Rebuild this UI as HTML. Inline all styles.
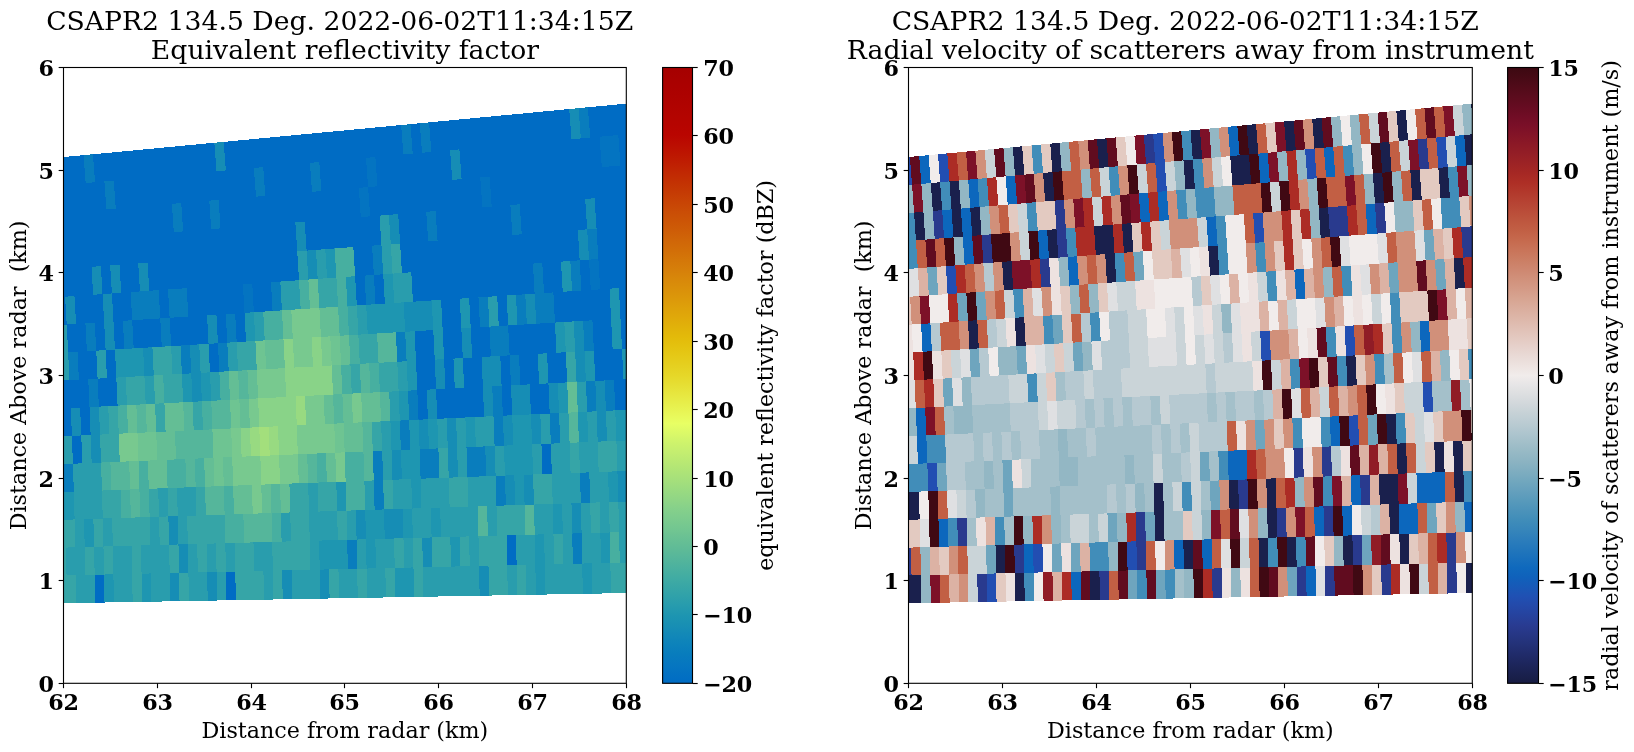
<!DOCTYPE html>
<html><head><meta charset="utf-8"><title>CSAPR2 RHI</title>
<style>
html,body{margin:0;padding:0;background:#fff;}
body{width:1634px;height:752px;overflow:hidden;}
svg{display:block;will-change:transform;}
text{font-family:"DejaVu Serif","Liberation Serif",serif;fill:#000;}
.ti{font-size:26.67px;}
.lb{font-size:22.22px;}
.tk{font-size:22.22px;font-weight:bold;letter-spacing:-0.3px;}
</style></head><body>
<svg width="1634" height="752" viewBox="0 0 1634 752">
<defs><linearGradient id="gh" x1="0" y1="0" x2="0" y2="1"><stop offset="0.0000" stop-color="#a50000"/><stop offset="0.0156" stop-color="#a80100"/><stop offset="0.0312" stop-color="#ab0100"/><stop offset="0.0469" stop-color="#ad0200"/><stop offset="0.0625" stop-color="#b00300"/><stop offset="0.0781" stop-color="#b30400"/><stop offset="0.0938" stop-color="#b60400"/><stop offset="0.1094" stop-color="#b90500"/><stop offset="0.1250" stop-color="#bb0d01"/><stop offset="0.1406" stop-color="#bd1601"/><stop offset="0.1562" stop-color="#bf1f02"/><stop offset="0.1719" stop-color="#c12903"/><stop offset="0.1875" stop-color="#c33203"/><stop offset="0.2031" stop-color="#c53b04"/><stop offset="0.2188" stop-color="#c84405"/><stop offset="0.2344" stop-color="#ca4d06"/><stop offset="0.2500" stop-color="#cc5506"/><stop offset="0.2656" stop-color="#ce5d07"/><stop offset="0.2812" stop-color="#d06608"/><stop offset="0.2969" stop-color="#d26e08"/><stop offset="0.3125" stop-color="#d47709"/><stop offset="0.3281" stop-color="#d67f0a"/><stop offset="0.3438" stop-color="#d8880a"/><stop offset="0.3594" stop-color="#da900a"/><stop offset="0.3750" stop-color="#dc980a"/><stop offset="0.3906" stop-color="#dea10a"/><stop offset="0.4062" stop-color="#e0a90a"/><stop offset="0.4219" stop-color="#e1b20a"/><stop offset="0.4375" stop-color="#e3ba0a"/><stop offset="0.4531" stop-color="#e4c20f"/><stop offset="0.4688" stop-color="#e5c917"/><stop offset="0.4844" stop-color="#e5d020"/><stop offset="0.5000" stop-color="#e6d728"/><stop offset="0.5156" stop-color="#e6df34"/><stop offset="0.5312" stop-color="#e7e740"/><stop offset="0.5469" stop-color="#e7ef4c"/><stop offset="0.5625" stop-color="#e8f758"/><stop offset="0.5781" stop-color="#e8ff64"/><stop offset="0.5938" stop-color="#dbf968"/><stop offset="0.6094" stop-color="#cef36c"/><stop offset="0.6250" stop-color="#c4ee70"/><stop offset="0.6406" stop-color="#b9e973"/><stop offset="0.6562" stop-color="#aee477"/><stop offset="0.6719" stop-color="#a4df7c"/><stop offset="0.6875" stop-color="#99da81"/><stop offset="0.7031" stop-color="#8fd586"/><stop offset="0.7188" stop-color="#84d08b"/><stop offset="0.7344" stop-color="#7bcb8e"/><stop offset="0.7500" stop-color="#72c691"/><stop offset="0.7656" stop-color="#68c094"/><stop offset="0.7812" stop-color="#5fbb97"/><stop offset="0.7969" stop-color="#55b69b"/><stop offset="0.8125" stop-color="#4bb19f"/><stop offset="0.8281" stop-color="#41aca3"/><stop offset="0.8438" stop-color="#38a6a6"/><stop offset="0.8594" stop-color="#2fa1aa"/><stop offset="0.8750" stop-color="#269bae"/><stop offset="0.8906" stop-color="#1d95b1"/><stop offset="0.9062" stop-color="#188fb4"/><stop offset="0.9219" stop-color="#1288b8"/><stop offset="0.9375" stop-color="#0c82bb"/><stop offset="0.9531" stop-color="#087cbd"/><stop offset="0.9688" stop-color="#0677c0"/><stop offset="0.9844" stop-color="#0371c2"/><stop offset="1.0000" stop-color="#006cc4"/></linearGradient><linearGradient id="gb" x1="0" y1="0" x2="0" y2="1"><stop offset="0.0000" stop-color="#3c0911"/><stop offset="0.0156" stop-color="#460a15"/><stop offset="0.0312" stop-color="#510b19"/><stop offset="0.0469" stop-color="#5b0c1d"/><stop offset="0.0625" stop-color="#650c21"/><stop offset="0.0781" stop-color="#700d25"/><stop offset="0.0938" stop-color="#7a0f28"/><stop offset="0.1094" stop-color="#831427"/><stop offset="0.1250" stop-color="#8c1926"/><stop offset="0.1406" stop-color="#941e26"/><stop offset="0.1562" stop-color="#9d2325"/><stop offset="0.1719" stop-color="#a62824"/><stop offset="0.1875" stop-color="#ae2f26"/><stop offset="0.2031" stop-color="#b2392c"/><stop offset="0.2188" stop-color="#b64333"/><stop offset="0.2344" stop-color="#ba4d39"/><stop offset="0.2500" stop-color="#be573f"/><stop offset="0.2656" stop-color="#c26045"/><stop offset="0.2812" stop-color="#c66a4e"/><stop offset="0.2969" stop-color="#c97459"/><stop offset="0.3125" stop-color="#cb7e64"/><stop offset="0.3281" stop-color="#ce8770"/><stop offset="0.3438" stop-color="#d1917b"/><stop offset="0.3594" stop-color="#d49a86"/><stop offset="0.3750" stop-color="#d7a491"/><stop offset="0.3906" stop-color="#daad9d"/><stop offset="0.4062" stop-color="#ddb6a8"/><stop offset="0.4219" stop-color="#e0bfb4"/><stop offset="0.4375" stop-color="#e3c8bf"/><stop offset="0.4531" stop-color="#e6d1cb"/><stop offset="0.4688" stop-color="#e9dad6"/><stop offset="0.4844" stop-color="#ede3e0"/><stop offset="0.5000" stop-color="#f1eceb"/><stop offset="0.5156" stop-color="#e6e5e6"/><stop offset="0.5312" stop-color="#dcdee0"/><stop offset="0.5469" stop-color="#d1d7db"/><stop offset="0.5625" stop-color="#c5d1d6"/><stop offset="0.5781" stop-color="#bacbd2"/><stop offset="0.5938" stop-color="#aec5ce"/><stop offset="0.6094" stop-color="#a2bfc9"/><stop offset="0.6250" stop-color="#96b9c5"/><stop offset="0.6406" stop-color="#8bb3c2"/><stop offset="0.6562" stop-color="#7eadc0"/><stop offset="0.6719" stop-color="#71a7be"/><stop offset="0.6875" stop-color="#65a0bd"/><stop offset="0.7031" stop-color="#589abb"/><stop offset="0.7188" stop-color="#4c93ba"/><stop offset="0.7344" stop-color="#408db9"/><stop offset="0.7500" stop-color="#3786ba"/><stop offset="0.7656" stop-color="#2d7ebb"/><stop offset="0.7812" stop-color="#2377bb"/><stop offset="0.7969" stop-color="#1970bc"/><stop offset="0.8125" stop-color="#0f69bd"/><stop offset="0.8281" stop-color="#1061bb"/><stop offset="0.8438" stop-color="#1859b7"/><stop offset="0.8594" stop-color="#2050b3"/><stop offset="0.8750" stop-color="#2449a9"/><stop offset="0.8906" stop-color="#26429d"/><stop offset="0.9062" stop-color="#293b91"/><stop offset="0.9219" stop-color="#263684"/><stop offset="0.9375" stop-color="#233177"/><stop offset="0.9531" stop-color="#202b6a"/><stop offset="0.9688" stop-color="#1d265c"/><stop offset="0.9844" stop-color="#1a214f"/><stop offset="1.0000" stop-color="#171c42"/></linearGradient></defs>
<clipPath id="clipL"><rect x="63.50" y="67.50" width="562.80" height="615.80"/></clipPath>
<g clip-path="url(#clipL)" shape-rendering="crispEdges"><polygon points="57.63,603.36 67.01,603.19 76.38,603.02 75.91,575.16 66.54,575.37 57.16,575.58" fill="#36a5a7"/>
<polygon points="76.38,603.02 85.76,602.86 95.14,602.69 94.67,574.74 85.29,574.95 75.91,575.16" fill="#299dad"/>
<polygon points="95.14,602.69 104.52,602.52 104.05,574.52 94.67,574.74" fill="#006cc4"/>
<polygon points="104.52,602.52 113.90,602.35 113.42,574.31 104.05,574.52" fill="#1e96b1"/>
<polygon points="113.90,602.35 123.27,602.19 132.65,602.02 132.18,573.89 122.80,574.10 113.42,574.31" fill="#299dad"/>
<polygon points="132.65,602.02 142.03,601.85 141.55,573.67 132.18,573.89" fill="#36a5a7"/>
<polygon points="142.03,601.85 151.41,601.69 150.93,573.46 141.55,573.67" fill="#1e96b1"/>
<polygon points="151.41,601.69 160.78,601.52 170.16,601.35 169.68,573.04 160.31,573.25 150.93,573.46" fill="#299dad"/>
<polygon points="170.16,601.35 179.54,601.18 179.06,572.82 169.68,573.04" fill="#168db5"/>
<polygon points="179.54,601.18 188.92,601.01 188.44,572.61 179.06,572.82" fill="#36a5a7"/>
<polygon points="188.92,601.01 198.30,600.85 207.67,600.68 207.19,572.19 197.81,572.40 188.44,572.61" fill="#299dad"/>
<polygon points="207.67,600.68 217.05,600.51 216.57,571.97 207.19,572.19" fill="#168db5"/>
<polygon points="217.05,600.51 226.43,600.34 225.94,571.76 216.57,571.97" fill="#299dad"/>
<polygon points="226.43,600.34 235.81,600.17 235.32,571.54 225.94,571.76" fill="#006cc4"/>
<polygon points="235.81,600.17 245.19,600.00 254.56,599.83 263.94,599.66 263.45,570.90 254.07,571.12 244.70,571.33 235.32,571.54" fill="#36a5a7"/>
<polygon points="263.94,599.66 273.32,599.50 272.83,570.69 263.45,570.90" fill="#299dad"/>
<polygon points="273.32,599.50 282.70,599.33 282.20,570.48 272.83,570.69" fill="#36a5a7"/>
<polygon points="282.70,599.33 292.07,599.16 291.58,570.26 282.20,570.48" fill="#168db5"/>
<polygon points="292.07,599.16 301.45,598.99 310.83,598.82 320.21,598.65 319.71,569.62 310.33,569.83 300.96,570.05 291.58,570.26" fill="#299dad"/>
<polygon points="320.21,598.65 329.59,598.48 329.09,569.40 319.71,569.62" fill="#168db5"/>
<polygon points="329.59,598.48 338.96,598.31 338.46,569.19 329.09,569.40" fill="#36a5a7"/>
<polygon points="338.96,598.31 348.34,598.14 357.72,597.97 357.22,568.76 347.84,568.97 338.46,569.19" fill="#299dad"/>
<polygon points="357.72,597.97 367.10,597.80 366.59,568.54 357.22,568.76" fill="#36a5a7"/>
<polygon points="367.10,597.80 376.47,597.63 385.85,597.46 385.35,568.11 375.97,568.33 366.59,568.54" fill="#299dad"/>
<polygon points="385.85,597.46 395.23,597.28 394.72,567.90 385.35,568.11" fill="#36a5a7"/>
<polygon points="395.23,597.28 404.61,597.11 413.99,596.94 413.48,567.46 404.10,567.68 394.72,567.90" fill="#1e96b1"/>
<polygon points="413.99,596.94 423.36,596.77 422.85,567.25 413.48,567.46" fill="#36a5a7"/>
<polygon points="423.36,596.77 432.74,596.60 442.12,596.43 451.50,596.26 460.87,596.09 470.25,595.91 479.63,595.74 479.11,565.95 469.74,566.17 460.36,566.38 450.98,566.60 441.61,566.82 432.23,567.03 422.85,567.25" fill="#299dad"/>
<polygon points="479.63,595.74 489.01,595.57 488.49,565.73 479.11,565.95" fill="#168db5"/>
<polygon points="489.01,595.57 498.39,595.40 507.76,595.23 507.24,565.30 497.87,565.52 488.49,565.73" fill="#36a5a7"/>
<polygon points="507.76,595.23 517.14,595.05 516.62,565.08 507.24,565.30" fill="#299dad"/>
<polygon points="517.14,595.05 526.52,594.88 526.00,564.87 516.62,565.08" fill="#36a5a7"/>
<polygon points="526.52,594.88 535.90,594.71 535.37,564.65 526.00,564.87" fill="#299dad"/>
<polygon points="535.90,594.71 545.27,594.54 544.75,564.43 535.37,564.65" fill="#1e96b1"/>
<polygon points="545.27,594.54 554.65,594.36 564.03,594.19 573.41,594.02 582.79,593.84 582.26,563.56 572.88,563.78 563.50,564.00 554.13,564.21 544.75,564.43" fill="#299dad"/>
<polygon points="582.79,593.84 592.16,593.67 591.63,563.34 582.26,563.56" fill="#1e96b1"/>
<polygon points="592.16,593.67 601.54,593.50 610.92,593.32 610.39,562.90 601.01,563.12 591.63,563.34" fill="#299dad"/>
<polygon points="610.92,593.32 620.30,593.15 629.67,592.98 639.05,592.80 648.43,592.63 657.81,592.45 667.18,592.28 666.65,561.59 657.27,561.81 647.89,562.03 638.52,562.25 629.14,562.47 619.76,562.69 610.39,562.90" fill="#36a5a7"/>
<polygon points="57.16,575.58 66.54,575.37 65.96,547.55 56.58,547.81" fill="#36a5a7"/>
<polygon points="66.54,575.37 75.91,575.16 85.29,574.95 84.71,547.04 75.33,547.30 65.96,547.55" fill="#299dad"/>
<polygon points="85.29,574.95 94.67,574.74 94.09,546.78 84.71,547.04" fill="#36a5a7"/>
<polygon points="94.67,574.74 104.05,574.52 103.46,546.53 94.09,546.78" fill="#299dad"/>
<polygon points="104.05,574.52 113.42,574.31 112.84,546.27 103.46,546.53" fill="#36a5a7"/>
<polygon points="113.42,574.31 122.80,574.10 132.18,573.89 131.59,545.76 122.21,546.01 112.84,546.27" fill="#299dad"/>
<polygon points="132.18,573.89 141.55,573.67 140.96,545.50 131.59,545.76" fill="#36a5a7"/>
<polygon points="141.55,573.67 150.93,573.46 160.31,573.25 169.68,573.04 169.09,544.73 159.71,544.98 150.34,545.24 140.96,545.50" fill="#299dad"/>
<polygon points="169.68,573.04 179.06,572.82 178.47,544.47 169.09,544.73" fill="#36a5a7"/>
<polygon points="179.06,572.82 188.44,572.61 187.84,544.21 178.47,544.47" fill="#168db5"/>
<polygon points="188.44,572.61 197.81,572.40 197.22,543.95 187.84,544.21" fill="#299dad"/>
<polygon points="197.81,572.40 207.19,572.19 206.59,543.70 197.22,543.95" fill="#36a5a7"/>
<polygon points="207.19,572.19 216.57,571.97 215.97,543.44 206.59,543.70" fill="#299dad"/>
<polygon points="216.57,571.97 225.94,571.76 225.34,543.18 215.97,543.44" fill="#36a5a7"/>
<polygon points="225.94,571.76 235.32,571.54 234.72,542.92 225.34,543.18" fill="#299dad"/>
<polygon points="235.32,571.54 244.70,571.33 254.07,571.12 253.47,542.40 244.09,542.66 234.72,542.92" fill="#36a5a7"/>
<polygon points="254.07,571.12 263.45,570.90 272.83,570.69 272.22,541.89 262.85,542.15 253.47,542.40" fill="#299dad"/>
<polygon points="272.83,570.69 282.20,570.48 291.58,570.26 300.96,570.05 310.33,569.83 309.72,540.85 300.35,541.11 290.97,541.37 281.60,541.63 272.22,541.89" fill="#36a5a7"/>
<polygon points="310.33,569.83 319.71,569.62 319.10,540.59 309.72,540.85" fill="#299dad"/>
<polygon points="319.71,569.62 329.09,569.40 338.46,569.19 347.84,568.97 347.22,539.81 337.85,540.07 328.47,540.33 319.10,540.59" fill="#1e96b1"/>
<polygon points="347.84,568.97 357.22,568.76 356.60,539.55 347.22,539.81" fill="#097dbd"/>
<polygon points="357.22,568.76 366.59,568.54 365.98,539.29 356.60,539.55" fill="#299dad"/>
<polygon points="366.59,568.54 375.97,568.33 375.35,539.03 365.98,539.29" fill="#1e96b1"/>
<polygon points="375.97,568.33 385.35,568.11 394.72,567.90 394.10,538.51 384.73,538.77 375.35,539.03" fill="#299dad"/>
<polygon points="394.72,567.90 404.10,567.68 403.48,538.25 394.10,538.51" fill="#36a5a7"/>
<polygon points="404.10,567.68 413.48,567.46 412.85,537.99 403.48,538.25" fill="#299dad"/>
<polygon points="413.48,567.46 422.85,567.25 422.23,537.73 412.85,537.99" fill="#36a5a7"/>
<polygon points="422.85,567.25 432.23,567.03 431.60,537.47 422.23,537.73" fill="#168db5"/>
<polygon points="432.23,567.03 441.61,566.82 450.98,566.60 450.35,536.95 440.98,537.21 431.60,537.47" fill="#36a5a7"/>
<polygon points="450.98,566.60 460.36,566.38 459.73,536.68 450.35,536.95" fill="#1e96b1"/>
<polygon points="460.36,566.38 469.74,566.17 469.10,536.42 459.73,536.68" fill="#36a5a7"/>
<polygon points="469.74,566.17 479.11,565.95 478.48,536.16 469.10,536.42" fill="#299dad"/>
<polygon points="479.11,565.95 488.49,565.73 497.87,565.52 507.24,565.30 506.61,535.38 497.23,535.64 487.86,535.90 478.48,536.16" fill="#36a5a7"/>
<polygon points="507.24,565.30 516.62,565.08 515.98,535.11 506.61,535.38" fill="#006cc4"/>
<polygon points="516.62,565.08 526.00,564.87 535.37,564.65 534.73,534.59 525.36,534.85 515.98,535.11" fill="#299dad"/>
<polygon points="535.37,564.65 544.75,564.43 544.11,534.33 534.73,534.59" fill="#1e96b1"/>
<polygon points="544.75,564.43 554.13,564.21 553.48,534.07 544.11,534.33" fill="#299dad"/>
<polygon points="554.13,564.21 563.50,564.00 562.86,533.80 553.48,534.07" fill="#36a5a7"/>
<polygon points="563.50,564.00 572.88,563.78 572.23,533.54 562.86,533.80" fill="#299dad"/>
<polygon points="572.88,563.78 582.26,563.56 581.61,533.28 572.23,533.54" fill="#097dbd"/>
<polygon points="582.26,563.56 591.63,563.34 601.01,563.12 600.36,532.75 590.98,533.01 581.61,533.28" fill="#299dad"/>
<polygon points="601.01,563.12 610.39,562.90 609.73,532.49 600.36,532.75" fill="#1e96b1"/>
<polygon points="610.39,562.90 619.76,562.69 619.11,532.22 609.73,532.49" fill="#47afa0"/>
<polygon points="619.76,562.69 629.14,562.47 638.52,562.25 647.89,562.03 657.27,561.81 666.65,561.59 665.99,530.91 656.61,531.17 647.24,531.43 637.86,531.70 628.49,531.96 619.11,532.22" fill="#299dad"/>
<polygon points="56.58,547.81 65.96,547.55 75.33,547.30 74.64,519.44 65.27,519.74 55.89,520.04" fill="#36a5a7"/>
<polygon points="75.33,547.30 84.71,547.04 84.02,519.14 74.64,519.44" fill="#299dad"/>
<polygon points="84.71,547.04 94.09,546.78 93.39,518.84 84.02,519.14" fill="#1e96b1"/>
<polygon points="94.09,546.78 103.46,546.53 102.76,518.53 93.39,518.84" fill="#36a5a7"/>
<polygon points="103.46,546.53 112.84,546.27 112.14,518.23 102.76,518.53" fill="#299dad"/>
<polygon points="112.84,546.27 122.21,546.01 131.59,545.76 140.96,545.50 150.34,545.24 149.64,517.03 140.26,517.33 130.89,517.63 121.51,517.93 112.14,518.23" fill="#36a5a7"/>
<polygon points="150.34,545.24 159.71,544.98 159.01,516.72 149.64,517.03" fill="#299dad"/>
<polygon points="159.71,544.98 169.09,544.73 168.38,516.42 159.01,516.72" fill="#36a5a7"/>
<polygon points="169.09,544.73 178.47,544.47 177.76,516.12 168.38,516.42" fill="#168db5"/>
<polygon points="178.47,544.47 187.84,544.21 187.13,515.82 177.76,516.12" fill="#299dad"/>
<polygon points="187.84,544.21 197.22,543.95 206.59,543.70 215.97,543.44 225.34,543.18 224.63,514.60 215.25,514.91 205.88,515.21 196.51,515.51 187.13,515.82" fill="#36a5a7"/>
<polygon points="225.34,543.18 234.72,542.92 244.09,542.66 243.38,514.00 234.00,514.30 224.63,514.60" fill="#47afa0"/>
<polygon points="244.09,542.66 253.47,542.40 262.85,542.15 272.22,541.89 271.50,513.09 262.13,513.39 252.75,513.69 243.38,514.00" fill="#55b69b"/>
<polygon points="272.22,541.89 281.60,541.63 280.87,512.78 271.50,513.09" fill="#47afa0"/>
<polygon points="281.60,541.63 290.97,541.37 290.25,512.48 280.87,512.78" fill="#299dad"/>
<polygon points="290.97,541.37 300.35,541.11 309.72,540.85 309.00,511.87 299.62,512.18 290.25,512.48" fill="#36a5a7"/>
<polygon points="309.72,540.85 319.10,540.59 328.47,540.33 337.85,540.07 337.12,510.96 327.74,511.26 318.37,511.57 309.00,511.87" fill="#299dad"/>
<polygon points="337.85,540.07 347.22,539.81 346.49,510.65 337.12,510.96" fill="#36a5a7"/>
<polygon points="347.22,539.81 356.60,539.55 355.87,510.35 346.49,510.65" fill="#299dad"/>
<polygon points="356.60,539.55 365.98,539.29 365.24,510.04 355.87,510.35" fill="#168db5"/>
<polygon points="365.98,539.29 375.35,539.03 384.73,538.77 383.99,509.43 374.61,509.74 365.24,510.04" fill="#1e96b1"/>
<polygon points="384.73,538.77 394.10,538.51 403.48,538.25 402.74,508.82 393.36,509.13 383.99,509.43" fill="#168db5"/>
<polygon points="403.48,538.25 412.85,537.99 412.11,508.52 402.74,508.82" fill="#1e96b1"/>
<polygon points="412.85,537.99 422.23,537.73 431.60,537.47 430.86,507.91 421.48,508.21 412.11,508.52" fill="#299dad"/>
<polygon points="431.60,537.47 440.98,537.21 440.23,507.60 430.86,507.91" fill="#1e96b1"/>
<polygon points="440.98,537.21 450.35,536.95 459.73,536.68 469.10,536.42 478.48,536.16 477.73,506.38 468.35,506.68 458.98,506.99 449.61,507.29 440.23,507.60" fill="#299dad"/>
<polygon points="478.48,536.16 487.86,535.90 487.10,506.07 477.73,506.38" fill="#55b69b"/>
<polygon points="487.86,535.90 497.23,535.64 496.47,505.76 487.10,506.07" fill="#299dad"/>
<polygon points="497.23,535.64 506.61,535.38 515.98,535.11 525.36,534.85 524.60,504.84 515.22,505.15 505.85,505.46 496.47,505.76" fill="#36a5a7"/>
<polygon points="525.36,534.85 534.73,534.59 533.97,504.54 524.60,504.84" fill="#55b69b"/>
<polygon points="534.73,534.59 544.11,534.33 553.48,534.07 552.72,503.92 543.34,504.23 533.97,504.54" fill="#299dad"/>
<polygon points="553.48,534.07 562.86,533.80 562.09,503.61 552.72,503.92" fill="#1e96b1"/>
<polygon points="562.86,533.80 572.23,533.54 571.47,503.31 562.09,503.61" fill="#299dad"/>
<polygon points="572.23,533.54 581.61,533.28 580.84,503.00 571.47,503.31" fill="#168db5"/>
<polygon points="581.61,533.28 590.98,533.01 590.21,502.69 580.84,503.00" fill="#299dad"/>
<polygon points="590.98,533.01 600.36,532.75 599.59,502.38 590.21,502.69" fill="#36a5a7"/>
<polygon points="600.36,532.75 609.73,532.49 608.96,502.07 599.59,502.38" fill="#299dad"/>
<polygon points="609.73,532.49 619.11,532.22 618.33,501.77 608.96,502.07" fill="#36a5a7"/>
<polygon points="619.11,532.22 628.49,531.96 637.86,531.70 647.24,531.43 656.61,531.17 665.99,530.91 665.20,500.22 655.83,500.53 646.46,500.84 637.08,501.15 627.71,501.46 618.33,501.77" fill="#299dad"/>
<polygon points="55.89,520.04 65.27,519.74 74.64,519.44 73.84,491.58 64.47,491.93 55.09,492.28" fill="#1e96b1"/>
<polygon points="74.64,519.44 84.02,519.14 93.39,518.84 102.76,518.53 101.96,490.54 92.58,490.89 83.21,491.24 73.84,491.58" fill="#299dad"/>
<polygon points="102.76,518.53 112.14,518.23 121.51,517.93 120.70,489.85 111.33,490.20 101.96,490.54" fill="#36a5a7"/>
<polygon points="121.51,517.93 130.89,517.63 130.08,489.51 120.70,489.85" fill="#47afa0"/>
<polygon points="130.89,517.63 140.26,517.33 139.45,489.16 130.08,489.51" fill="#55b69b"/>
<polygon points="140.26,517.33 149.64,517.03 148.82,488.81 139.45,489.16" fill="#47afa0"/>
<polygon points="149.64,517.03 159.01,516.72 158.19,488.46 148.82,488.81" fill="#36a5a7"/>
<polygon points="159.01,516.72 168.38,516.42 167.57,488.12 158.19,488.46" fill="#299dad"/>
<polygon points="168.38,516.42 177.76,516.12 176.94,487.77 167.57,488.12" fill="#36a5a7"/>
<polygon points="177.76,516.12 187.13,515.82 196.51,515.51 195.68,487.08 186.31,487.42 176.94,487.77" fill="#299dad"/>
<polygon points="196.51,515.51 205.88,515.21 205.06,486.73 195.68,487.08" fill="#36a5a7"/>
<polygon points="205.88,515.21 215.25,514.91 224.63,514.60 223.80,486.03 214.43,486.38 205.06,486.73" fill="#55b69b"/>
<polygon points="224.63,514.60 234.00,514.30 233.17,485.68 223.80,486.03" fill="#47afa0"/>
<polygon points="234.00,514.30 243.38,514.00 252.75,513.69 251.92,484.99 242.55,485.34 233.17,485.68" fill="#64be95"/>
<polygon points="252.75,513.69 262.13,513.39 261.29,484.64 251.92,484.99" fill="#78c98f"/>
<polygon points="262.13,513.39 271.50,513.09 270.66,484.29 261.29,484.64" fill="#64be95"/>
<polygon points="271.50,513.09 280.87,512.78 280.04,483.94 270.66,484.29" fill="#55b69b"/>
<polygon points="280.87,512.78 290.25,512.48 289.41,483.59 280.04,483.94" fill="#64be95"/>
<polygon points="290.25,512.48 299.62,512.18 309.00,511.87 308.15,482.90 298.78,483.24 289.41,483.59" fill="#36a5a7"/>
<polygon points="309.00,511.87 318.37,511.57 317.52,482.55 308.15,482.90" fill="#299dad"/>
<polygon points="318.37,511.57 327.74,511.26 337.12,510.96 336.27,481.85 326.90,482.20 317.52,482.55" fill="#36a5a7"/>
<polygon points="337.12,510.96 346.49,510.65 345.64,481.50 336.27,481.85" fill="#1e96b1"/>
<polygon points="346.49,510.65 355.87,510.35 365.24,510.04 364.39,480.80 355.01,481.15 345.64,481.50" fill="#47afa0"/>
<polygon points="365.24,510.04 374.61,509.74 373.76,480.45 364.39,480.80" fill="#299dad"/>
<polygon points="374.61,509.74 383.99,509.43 383.13,480.10 373.76,480.45" fill="#097dbd"/>
<polygon points="383.99,509.43 393.36,509.13 392.50,479.75 383.13,480.10" fill="#36a5a7"/>
<polygon points="393.36,509.13 402.74,508.82 412.11,508.52 411.25,479.05 401.88,479.40 392.50,479.75" fill="#299dad"/>
<polygon points="412.11,508.52 421.48,508.21 420.62,478.70 411.25,479.05" fill="#1e96b1"/>
<polygon points="421.48,508.21 430.86,507.91 440.23,507.60 449.61,507.29 448.74,477.65 439.37,478.00 429.99,478.35 420.62,478.70" fill="#299dad"/>
<polygon points="449.61,507.29 458.98,506.99 468.35,506.68 467.48,476.95 458.11,477.30 448.74,477.65" fill="#36a5a7"/>
<polygon points="468.35,506.68 477.73,506.38 487.10,506.07 496.47,505.76 495.60,475.89 486.23,476.24 476.85,476.59 467.48,476.95" fill="#299dad"/>
<polygon points="496.47,505.76 505.85,505.46 504.97,475.54 495.60,475.89" fill="#097dbd"/>
<polygon points="505.85,505.46 515.22,505.15 514.34,475.19 504.97,475.54" fill="#168db5"/>
<polygon points="515.22,505.15 524.60,504.84 523.72,474.84 514.34,475.19" fill="#1e96b1"/>
<polygon points="524.60,504.84 533.97,504.54 533.09,474.48 523.72,474.84" fill="#168db5"/>
<polygon points="533.97,504.54 543.34,504.23 552.72,503.92 551.83,473.78 542.46,474.13 533.09,474.48" fill="#36a5a7"/>
<polygon points="552.72,503.92 562.09,503.61 571.47,503.31 580.84,503.00 579.95,472.72 570.58,473.08 561.20,473.43 551.83,473.78" fill="#299dad"/>
<polygon points="580.84,503.00 590.21,502.69 589.32,472.37 579.95,472.72" fill="#097dbd"/>
<polygon points="590.21,502.69 599.59,502.38 608.96,502.07 608.07,471.67 598.69,472.02 589.32,472.37" fill="#299dad"/>
<polygon points="608.96,502.07 618.33,501.77 617.44,471.31 608.07,471.67" fill="#1e96b1"/>
<polygon points="618.33,501.77 627.71,501.46 626.81,470.96 617.44,471.31" fill="#168db5"/>
<polygon points="627.71,501.46 637.08,501.15 646.46,500.84 655.83,500.53 665.20,500.22 664.30,469.55 654.93,469.90 645.55,470.25 636.18,470.61 626.81,470.96" fill="#097dbd"/>
<polygon points="55.09,492.28 64.47,491.93 73.84,491.58 72.93,463.73 63.55,464.12 54.18,464.51" fill="#097dbd"/>
<polygon points="73.84,491.58 83.21,491.24 92.58,490.89 101.96,490.54 101.04,462.56 91.67,462.95 82.30,463.34 72.93,463.73" fill="#299dad"/>
<polygon points="101.96,490.54 111.33,490.20 110.41,462.17 101.04,462.56" fill="#47afa0"/>
<polygon points="111.33,490.20 120.70,489.85 130.08,489.51 129.15,461.39 119.78,461.78 110.41,462.17" fill="#55b69b"/>
<polygon points="130.08,489.51 139.45,489.16 138.52,460.99 129.15,461.39" fill="#64be95"/>
<polygon points="139.45,489.16 148.82,488.81 147.89,460.60 138.52,460.99" fill="#47afa0"/>
<polygon points="148.82,488.81 158.19,488.46 167.57,488.12 166.63,459.82 157.26,460.21 147.89,460.60" fill="#64be95"/>
<polygon points="167.57,488.12 176.94,487.77 186.31,487.42 185.37,459.03 176.00,459.43 166.63,459.82" fill="#47afa0"/>
<polygon points="186.31,487.42 195.68,487.08 194.75,458.64 185.37,459.03" fill="#55b69b"/>
<polygon points="195.68,487.08 205.06,486.73 204.12,458.25 194.75,458.64" fill="#47afa0"/>
<polygon points="205.06,486.73 214.43,486.38 213.49,457.86 204.12,458.25" fill="#64be95"/>
<polygon points="214.43,486.38 223.80,486.03 222.86,457.46 213.49,457.86" fill="#6ec492"/>
<polygon points="223.80,486.03 233.17,485.68 232.23,457.07 222.86,457.46" fill="#64be95"/>
<polygon points="233.17,485.68 242.55,485.34 251.92,484.99 261.29,484.64 260.34,455.89 250.97,456.29 241.60,456.68 232.23,457.07" fill="#78c98f"/>
<polygon points="261.29,484.64 270.66,484.29 280.04,483.94 279.08,455.11 269.71,455.50 260.34,455.89" fill="#89d388"/>
<polygon points="280.04,483.94 289.41,483.59 298.78,483.24 297.82,454.32 288.45,454.71 279.08,455.11" fill="#78c98f"/>
<polygon points="298.78,483.24 308.15,482.90 307.19,453.92 297.82,454.32" fill="#64be95"/>
<polygon points="308.15,482.90 317.52,482.55 316.56,453.53 307.19,453.92" fill="#55b69b"/>
<polygon points="317.52,482.55 326.90,482.20 325.94,453.14 316.56,453.53" fill="#47afa0"/>
<polygon points="326.90,482.20 336.27,481.85 335.31,452.74 325.94,453.14" fill="#64be95"/>
<polygon points="336.27,481.85 345.64,481.50 344.68,452.35 335.31,452.74" fill="#78c98f"/>
<polygon points="345.64,481.50 355.01,481.15 364.39,480.80 363.42,451.56 354.05,451.95 344.68,452.35" fill="#47afa0"/>
<polygon points="364.39,480.80 373.76,480.45 372.79,451.17 363.42,451.56" fill="#55b69b"/>
<polygon points="373.76,480.45 383.13,480.10 382.16,450.77 372.79,451.17" fill="#097dbd"/>
<polygon points="383.13,480.10 392.50,479.75 391.53,450.38 382.16,450.77" fill="#299dad"/>
<polygon points="392.50,479.75 401.88,479.40 400.90,449.98 391.53,450.38" fill="#168db5"/>
<polygon points="401.88,479.40 411.25,479.05 420.62,478.70 419.64,449.19 410.27,449.59 400.90,449.98" fill="#1e96b1"/>
<polygon points="420.62,478.70 429.99,478.35 439.37,478.00 438.38,448.40 429.01,448.79 419.64,449.19" fill="#097dbd"/>
<polygon points="439.37,478.00 448.74,477.65 447.75,448.00 438.38,448.40" fill="#36a5a7"/>
<polygon points="448.74,477.65 458.11,477.30 457.12,447.61 447.75,448.00" fill="#168db5"/>
<polygon points="458.11,477.30 467.48,476.95 466.49,447.21 457.12,447.61" fill="#299dad"/>
<polygon points="467.48,476.95 476.85,476.59 486.23,476.24 485.23,446.42 475.86,446.82 466.49,447.21" fill="#097dbd"/>
<polygon points="486.23,476.24 495.60,475.89 494.60,446.02 485.23,446.42" fill="#168db5"/>
<polygon points="495.60,475.89 504.97,475.54 503.98,445.63 494.60,446.02" fill="#299dad"/>
<polygon points="504.97,475.54 514.34,475.19 523.72,474.84 533.09,474.48 532.09,444.44 522.72,444.84 513.35,445.23 503.98,445.63" fill="#1e96b1"/>
<polygon points="533.09,474.48 542.46,474.13 541.46,444.04 532.09,444.44" fill="#299dad"/>
<polygon points="542.46,474.13 551.83,473.78 550.83,443.64 541.46,444.04" fill="#006cc4"/>
<polygon points="551.83,473.78 561.20,473.43 570.58,473.08 569.57,442.85 560.20,443.25 550.83,443.64" fill="#299dad"/>
<polygon points="570.58,473.08 579.95,472.72 578.94,442.45 569.57,442.85" fill="#36a5a7"/>
<polygon points="579.95,472.72 589.32,472.37 598.69,472.02 597.68,441.66 588.31,442.06 578.94,442.45" fill="#299dad"/>
<polygon points="598.69,472.02 608.07,471.67 617.44,471.31 616.42,440.86 607.05,441.26 597.68,441.66" fill="#36a5a7"/>
<polygon points="617.44,471.31 626.81,470.96 636.18,470.61 645.55,470.25 654.93,469.90 664.30,469.55 663.27,438.87 653.90,439.27 644.53,439.67 635.16,440.07 625.79,440.47 616.42,440.86" fill="#299dad"/>
<polygon points="54.18,464.51 63.55,464.12 72.93,463.73 71.90,435.89 62.53,436.32 53.16,436.76" fill="#299dad"/>
<polygon points="72.93,463.73 82.30,463.34 81.27,435.45 71.90,435.89" fill="#006cc4"/>
<polygon points="82.30,463.34 91.67,462.95 90.64,435.01 81.27,435.45" fill="#299dad"/>
<polygon points="91.67,462.95 101.04,462.56 100.01,434.58 90.64,435.01" fill="#168db5"/>
<polygon points="101.04,462.56 110.41,462.17 119.78,461.78 118.74,433.71 109.38,434.14 100.01,434.58" fill="#36a5a7"/>
<polygon points="119.78,461.78 129.15,461.39 138.52,460.99 137.48,432.83 128.11,433.27 118.74,433.71" fill="#78c98f"/>
<polygon points="138.52,460.99 147.89,460.60 157.26,460.21 156.22,431.96 146.85,432.40 137.48,432.83" fill="#6ec492"/>
<polygon points="157.26,460.21 166.63,459.82 176.00,459.43 174.96,431.09 165.59,431.52 156.22,431.96" fill="#64be95"/>
<polygon points="176.00,459.43 185.37,459.03 194.75,458.64 204.12,458.25 213.49,457.86 212.43,429.34 203.06,429.78 193.70,430.21 184.33,430.65 174.96,431.09" fill="#55b69b"/>
<polygon points="213.49,457.86 222.86,457.46 232.23,457.07 231.17,428.46 221.80,428.90 212.43,429.34" fill="#6ec492"/>
<polygon points="232.23,457.07 241.60,456.68 240.54,428.03 231.17,428.46" fill="#78c98f"/>
<polygon points="241.60,456.68 250.97,456.29 249.91,427.59 240.54,428.03" fill="#89d388"/>
<polygon points="250.97,456.29 260.34,455.89 259.28,427.15 249.91,427.59" fill="#98da81"/>
<polygon points="260.34,455.89 269.71,455.50 268.64,426.71 259.28,427.15" fill="#a3df7c"/>
<polygon points="269.71,455.50 279.08,455.11 278.01,426.27 268.64,426.71" fill="#98da81"/>
<polygon points="279.08,455.11 288.45,454.71 297.82,454.32 296.75,425.40 287.38,425.84 278.01,426.27" fill="#89d388"/>
<polygon points="297.82,454.32 307.19,453.92 316.56,453.53 325.94,453.14 335.31,452.74 334.23,423.64 324.86,424.08 315.49,424.52 306.12,424.96 296.75,425.40" fill="#78c98f"/>
<polygon points="335.31,452.74 344.68,452.35 343.59,423.20 334.23,423.64" fill="#6ec492"/>
<polygon points="344.68,452.35 354.05,451.95 363.42,451.56 362.33,422.32 352.96,422.76 343.59,423.20" fill="#64be95"/>
<polygon points="363.42,451.56 372.79,451.17 371.70,421.89 362.33,422.32" fill="#55b69b"/>
<polygon points="372.79,451.17 382.16,450.77 381.07,421.45 371.70,421.89" fill="#36a5a7"/>
<polygon points="382.16,450.77 391.53,450.38 390.44,421.01 381.07,421.45" fill="#299dad"/>
<polygon points="391.53,450.38 400.90,449.98 399.81,420.57 390.44,421.01" fill="#1e96b1"/>
<polygon points="400.90,449.98 410.27,449.59 409.17,420.13 399.81,420.57" fill="#097dbd"/>
<polygon points="410.27,449.59 419.64,449.19 418.54,419.69 409.17,420.13" fill="#1e96b1"/>
<polygon points="419.64,449.19 429.01,448.79 427.91,419.25 418.54,419.69" fill="#168db5"/>
<polygon points="429.01,448.79 438.38,448.40 437.28,418.81 427.91,419.25" fill="#1e96b1"/>
<polygon points="438.38,448.40 447.75,448.00 446.65,418.37 437.28,418.81" fill="#299dad"/>
<polygon points="447.75,448.00 457.12,447.61 456.02,417.93 446.65,418.37" fill="#168db5"/>
<polygon points="457.12,447.61 466.49,447.21 465.39,417.48 456.02,417.93" fill="#299dad"/>
<polygon points="466.49,447.21 475.86,446.82 474.75,417.04 465.39,417.48" fill="#1e96b1"/>
<polygon points="475.86,446.82 485.23,446.42 494.60,446.02 493.49,416.16 484.12,416.60 474.75,417.04" fill="#299dad"/>
<polygon points="494.60,446.02 503.98,445.63 502.86,415.72 493.49,416.16" fill="#097dbd"/>
<polygon points="503.98,445.63 513.35,445.23 512.23,415.28 502.86,415.72" fill="#168db5"/>
<polygon points="513.35,445.23 522.72,444.84 532.09,444.44 530.96,414.40 521.60,414.84 512.23,415.28" fill="#1e96b1"/>
<polygon points="532.09,444.44 541.46,444.04 540.33,413.96 530.96,414.40" fill="#168db5"/>
<polygon points="541.46,444.04 550.83,443.64 549.70,413.51 540.33,413.96" fill="#299dad"/>
<polygon points="550.83,443.64 560.20,443.25 559.07,413.07 549.70,413.51" fill="#097dbd"/>
<polygon points="560.20,443.25 569.57,442.85 568.44,412.63 559.07,413.07" fill="#299dad"/>
<polygon points="569.57,442.85 578.94,442.45 577.81,412.19 568.44,412.63" fill="#55b69b"/>
<polygon points="578.94,442.45 588.31,442.06 587.17,411.75 577.81,412.19" fill="#1e96b1"/>
<polygon points="588.31,442.06 597.68,441.66 596.54,411.30 587.17,411.75" fill="#299dad"/>
<polygon points="597.68,441.66 607.05,441.26 605.91,410.86 596.54,411.30" fill="#168db5"/>
<polygon points="607.05,441.26 616.42,440.86 615.28,410.42 605.91,410.86" fill="#299dad"/>
<polygon points="616.42,440.86 625.79,440.47 635.16,440.07 644.53,439.67 653.90,439.27 663.27,438.87 662.12,408.20 652.75,408.65 643.39,409.09 634.02,409.53 624.65,409.98 615.28,410.42" fill="#1e96b1"/>
<polygon points="53.16,436.76 62.53,436.32 71.90,435.89 70.76,408.05 61.40,408.53 52.03,409.01" fill="#006cc4"/>
<polygon points="71.90,435.89 81.27,435.45 80.13,407.56 70.76,408.05" fill="#168db5"/>
<polygon points="81.27,435.45 90.64,435.01 89.50,407.08 80.13,407.56" fill="#006cc4"/>
<polygon points="90.64,435.01 100.01,434.58 98.86,406.60 89.50,407.08" fill="#168db5"/>
<polygon points="100.01,434.58 109.38,434.14 108.23,406.12 98.86,406.60" fill="#299dad"/>
<polygon points="109.38,434.14 118.74,433.71 117.60,405.64 108.23,406.12" fill="#36a5a7"/>
<polygon points="118.74,433.71 128.11,433.27 126.96,405.16 117.60,405.64" fill="#47afa0"/>
<polygon points="128.11,433.27 137.48,432.83 136.33,404.68 126.96,405.16" fill="#64be95"/>
<polygon points="137.48,432.83 146.85,432.40 145.70,404.20 136.33,404.68" fill="#55b69b"/>
<polygon points="146.85,432.40 156.22,431.96 155.06,403.72 145.70,404.20" fill="#64be95"/>
<polygon points="156.22,431.96 165.59,431.52 164.43,403.24 155.06,403.72" fill="#36a5a7"/>
<polygon points="165.59,431.52 174.96,431.09 184.33,430.65 183.16,402.27 173.80,402.75 164.43,403.24" fill="#64be95"/>
<polygon points="184.33,430.65 193.70,430.21 192.53,401.79 183.16,402.27" fill="#55b69b"/>
<polygon points="193.70,430.21 203.06,429.78 201.90,401.31 192.53,401.79" fill="#36a5a7"/>
<polygon points="203.06,429.78 212.43,429.34 211.26,400.83 201.90,401.31" fill="#47afa0"/>
<polygon points="212.43,429.34 221.80,428.90 231.17,428.46 230.00,399.86 220.63,400.34 211.26,400.83" fill="#55b69b"/>
<polygon points="231.17,428.46 240.54,428.03 239.36,399.38 230.00,399.86" fill="#6ec492"/>
<polygon points="240.54,428.03 249.91,427.59 248.73,398.90 239.36,399.38" fill="#64be95"/>
<polygon points="249.91,427.59 259.28,427.15 258.10,398.41 248.73,398.90" fill="#78c98f"/>
<polygon points="259.28,427.15 268.64,426.71 278.01,426.27 287.38,425.84 296.75,425.40 295.56,396.48 286.20,396.96 276.83,397.45 267.46,397.93 258.10,398.41" fill="#89d388"/>
<polygon points="296.75,425.40 306.12,424.96 304.93,396.00 295.56,396.48" fill="#98da81"/>
<polygon points="306.12,424.96 315.49,424.52 324.86,424.08 323.66,395.03 314.30,395.51 304.93,396.00" fill="#78c98f"/>
<polygon points="324.86,424.08 334.23,423.64 333.03,394.55 323.66,395.03" fill="#64be95"/>
<polygon points="334.23,423.64 343.59,423.20 342.40,394.06 333.03,394.55" fill="#55b69b"/>
<polygon points="343.59,423.20 352.96,422.76 351.76,393.58 342.40,394.06" fill="#64be95"/>
<polygon points="352.96,422.76 362.33,422.32 361.13,393.10 351.76,393.58" fill="#78c98f"/>
<polygon points="362.33,422.32 371.70,421.89 381.07,421.45 379.86,392.13 370.50,392.61 361.13,393.10" fill="#64be95"/>
<polygon points="381.07,421.45 390.44,421.01 389.23,391.64 379.86,392.13" fill="#55b69b"/>
<polygon points="390.44,421.01 399.81,420.57 398.59,391.16 389.23,391.64" fill="#299dad"/>
<polygon points="399.81,420.57 409.17,420.13 407.96,390.67 398.59,391.16" fill="#1e96b1"/>
<polygon points="409.17,420.13 418.54,419.69 417.33,390.19 407.96,390.67" fill="#097dbd"/>
<polygon points="418.54,419.69 427.91,419.25 426.69,389.70 417.33,390.19" fill="#006cc4"/>
<polygon points="427.91,419.25 437.28,418.81 436.06,389.22 426.69,389.70" fill="#168db5"/>
<polygon points="437.28,418.81 446.65,418.37 456.02,417.93 465.39,417.48 474.75,417.04 484.12,416.60 482.89,386.79 473.53,387.28 464.16,387.76 454.79,388.25 445.43,388.73 436.06,389.22" fill="#006cc4"/>
<polygon points="484.12,416.60 493.49,416.16 492.26,386.31 482.89,386.79" fill="#168db5"/>
<polygon points="493.49,416.16 502.86,415.72 501.62,385.82 492.26,386.31" fill="#097dbd"/>
<polygon points="502.86,415.72 512.23,415.28 510.99,385.33 501.62,385.82" fill="#006cc4"/>
<polygon points="512.23,415.28 521.60,414.84 530.96,414.40 529.72,384.36 520.36,384.85 510.99,385.33" fill="#168db5"/>
<polygon points="530.96,414.40 540.33,413.96 549.70,413.51 548.46,383.39 539.09,383.88 529.72,384.36" fill="#006cc4"/>
<polygon points="549.70,413.51 559.07,413.07 557.82,382.90 548.46,383.39" fill="#168db5"/>
<polygon points="559.07,413.07 568.44,412.63 567.19,382.42 557.82,382.90" fill="#1e96b1"/>
<polygon points="568.44,412.63 577.81,412.19 576.55,381.93 567.19,382.42" fill="#64be95"/>
<polygon points="577.81,412.19 587.17,411.75 585.92,381.44 576.55,381.93" fill="#299dad"/>
<polygon points="587.17,411.75 596.54,411.30 595.29,380.95 585.92,381.44" fill="#097dbd"/>
<polygon points="596.54,411.30 605.91,410.86 604.65,380.47 595.29,380.95" fill="#168db5"/>
<polygon points="605.91,410.86 615.28,410.42 614.02,379.98 604.65,380.47" fill="#097dbd"/>
<polygon points="615.28,410.42 624.65,409.98 634.02,409.53 643.39,409.09 652.75,408.65 662.12,408.20 660.85,377.54 651.48,378.03 642.12,378.52 632.75,379.01 623.38,379.49 614.02,379.98" fill="#006cc4"/>
<polygon points="52.03,409.01 61.40,408.53 70.76,408.05 80.13,407.56 89.50,407.08 88.25,379.16 78.88,379.68 69.52,380.21 60.15,380.73 50.79,381.26" fill="#006cc4"/>
<polygon points="89.50,407.08 98.86,406.60 97.61,378.63 88.25,379.16" fill="#097dbd"/>
<polygon points="98.86,406.60 108.23,406.12 117.60,405.64 116.34,377.58 106.97,378.11 97.61,378.63" fill="#006cc4"/>
<polygon points="117.60,405.64 126.96,405.16 125.70,377.06 116.34,377.58" fill="#299dad"/>
<polygon points="126.96,405.16 136.33,404.68 145.70,404.20 144.43,376.00 135.07,376.53 125.70,377.06" fill="#36a5a7"/>
<polygon points="145.70,404.20 155.06,403.72 153.80,375.48 144.43,376.00" fill="#299dad"/>
<polygon points="155.06,403.72 164.43,403.24 163.16,374.95 153.80,375.48" fill="#47afa0"/>
<polygon points="164.43,403.24 173.80,402.75 183.16,402.27 181.89,373.90 172.53,374.43 163.16,374.95" fill="#36a5a7"/>
<polygon points="183.16,402.27 192.53,401.79 191.25,373.37 181.89,373.90" fill="#1e96b1"/>
<polygon points="192.53,401.79 201.90,401.31 200.62,372.85 191.25,373.37" fill="#168db5"/>
<polygon points="201.90,401.31 211.26,400.83 209.98,372.32 200.62,372.85" fill="#1e96b1"/>
<polygon points="211.26,400.83 220.63,400.34 219.35,371.79 209.98,372.32" fill="#299dad"/>
<polygon points="220.63,400.34 230.00,399.86 228.71,371.26 219.35,371.79" fill="#47afa0"/>
<polygon points="230.00,399.86 239.36,399.38 238.08,370.74 228.71,371.26" fill="#64be95"/>
<polygon points="239.36,399.38 248.73,398.90 247.44,370.21 238.08,370.74" fill="#55b69b"/>
<polygon points="248.73,398.90 258.10,398.41 256.80,369.68 247.44,370.21" fill="#64be95"/>
<polygon points="258.10,398.41 267.46,397.93 276.83,397.45 286.20,396.96 284.90,368.10 275.53,368.63 266.17,369.15 256.80,369.68" fill="#78c98f"/>
<polygon points="286.20,396.96 295.56,396.48 304.93,396.00 314.30,395.51 323.66,395.03 333.03,394.55 331.72,365.46 322.35,365.99 312.99,366.51 303.62,367.04 294.26,367.57 284.90,368.10" fill="#89d388"/>
<polygon points="333.03,394.55 342.40,394.06 341.08,364.93 331.72,365.46" fill="#64be95"/>
<polygon points="342.40,394.06 351.76,393.58 350.45,364.40 341.08,364.93" fill="#47afa0"/>
<polygon points="351.76,393.58 361.13,393.10 359.81,363.87 350.45,364.40" fill="#36a5a7"/>
<polygon points="361.13,393.10 370.50,392.61 369.17,363.34 359.81,363.87" fill="#55b69b"/>
<polygon points="370.50,392.61 379.86,392.13 378.54,362.81 369.17,363.34" fill="#47afa0"/>
<polygon points="379.86,392.13 389.23,391.64 398.59,391.16 397.27,361.76 387.90,362.28 378.54,362.81" fill="#36a5a7"/>
<polygon points="398.59,391.16 407.96,390.67 406.63,361.23 397.27,361.76" fill="#299dad"/>
<polygon points="407.96,390.67 417.33,390.19 415.99,360.70 406.63,361.23" fill="#1e96b1"/>
<polygon points="417.33,390.19 426.69,389.70 436.06,389.22 434.72,359.64 425.36,360.17 415.99,360.70" fill="#006cc4"/>
<polygon points="436.06,389.22 445.43,388.73 444.09,359.11 434.72,359.64" fill="#168db5"/>
<polygon points="445.43,388.73 454.79,388.25 453.45,358.58 444.09,359.11" fill="#006cc4"/>
<polygon points="454.79,388.25 464.16,387.76 462.81,358.05 453.45,358.58" fill="#1e96b1"/>
<polygon points="464.16,387.76 473.53,387.28 482.89,386.79 481.54,356.99 472.18,357.52 462.81,358.05" fill="#006cc4"/>
<polygon points="482.89,386.79 492.26,386.31 501.62,385.82 500.27,355.93 490.91,356.46 481.54,356.99" fill="#168db5"/>
<polygon points="501.62,385.82 510.99,385.33 509.63,355.39 500.27,355.93" fill="#006cc4"/>
<polygon points="510.99,385.33 520.36,384.85 519.00,354.86 509.63,355.39" fill="#097dbd"/>
<polygon points="520.36,384.85 529.72,384.36 539.09,383.88 537.73,353.80 528.36,354.33 519.00,354.86" fill="#006cc4"/>
<polygon points="539.09,383.88 548.46,383.39 547.09,353.27 537.73,353.80" fill="#1e96b1"/>
<polygon points="548.46,383.39 557.82,382.90 567.19,382.42 565.82,352.21 556.45,352.74 547.09,353.27" fill="#006cc4"/>
<polygon points="567.19,382.42 576.55,381.93 575.18,351.68 565.82,352.21" fill="#36a5a7"/>
<polygon points="576.55,381.93 585.92,381.44 584.54,351.14 575.18,351.68" fill="#168db5"/>
<polygon points="585.92,381.44 595.29,380.95 593.91,350.61 584.54,351.14" fill="#1e96b1"/>
<polygon points="595.29,380.95 604.65,380.47 614.02,379.98 623.38,379.49 622.00,349.02 612.64,349.55 603.27,350.08 593.91,350.61" fill="#006cc4"/>
<polygon points="623.38,379.49 632.75,379.01 642.12,378.52 651.48,378.03 660.85,377.54 659.46,346.89 650.09,347.42 640.73,347.95 631.36,348.48 622.00,349.02" fill="#1e96b1"/>
<polygon points="50.79,381.26 60.15,380.73 69.52,380.21 68.16,352.38 58.80,352.95 49.43,353.52" fill="#299dad"/>
<polygon points="69.52,380.21 78.88,379.68 77.52,351.81 68.16,352.38" fill="#097dbd"/>
<polygon points="78.88,379.68 88.25,379.16 97.61,378.63 96.24,350.67 86.88,351.24 77.52,351.81" fill="#006cc4"/>
<polygon points="97.61,378.63 106.97,378.11 105.61,350.10 96.24,350.67" fill="#299dad"/>
<polygon points="106.97,378.11 116.34,377.58 114.97,349.53 105.61,350.10" fill="#006cc4"/>
<polygon points="116.34,377.58 125.70,377.06 135.07,376.53 144.43,376.00 143.05,347.82 133.69,348.39 124.33,348.96 114.97,349.53" fill="#1e96b1"/>
<polygon points="144.43,376.00 153.80,375.48 152.42,347.25 143.05,347.82" fill="#168db5"/>
<polygon points="153.80,375.48 163.16,374.95 172.53,374.43 171.14,346.10 161.78,346.68 152.42,347.25" fill="#36a5a7"/>
<polygon points="172.53,374.43 181.89,373.90 180.50,345.53 171.14,346.10" fill="#299dad"/>
<polygon points="181.89,373.90 191.25,373.37 189.86,344.96 180.50,345.53" fill="#097dbd"/>
<polygon points="191.25,373.37 200.62,372.85 199.22,344.39 189.86,344.96" fill="#168db5"/>
<polygon points="200.62,372.85 209.98,372.32 208.59,343.82 199.22,344.39" fill="#299dad"/>
<polygon points="209.98,372.32 219.35,371.79 217.95,343.25 208.59,343.82" fill="#006cc4"/>
<polygon points="219.35,371.79 228.71,371.26 227.31,342.67 217.95,343.25" fill="#097dbd"/>
<polygon points="228.71,371.26 238.08,370.74 236.67,342.10 227.31,342.67" fill="#299dad"/>
<polygon points="238.08,370.74 247.44,370.21 256.80,369.68 255.40,340.96 246.03,341.53 236.67,342.10" fill="#36a5a7"/>
<polygon points="256.80,369.68 266.17,369.15 264.76,340.39 255.40,340.96" fill="#6ec492"/>
<polygon points="266.17,369.15 275.53,368.63 284.90,368.10 283.48,339.24 274.12,339.81 264.76,340.39" fill="#64be95"/>
<polygon points="284.90,368.10 294.26,367.57 292.84,338.67 283.48,339.24" fill="#89d388"/>
<polygon points="294.26,367.57 303.62,367.04 312.99,366.51 311.57,337.52 302.20,338.09 292.84,338.67" fill="#78c98f"/>
<polygon points="312.99,366.51 322.35,365.99 320.93,336.95 311.57,337.52" fill="#89d388"/>
<polygon points="322.35,365.99 331.72,365.46 330.29,336.38 320.93,336.95" fill="#78c98f"/>
<polygon points="331.72,365.46 341.08,364.93 339.65,335.80 330.29,336.38" fill="#6ec492"/>
<polygon points="341.08,364.93 350.45,364.40 349.01,335.23 339.65,335.80" fill="#64be95"/>
<polygon points="350.45,364.40 359.81,363.87 358.37,334.66 349.01,335.23" fill="#47afa0"/>
<polygon points="359.81,363.87 369.17,363.34 378.54,362.81 377.10,333.51 367.74,334.08 358.37,334.66" fill="#36a5a7"/>
<polygon points="378.54,362.81 387.90,362.28 397.27,361.76 395.82,332.36 386.46,332.93 377.10,333.51" fill="#55b69b"/>
<polygon points="397.27,361.76 406.63,361.23 405.18,331.79 395.82,332.36" fill="#097dbd"/>
<polygon points="406.63,361.23 415.99,360.70 414.54,331.21 405.18,331.79" fill="#1e96b1"/>
<polygon points="415.99,360.70 425.36,360.17 434.72,359.64 433.27,330.06 423.90,330.64 414.54,331.21" fill="#006cc4"/>
<polygon points="434.72,359.64 444.09,359.11 442.63,329.49 433.27,330.06" fill="#1e96b1"/>
<polygon points="444.09,359.11 453.45,358.58 462.81,358.05 461.35,328.34 451.99,328.91 442.63,329.49" fill="#006cc4"/>
<polygon points="462.81,358.05 472.18,357.52 470.71,327.76 461.35,328.34" fill="#168db5"/>
<polygon points="472.18,357.52 481.54,356.99 490.91,356.46 489.43,326.61 480.07,327.19 470.71,327.76" fill="#006cc4"/>
<polygon points="490.91,356.46 500.27,355.93 509.63,355.39 508.16,325.46 498.80,326.04 489.43,326.61" fill="#097dbd"/>
<polygon points="509.63,355.39 519.00,354.86 528.36,354.33 537.73,353.80 547.09,353.27 556.45,352.74 554.96,322.58 545.60,323.16 536.24,323.73 526.88,324.31 517.52,324.89 508.16,325.46" fill="#006cc4"/>
<polygon points="556.45,352.74 565.82,352.21 564.33,322.01 554.96,322.58" fill="#1e96b1"/>
<polygon points="565.82,352.21 575.18,351.68 573.69,321.43 564.33,322.01" fill="#299dad"/>
<polygon points="575.18,351.68 584.54,351.14 583.05,320.85 573.69,321.43" fill="#168db5"/>
<polygon points="584.54,351.14 593.91,350.61 592.41,320.28 583.05,320.85" fill="#097dbd"/>
<polygon points="593.91,350.61 603.27,350.08 612.64,349.55 611.13,319.12 601.77,319.70 592.41,320.28" fill="#006cc4"/>
<polygon points="612.64,349.55 622.00,349.02 620.49,318.55 611.13,319.12" fill="#1e96b1"/>
<polygon points="622.00,349.02 631.36,348.48 640.73,347.95 650.09,347.42 659.46,346.89 657.94,316.24 648.58,316.81 639.22,317.39 629.85,317.97 620.49,318.55" fill="#006cc4"/>
<polygon points="49.43,353.52 58.80,352.95 57.33,325.17 47.97,325.79" fill="#006cc4"/>
<polygon points="58.80,352.95 68.16,352.38 66.69,324.56 57.33,325.17" fill="#299dad"/>
<polygon points="68.16,352.38 77.52,351.81 86.88,351.24 85.41,323.33 76.05,323.94 66.69,324.56" fill="#006cc4"/>
<polygon points="86.88,351.24 96.24,350.67 94.77,322.71 85.41,323.33" fill="#097dbd"/>
<polygon points="96.24,350.67 105.61,350.10 104.13,322.10 94.77,322.71" fill="#006cc4"/>
<polygon points="105.61,350.10 114.97,349.53 113.49,321.48 104.13,322.10" fill="#168db5"/>
<polygon points="114.97,349.53 124.33,348.96 122.84,320.87 113.49,321.48" fill="#006cc4"/>
<polygon points="124.33,348.96 133.69,348.39 132.20,320.25 122.84,320.87" fill="#097dbd"/>
<polygon points="133.69,348.39 143.05,347.82 152.42,347.25 161.78,346.68 160.28,318.41 150.92,319.02 141.56,319.64 132.20,320.25" fill="#006cc4"/>
<polygon points="161.78,346.68 171.14,346.10 169.64,317.79 160.28,318.41" fill="#097dbd"/>
<polygon points="171.14,346.10 180.50,345.53 189.86,344.96 199.22,344.39 208.59,343.82 207.08,315.32 197.72,315.94 188.36,316.56 179.00,317.17 169.64,317.79" fill="#006cc4"/>
<polygon points="208.59,343.82 217.95,343.25 216.44,314.71 207.08,315.32" fill="#168db5"/>
<polygon points="217.95,343.25 227.31,342.67 225.80,314.09 216.44,314.71" fill="#006cc4"/>
<polygon points="227.31,342.67 236.67,342.10 235.15,313.47 225.80,314.09" fill="#097dbd"/>
<polygon points="236.67,342.10 246.03,341.53 244.51,312.86 235.15,313.47" fill="#006cc4"/>
<polygon points="246.03,341.53 255.40,340.96 253.87,312.24 244.51,312.86" fill="#1e96b1"/>
<polygon points="255.40,340.96 264.76,340.39 263.23,311.62 253.87,312.24" fill="#299dad"/>
<polygon points="264.76,340.39 274.12,339.81 283.48,339.24 281.95,310.39 272.59,311.01 263.23,311.62" fill="#47afa0"/>
<polygon points="283.48,339.24 292.84,338.67 291.31,309.77 281.95,310.39" fill="#64be95"/>
<polygon points="292.84,338.67 302.20,338.09 311.57,337.52 320.93,336.95 319.39,307.92 310.03,308.54 300.67,309.15 291.31,309.77" fill="#78c98f"/>
<polygon points="320.93,336.95 330.29,336.38 339.65,335.80 338.10,306.68 328.74,307.30 319.39,307.92" fill="#64be95"/>
<polygon points="339.65,335.80 349.01,335.23 347.46,306.06 338.10,306.68" fill="#47afa0"/>
<polygon points="349.01,335.23 358.37,334.66 356.82,305.45 347.46,306.06" fill="#36a5a7"/>
<polygon points="358.37,334.66 367.74,334.08 366.18,304.83 356.82,305.45" fill="#299dad"/>
<polygon points="367.74,334.08 377.10,333.51 386.46,332.93 395.82,332.36 405.18,331.79 403.62,302.35 394.26,302.97 384.90,303.59 375.54,304.21 366.18,304.83" fill="#1e96b1"/>
<polygon points="405.18,331.79 414.54,331.21 423.90,330.64 433.27,330.06 431.69,300.49 422.33,301.11 412.97,301.73 403.62,302.35" fill="#168db5"/>
<polygon points="433.27,330.06 442.63,329.49 441.05,299.87 431.69,300.49" fill="#1e96b1"/>
<polygon points="442.63,329.49 451.99,328.91 461.35,328.34 459.77,298.64 450.41,299.26 441.05,299.87" fill="#006cc4"/>
<polygon points="461.35,328.34 470.71,327.76 469.13,298.02 459.77,298.64" fill="#1e96b1"/>
<polygon points="470.71,327.76 480.07,327.19 478.49,297.40 469.13,298.02" fill="#006cc4"/>
<polygon points="480.07,327.19 489.43,326.61 487.84,296.78 478.49,297.40" fill="#097dbd"/>
<polygon points="489.43,326.61 498.80,326.04 497.20,296.16 487.84,296.78" fill="#299dad"/>
<polygon points="498.80,326.04 508.16,325.46 506.56,295.54 497.20,296.16" fill="#006cc4"/>
<polygon points="508.16,325.46 517.52,324.89 515.92,294.92 506.56,295.54" fill="#1e96b1"/>
<polygon points="517.52,324.89 526.88,324.31 525.28,294.29 515.92,294.92" fill="#097dbd"/>
<polygon points="526.88,324.31 536.24,323.73 534.64,293.67 525.28,294.29" fill="#168db5"/>
<polygon points="536.24,323.73 545.60,323.16 554.96,322.58 553.36,292.43 544.00,293.05 534.64,293.67" fill="#097dbd"/>
<polygon points="554.96,322.58 564.33,322.01 573.69,321.43 583.05,320.85 592.41,320.28 601.77,319.70 611.13,319.12 609.51,288.70 600.15,289.33 590.79,289.95 581.43,290.57 572.07,291.19 562.71,291.81 553.36,292.43" fill="#006cc4"/>
<polygon points="611.13,319.12 620.49,318.55 618.87,288.08 609.51,288.70" fill="#1e96b1"/>
<polygon points="620.49,318.55 629.85,317.97 639.22,317.39 648.58,316.81 657.94,316.24 656.30,285.59 646.94,286.22 637.58,286.84 628.22,287.46 618.87,288.08" fill="#006cc4"/>
<polygon points="47.97,325.79 57.33,325.17 66.69,324.56 65.11,296.74 55.75,297.40 46.40,298.06" fill="#006cc4"/>
<polygon points="66.69,324.56 76.05,323.94 74.47,296.08 65.11,296.74" fill="#168db5"/>
<polygon points="76.05,323.94 85.41,323.33 94.77,322.71 104.13,322.10 102.53,294.10 93.18,294.76 83.82,295.42 74.47,296.08" fill="#006cc4"/>
<polygon points="104.13,322.10 113.49,321.48 111.89,293.44 102.53,294.10" fill="#168db5"/>
<polygon points="113.49,321.48 122.84,320.87 132.20,320.25 130.60,292.12 121.25,292.78 111.89,293.44" fill="#006cc4"/>
<polygon points="132.20,320.25 141.56,319.64 150.92,319.02 160.28,318.41 158.67,290.14 149.32,290.80 139.96,291.46 130.60,292.12" fill="#097dbd"/>
<polygon points="160.28,318.41 169.64,317.79 168.03,289.48 158.67,290.14" fill="#006cc4"/>
<polygon points="169.64,317.79 179.00,317.17 188.36,316.56 186.74,288.16 177.39,288.82 168.03,289.48" fill="#097dbd"/>
<polygon points="188.36,316.56 197.72,315.94 207.08,315.32 216.44,314.71 225.80,314.09 235.15,313.47 244.51,312.86 242.88,284.19 233.52,284.85 224.17,285.52 214.81,286.18 205.45,286.84 196.10,287.50 186.74,288.16" fill="#006cc4"/>
<polygon points="244.51,312.86 253.87,312.24 252.24,283.53 242.88,284.19" fill="#0474c1"/>
<polygon points="253.87,312.24 263.23,311.62 272.59,311.01 270.95,282.21 261.59,282.87 252.24,283.53" fill="#006cc4"/>
<polygon points="272.59,311.01 281.95,310.39 280.30,281.54 270.95,282.21" fill="#097dbd"/>
<polygon points="281.95,310.39 291.31,309.77 300.67,309.15 299.02,280.22 289.66,280.88 280.30,281.54" fill="#299dad"/>
<polygon points="300.67,309.15 310.03,308.54 308.37,279.56 299.02,280.22" fill="#47afa0"/>
<polygon points="310.03,308.54 319.39,307.92 317.73,278.90 308.37,279.56" fill="#64be95"/>
<polygon points="319.39,307.92 328.74,307.30 338.10,306.68 336.44,277.57 327.08,278.23 317.73,278.90" fill="#36a5a7"/>
<polygon points="338.10,306.68 347.46,306.06 345.80,276.91 336.44,277.57" fill="#47afa0"/>
<polygon points="347.46,306.06 356.82,305.45 355.15,276.24 345.80,276.91" fill="#1e96b1"/>
<polygon points="356.82,305.45 366.18,304.83 364.51,275.58 355.15,276.24" fill="#006cc4"/>
<polygon points="366.18,304.83 375.54,304.21 373.86,274.92 364.51,275.58" fill="#097dbd"/>
<polygon points="375.54,304.21 384.90,303.59 383.22,274.25 373.86,274.92" fill="#006cc4"/>
<polygon points="384.90,303.59 394.26,302.97 392.58,273.59 383.22,274.25" fill="#1e96b1"/>
<polygon points="394.26,302.97 403.62,302.35 412.97,301.73 411.29,272.26 401.93,272.93 392.58,273.59" fill="#299dad"/>
<polygon points="412.97,301.73 422.33,301.11 431.69,300.49 441.05,299.87 450.41,299.26 459.77,298.64 469.13,298.02 478.49,297.40 487.84,296.78 497.20,296.16 506.56,295.54 515.92,294.92 525.28,294.29 534.64,293.67 532.91,263.62 523.56,264.29 514.20,264.95 504.85,265.62 495.49,266.28 486.14,266.95 476.78,267.61 467.42,268.28 458.07,268.94 448.71,269.61 439.36,270.27 430.00,270.93 420.64,271.60 411.29,272.26" fill="#006cc4"/>
<polygon points="534.64,293.67 544.00,293.05 542.27,262.96 532.91,263.62" fill="#097dbd"/>
<polygon points="544.00,293.05 553.36,292.43 562.71,291.81 560.98,261.63 551.63,262.29 542.27,262.96" fill="#006cc4"/>
<polygon points="562.71,291.81 572.07,291.19 570.34,260.96 560.98,261.63" fill="#1e96b1"/>
<polygon points="572.07,291.19 581.43,290.57 579.69,260.29 570.34,260.96" fill="#097dbd"/>
<polygon points="581.43,290.57 590.79,289.95 589.05,259.63 579.69,260.29" fill="#006cc4"/>
<polygon points="590.79,289.95 600.15,289.33 598.40,258.96 589.05,259.63" fill="#0474c1"/>
<polygon points="600.15,289.33 609.51,288.70 618.87,288.08 628.22,287.46 637.58,286.84 646.94,286.22 656.30,285.59 654.54,254.96 645.18,255.63 635.83,256.30 626.47,256.96 617.12,257.63 607.76,258.29 598.40,258.96" fill="#006cc4"/>
<polygon points="46.40,298.06 55.75,297.40 65.11,296.74 74.47,296.08 83.82,295.42 93.18,294.76 91.48,266.82 82.12,267.53 72.77,268.23 63.42,268.94 54.06,269.64 44.71,270.34" fill="#006cc4"/>
<polygon points="93.18,294.76 102.53,294.10 100.83,266.12 91.48,266.82" fill="#168db5"/>
<polygon points="102.53,294.10 111.89,293.44 110.18,265.41 100.83,266.12" fill="#006cc4"/>
<polygon points="111.89,293.44 121.25,292.78 119.54,264.71 110.18,265.41" fill="#168db5"/>
<polygon points="121.25,292.78 130.60,292.12 139.96,291.46 138.24,263.30 128.89,264.00 119.54,264.71" fill="#006cc4"/>
<polygon points="139.96,291.46 149.32,290.80 147.60,262.59 138.24,263.30" fill="#168db5"/>
<polygon points="149.32,290.80 158.67,290.14 168.03,289.48 177.39,288.82 186.74,288.16 196.10,287.50 205.45,286.84 214.81,286.18 224.17,285.52 233.52,284.85 242.88,284.19 252.24,283.53 261.59,282.87 270.95,282.21 280.30,281.54 289.66,280.88 299.02,280.22 297.25,251.29 287.90,252.00 278.54,252.71 269.19,253.42 259.84,254.12 250.48,254.83 241.13,255.54 231.78,256.24 222.42,256.95 213.07,257.65 203.72,258.36 194.36,259.07 185.01,259.77 175.66,260.48 166.30,261.18 156.95,261.89 147.60,262.59" fill="#006cc4"/>
<polygon points="299.02,280.22 308.37,279.56 306.60,250.59 297.25,251.29" fill="#299dad"/>
<polygon points="308.37,279.56 317.73,278.90 315.96,249.88 306.60,250.59" fill="#168db5"/>
<polygon points="317.73,278.90 327.08,278.23 325.31,249.17 315.96,249.88" fill="#299dad"/>
<polygon points="327.08,278.23 336.44,277.57 334.66,248.47 325.31,249.17" fill="#1e96b1"/>
<polygon points="336.44,277.57 345.80,276.91 355.15,276.24 353.37,247.05 344.01,247.76 334.66,248.47" fill="#47afa0"/>
<polygon points="355.15,276.24 364.51,275.58 373.86,274.92 372.07,245.63 362.72,246.34 353.37,247.05" fill="#006cc4"/>
<polygon points="373.86,274.92 383.22,274.25 381.43,244.93 372.07,245.63" fill="#097dbd"/>
<polygon points="383.22,274.25 392.58,273.59 390.78,244.22 381.43,244.93" fill="#299dad"/>
<polygon points="392.58,273.59 401.93,272.93 400.13,243.51 390.78,244.22" fill="#36a5a7"/>
<polygon points="401.93,272.93 411.29,272.26 420.64,271.60 430.00,270.93 439.36,270.27 448.71,269.61 458.07,268.94 467.42,268.28 476.78,267.61 486.14,266.95 495.49,266.28 504.85,265.62 514.20,264.95 523.56,264.29 532.91,263.62 542.27,262.96 551.63,262.29 560.98,261.63 570.34,260.96 579.69,260.29 577.83,230.03 568.48,230.74 559.13,231.45 549.78,232.16 540.42,232.87 531.07,233.58 521.72,234.29 512.37,235.00 503.01,235.71 493.66,236.42 484.31,237.13 474.95,237.84 465.60,238.55 456.25,239.26 446.90,239.97 437.54,240.67 428.19,241.38 418.84,242.09 409.49,242.80 400.13,243.51" fill="#006cc4"/>
<polygon points="579.69,260.29 589.05,259.63 587.19,229.32 577.83,230.03" fill="#168db5"/>
<polygon points="589.05,259.63 598.40,258.96 596.54,228.60 587.19,229.32" fill="#097dbd"/>
<polygon points="598.40,258.96 607.76,258.29 617.12,257.63 626.47,256.96 635.83,256.30 645.18,255.63 654.54,254.96 652.66,224.34 643.30,225.05 633.95,225.76 624.60,226.47 615.25,227.18 605.89,227.89 596.54,228.60" fill="#006cc4"/>
<polygon points="44.71,270.34 54.06,269.64 63.42,268.94 72.77,268.23 82.12,267.53 91.48,266.82 100.83,266.12 110.18,265.41 119.54,264.71 128.89,264.00 138.24,263.30 147.60,262.59 156.95,261.89 166.30,261.18 175.66,260.48 185.01,259.77 194.36,259.07 203.72,258.36 213.07,257.65 222.42,256.95 231.78,256.24 241.13,255.54 250.48,254.83 259.84,254.12 269.19,253.42 278.54,252.71 287.90,252.00 297.25,251.29 295.37,222.38 286.02,223.13 276.67,223.88 267.32,224.63 257.97,225.38 248.62,226.14 239.27,226.89 229.92,227.64 220.57,228.39 211.22,229.14 201.87,229.89 192.52,230.64 183.17,231.39 173.82,232.14 164.47,232.89 155.12,233.64 145.77,234.39 136.42,235.14 127.07,235.89 117.72,236.64 108.37,237.39 99.02,238.14 89.67,238.89 80.32,239.64 70.97,240.39 61.62,241.14 52.27,241.89 42.92,242.63" fill="#006cc4"/>
<polygon points="297.25,251.29 306.60,250.59 304.72,221.63 295.37,222.38" fill="#168db5"/>
<polygon points="306.60,250.59 315.96,249.88 325.31,249.17 334.66,248.47 344.01,247.76 353.37,247.05 362.72,246.34 372.07,245.63 381.43,244.93 379.52,215.61 370.17,216.36 360.82,217.11 351.47,217.86 342.12,218.62 332.77,219.37 323.42,220.12 314.07,220.87 304.72,221.63" fill="#006cc4"/>
<polygon points="381.43,244.93 390.78,244.22 388.86,214.85 379.52,215.61" fill="#299dad"/>
<polygon points="390.78,244.22 400.13,243.51 398.21,214.10 388.86,214.85" fill="#168db5"/>
<polygon points="400.13,243.51 409.49,242.80 418.84,242.09 428.19,241.38 426.26,211.84 416.91,212.59 407.56,213.35 398.21,214.10" fill="#006cc4"/>
<polygon points="428.19,241.38 437.54,240.67 435.61,211.09 426.26,211.84" fill="#097dbd"/>
<polygon points="437.54,240.67 446.90,239.97 456.25,239.26 465.60,238.55 474.95,237.84 484.31,237.13 493.66,236.42 503.01,235.71 512.37,235.00 510.41,205.05 501.06,205.81 491.71,206.56 482.36,207.32 473.01,208.07 463.66,208.83 454.31,209.58 444.96,210.33 435.61,211.09" fill="#006cc4"/>
<polygon points="512.37,235.00 521.72,234.29 519.76,204.30 510.41,205.05" fill="#097dbd"/>
<polygon points="521.72,234.29 531.07,233.58 540.42,232.87 549.78,232.16 559.13,231.45 568.48,230.74 577.83,230.03 587.19,229.32 585.20,199.01 575.86,199.77 566.51,200.52 557.16,201.28 547.81,202.03 538.46,202.79 529.11,203.54 519.76,204.30" fill="#006cc4"/>
<polygon points="587.19,229.32 596.54,228.60 594.55,198.26 585.20,199.01" fill="#168db5"/>
<polygon points="596.54,228.60 605.89,227.89 615.25,227.18 624.60,226.47 633.95,225.76 643.30,225.05 652.66,224.34 650.65,193.72 641.30,194.48 631.95,195.23 622.60,195.99 613.25,196.75 603.90,197.50 594.55,198.26" fill="#006cc4"/>
<polygon points="42.92,242.63 52.27,241.89 61.62,241.14 70.97,240.39 80.32,239.64 89.67,238.89 99.02,238.14 108.37,237.39 117.72,236.64 127.07,235.89 136.42,235.14 145.77,234.39 155.12,233.64 164.47,232.89 173.82,232.14 171.86,203.82 162.52,204.61 153.17,205.41 143.82,206.20 134.48,206.99 125.13,207.79 115.78,208.58 106.44,209.38 97.09,210.17 87.74,210.97 78.40,211.76 69.05,212.55 59.70,213.35 50.36,214.14 41.01,214.93" fill="#006cc4"/>
<polygon points="173.82,232.14 183.17,231.39 181.21,203.02 171.86,203.82" fill="#097dbd"/>
<polygon points="183.17,231.39 192.52,230.64 201.87,229.89 211.22,229.14 209.25,200.63 199.90,201.43 190.56,202.23 181.21,203.02" fill="#006cc4"/>
<polygon points="211.22,229.14 220.57,228.39 218.60,199.84 209.25,200.63" fill="#097dbd"/>
<polygon points="220.57,228.39 229.92,227.64 239.27,226.89 248.62,226.14 257.97,225.38 267.32,224.63 276.67,223.88 286.02,223.13 295.37,222.38 304.72,221.63 314.07,220.87 323.42,220.12 332.77,219.37 342.12,218.62 351.47,217.86 360.82,217.11 358.79,187.89 349.45,188.69 340.10,189.49 330.76,190.28 321.41,191.08 312.06,191.88 302.72,192.67 293.37,193.47 284.02,194.27 274.68,195.06 265.33,195.86 255.98,196.66 246.64,197.45 237.29,198.25 227.94,199.04 218.60,199.84" fill="#006cc4"/>
<polygon points="360.82,217.11 370.17,216.36 368.14,187.09 358.79,187.89" fill="#0474c1"/>
<polygon points="370.17,216.36 379.52,215.61 388.86,214.85 398.21,214.10 407.56,213.35 416.91,212.59 426.26,211.84 435.61,211.09 444.96,210.33 454.31,209.58 463.66,208.83 473.01,208.07 482.36,207.32 480.30,177.52 470.95,178.31 461.60,179.11 452.26,179.91 442.91,180.71 433.56,181.51 424.22,182.31 414.87,183.11 405.53,183.90 396.18,184.70 386.83,185.50 377.49,186.30 368.14,187.09" fill="#006cc4"/>
<polygon points="482.36,207.32 491.71,206.56 489.64,176.72 480.30,177.52" fill="#0474c1"/>
<polygon points="491.71,206.56 501.06,205.81 510.41,205.05 519.76,204.30 529.11,203.54 538.46,202.79 547.81,202.03 557.16,201.28 566.51,200.52 575.86,199.77 585.20,199.01 594.55,198.26 603.90,197.50 613.25,196.75 622.60,195.99 631.95,195.23 641.30,194.48 650.65,193.72 648.52,163.12 639.18,163.92 629.83,164.72 620.49,165.52 611.14,166.32 601.79,167.12 592.45,167.92 583.10,168.72 573.76,169.52 564.41,170.32 555.06,171.12 545.72,171.92 536.37,172.72 527.03,173.52 517.68,174.32 508.33,175.12 498.99,175.92 489.64,176.72" fill="#006cc4"/>
<polygon points="41.01,214.93 50.36,214.14 59.70,213.35 69.05,212.55 78.40,211.76 87.74,210.97 97.09,210.17 106.44,209.38 104.40,181.37 95.05,182.21 85.71,183.05 76.37,183.89 67.02,184.73 57.68,185.57 48.34,186.40 38.99,187.24" fill="#006cc4"/>
<polygon points="106.44,209.38 115.78,208.58 113.74,180.53 104.40,181.37" fill="#097dbd"/>
<polygon points="115.78,208.58 125.13,207.79 134.48,206.99 143.82,206.20 153.17,205.41 162.52,204.61 171.86,203.82 181.21,203.02 190.56,202.23 199.90,201.43 209.25,200.63 218.60,199.84 227.94,199.04 237.29,198.25 246.64,197.45 255.98,196.66 253.89,167.94 244.54,168.78 235.20,169.62 225.86,170.46 216.51,171.30 207.17,172.14 197.83,172.98 188.48,173.82 179.14,174.66 169.80,175.50 160.45,176.34 151.11,177.18 141.77,178.02 132.43,178.86 123.08,179.70 113.74,180.53" fill="#006cc4"/>
<polygon points="255.98,196.66 265.33,195.86 263.23,167.10 253.89,167.94" fill="#097dbd"/>
<polygon points="265.33,195.86 274.68,195.06 284.02,194.27 293.37,193.47 302.72,192.67 312.06,191.88 309.94,162.89 300.60,163.73 291.26,164.57 281.91,165.41 272.57,166.26 263.23,167.10" fill="#006cc4"/>
<polygon points="312.06,191.88 321.41,191.08 319.29,162.05 309.94,162.89" fill="#097dbd"/>
<polygon points="321.41,191.08 330.76,190.28 340.10,189.49 349.45,188.69 358.79,187.89 368.14,187.09 366.00,157.84 356.66,158.68 347.31,159.52 337.97,160.37 328.63,161.21 319.29,162.05" fill="#006cc4"/>
<polygon points="368.14,187.09 377.49,186.30 375.34,157.00 366.00,157.84" fill="#0474c1"/>
<polygon points="377.49,186.30 386.83,185.50 396.18,184.70 405.53,183.90 414.87,183.11 424.22,182.31 433.56,181.51 442.91,180.71 452.26,179.91 450.08,150.26 440.74,151.10 431.40,151.94 422.06,152.78 412.71,153.63 403.37,154.47 394.03,155.31 384.68,156.16 375.34,157.00" fill="#006cc4"/>
<polygon points="452.26,179.91 461.60,179.11 459.43,149.41 450.08,150.26" fill="#168db5"/>
<polygon points="461.60,179.11 470.95,178.31 480.30,177.52 489.64,176.72 498.99,175.92 508.33,175.12 517.68,174.32 527.03,173.52 536.37,172.72 545.72,171.92 555.06,171.12 564.41,170.32 573.76,169.52 583.10,168.72 592.45,167.92 601.79,167.12 599.56,136.75 590.22,137.59 580.88,138.44 571.54,139.28 562.19,140.13 552.85,140.97 543.51,141.82 534.17,142.66 524.82,143.51 515.48,144.35 506.14,145.19 496.80,146.04 487.45,146.88 478.11,147.72 468.77,148.57 459.43,149.41" fill="#006cc4"/>
<polygon points="601.79,167.12 611.14,166.32 620.49,165.52 618.25,135.06 608.90,135.90 599.56,136.75" fill="#0474c1"/>
<polygon points="620.49,165.52 629.83,164.72 639.18,163.92 648.52,163.12 646.27,132.52 636.93,133.37 627.59,134.21 618.25,135.06" fill="#006cc4"/>
<polygon points="38.99,187.24 48.34,186.40 57.68,185.57 67.02,184.73 76.37,183.89 85.71,183.05 83.56,155.15 74.22,156.03 64.88,156.91 55.54,157.80 46.21,158.68 36.87,159.56" fill="#006cc4"/>
<polygon points="85.71,183.05 95.05,182.21 92.90,154.26 83.56,155.15" fill="#097dbd"/>
<polygon points="95.05,182.21 104.40,181.37 113.74,180.53 123.08,179.70 132.43,178.86 141.77,178.02 151.11,177.18 160.45,176.34 169.80,175.50 179.14,174.66 188.48,173.82 197.83,172.98 207.17,172.14 216.51,171.30 214.32,142.77 204.98,143.65 195.64,144.54 186.30,145.42 176.96,146.31 167.62,147.19 158.28,148.08 148.94,148.96 139.60,149.84 130.26,150.73 120.92,151.61 111.58,152.50 102.24,153.38 92.90,154.26" fill="#006cc4"/>
<polygon points="216.51,171.30 225.86,170.46 223.65,141.88 214.32,142.77" fill="#168db5"/>
<polygon points="225.86,170.46 235.20,169.62 244.54,168.78 253.89,167.94 263.23,167.10 272.57,166.26 281.91,165.41 291.26,164.57 300.60,163.73 309.94,162.89 319.29,162.05 328.63,161.21 337.97,160.37 347.31,159.52 356.66,158.68 366.00,157.84 375.34,157.00 384.68,156.16 394.03,155.31 403.37,154.47 401.10,125.05 391.76,125.93 382.42,126.82 373.08,127.71 363.74,128.60 354.40,129.48 345.06,130.37 335.72,131.26 326.39,132.14 317.05,133.03 307.71,133.91 298.37,134.80 289.03,135.69 279.69,136.57 270.35,137.46 261.01,138.34 251.67,139.23 242.33,140.11 232.99,141.00 223.65,141.88" fill="#006cc4"/>
<polygon points="403.37,154.47 412.71,153.63 410.44,124.16 401.10,125.05" fill="#097dbd"/>
<polygon points="412.71,153.63 422.06,152.78 419.77,123.27 410.44,124.16" fill="#006cc4"/>
<polygon points="422.06,152.78 431.40,151.94 429.11,122.38 419.77,123.27" fill="#097dbd"/>
<polygon points="431.40,151.94 440.74,151.10 450.08,150.26 459.43,149.41 468.77,148.57 478.11,147.72 487.45,146.88 496.80,146.04 506.14,145.19 515.48,144.35 524.82,143.51 534.17,142.66 543.51,141.82 552.85,140.97 562.19,140.13 571.54,139.28 569.19,109.06 559.86,109.95 550.52,110.83 541.18,111.72 531.84,112.61 522.50,113.50 513.16,114.39 503.82,115.28 494.49,116.17 485.15,117.06 475.81,117.94 466.47,118.83 457.13,119.72 447.79,120.61 438.45,121.50 429.11,122.38" fill="#006cc4"/>
<polygon points="571.54,139.28 580.88,138.44 578.53,108.17 569.19,109.06" fill="#168db5"/>
<polygon points="580.88,138.44 590.22,137.59 587.87,107.28 578.53,108.17" fill="#097dbd"/>
<polygon points="590.22,137.59 599.56,136.75 608.90,135.90 618.25,135.06 627.59,134.21 636.93,133.37 646.27,132.52 643.90,101.94 634.56,102.83 625.23,103.72 615.89,104.61 606.55,105.50 597.21,106.39 587.87,107.28" fill="#006cc4"/></g>
<rect x="63.50" y="67.50" width="562.80" height="615.80" fill="none" stroke="#000" stroke-width="1.11"/>
<line x1="63.50" y1="683.30" x2="63.50" y2="688.16" stroke="#000" stroke-width="1.11"/>
<text class="tk" x="63.50" y="710.10" text-anchor="middle">62</text>
<line x1="58.64" y1="683.50" x2="63.50" y2="683.50" stroke="#000" stroke-width="1.11"/>
<text class="tk" x="53.60" y="691.70" text-anchor="end">0</text>
<line x1="157.50" y1="683.30" x2="157.50" y2="688.16" stroke="#000" stroke-width="1.11"/>
<text class="tk" x="157.50" y="710.10" text-anchor="middle">63</text>
<line x1="58.64" y1="580.50" x2="63.50" y2="580.50" stroke="#000" stroke-width="1.11"/>
<text class="tk" x="53.60" y="588.70" text-anchor="end">1</text>
<line x1="251.50" y1="683.30" x2="251.50" y2="688.16" stroke="#000" stroke-width="1.11"/>
<text class="tk" x="251.50" y="710.10" text-anchor="middle">64</text>
<line x1="58.64" y1="478.50" x2="63.50" y2="478.50" stroke="#000" stroke-width="1.11"/>
<text class="tk" x="53.60" y="486.70" text-anchor="end">2</text>
<line x1="344.50" y1="683.30" x2="344.50" y2="688.16" stroke="#000" stroke-width="1.11"/>
<text class="tk" x="344.50" y="710.10" text-anchor="middle">65</text>
<line x1="58.64" y1="375.50" x2="63.50" y2="375.50" stroke="#000" stroke-width="1.11"/>
<text class="tk" x="53.60" y="383.70" text-anchor="end">3</text>
<line x1="438.50" y1="683.30" x2="438.50" y2="688.16" stroke="#000" stroke-width="1.11"/>
<text class="tk" x="438.50" y="710.10" text-anchor="middle">66</text>
<line x1="58.64" y1="272.50" x2="63.50" y2="272.50" stroke="#000" stroke-width="1.11"/>
<text class="tk" x="53.60" y="280.70" text-anchor="end">4</text>
<line x1="532.50" y1="683.30" x2="532.50" y2="688.16" stroke="#000" stroke-width="1.11"/>
<text class="tk" x="532.50" y="710.10" text-anchor="middle">67</text>
<line x1="58.64" y1="170.50" x2="63.50" y2="170.50" stroke="#000" stroke-width="1.11"/>
<text class="tk" x="53.60" y="178.70" text-anchor="end">5</text>
<line x1="626.50" y1="683.30" x2="626.50" y2="688.16" stroke="#000" stroke-width="1.11"/>
<text class="tk" x="626.50" y="710.10" text-anchor="middle">68</text>
<line x1="58.64" y1="67.50" x2="63.50" y2="67.50" stroke="#000" stroke-width="1.11"/>
<text class="tk" x="53.60" y="75.70" text-anchor="end">6</text>
<text class="ti" x="339.70" y="29.90" text-anchor="middle">CSAPR2 134.5 Deg. 2022-06-02T11:34:15Z</text>
<text class="ti" x="344.90" y="59.20" text-anchor="middle">Equivalent reflectivity factor</text>
<text class="lb" x="344.90" y="738.00" text-anchor="middle">Distance from radar (km)</text>
<text class="lb" transform="translate(26.00,375.40) rotate(-90)" text-anchor="middle" xml:space="preserve">Distance Above radar  (km)</text>
<rect x="662.60" y="67.50" width="29.90" height="615.80" fill="url(#gh)" stroke="#000" stroke-width="1.11"/>
<line x1="692.50" y1="683.50" x2="697.70" y2="683.50" stroke="#000" stroke-width="1.11"/>
<text class="tk" x="703.30" y="691.70">−20</text>
<line x1="692.50" y1="614.50" x2="697.70" y2="614.50" stroke="#000" stroke-width="1.11"/>
<text class="tk" x="703.30" y="622.70">−10</text>
<line x1="692.50" y1="546.50" x2="697.70" y2="546.50" stroke="#000" stroke-width="1.11"/>
<text class="tk" x="703.30" y="554.70">0</text>
<line x1="692.50" y1="478.50" x2="697.70" y2="478.50" stroke="#000" stroke-width="1.11"/>
<text class="tk" x="703.30" y="486.70">10</text>
<line x1="692.50" y1="409.50" x2="697.70" y2="409.50" stroke="#000" stroke-width="1.11"/>
<text class="tk" x="703.30" y="417.70">20</text>
<line x1="692.50" y1="341.50" x2="697.70" y2="341.50" stroke="#000" stroke-width="1.11"/>
<text class="tk" x="703.30" y="349.70">30</text>
<line x1="692.50" y1="272.50" x2="697.70" y2="272.50" stroke="#000" stroke-width="1.11"/>
<text class="tk" x="703.30" y="280.70">40</text>
<line x1="692.50" y1="204.50" x2="697.70" y2="204.50" stroke="#000" stroke-width="1.11"/>
<text class="tk" x="703.30" y="212.70">50</text>
<line x1="692.50" y1="135.50" x2="697.70" y2="135.50" stroke="#000" stroke-width="1.11"/>
<text class="tk" x="703.30" y="143.70">60</text>
<line x1="692.50" y1="67.50" x2="697.70" y2="67.50" stroke="#000" stroke-width="1.11"/>
<text class="tk" x="703.30" y="75.70">70</text>
<text class="lb" transform="translate(773.00,375.40) rotate(-90)" text-anchor="middle">equivalent reflectivity factor (dBZ)</text>
<clipPath id="clipR"><rect x="908.50" y="67.50" width="563.80" height="615.80"/></clipPath>
<g clip-path="url(#clipR)" shape-rendering="crispEdges"><polygon points="902.62,603.36 912.01,603.19 921.41,603.02 920.94,575.16 911.54,575.37 902.15,575.58" fill="#1a204d"/>
<polygon points="921.41,603.02 930.80,602.86 930.33,574.95 920.94,575.16" fill="#93b7c4"/>
<polygon points="930.80,602.86 940.20,602.69 939.72,574.74 930.33,574.95" fill="#7d1128"/>
<polygon points="940.20,602.69 949.59,602.52 949.12,574.52 939.72,574.74" fill="#c25f44"/>
<polygon points="949.59,602.52 958.99,602.35 958.51,574.31 949.12,574.52" fill="#dcb2a4"/>
<polygon points="958.99,602.35 968.38,602.19 967.90,574.10 958.51,574.31" fill="#d1907a"/>
<polygon points="968.38,602.19 977.77,602.02 977.30,573.89 967.90,574.10" fill="#cad4d8"/>
<polygon points="977.77,602.02 987.17,601.85 986.69,573.67 977.30,573.89" fill="#293a8e"/>
<polygon points="987.17,601.85 996.56,601.69 996.08,573.46 986.69,573.67" fill="#224eb2"/>
<polygon points="996.56,601.69 1005.96,601.52 1005.48,573.25 996.08,573.46" fill="#e3cac1"/>
<polygon points="1005.96,601.52 1015.35,601.35 1014.87,573.04 1005.48,573.25" fill="#ede2e0"/>
<polygon points="1015.35,601.35 1024.75,601.18 1024.26,572.82 1014.87,573.04" fill="#1a204d"/>
<polygon points="1024.75,601.18 1034.14,601.01 1033.66,572.61 1024.26,572.82" fill="#418db9"/>
<polygon points="1034.14,601.01 1043.54,600.85 1043.05,572.40 1033.66,572.61" fill="#f1eceb"/>
<polygon points="1043.54,600.85 1052.93,600.68 1052.45,572.19 1043.05,572.40" fill="#901c26"/>
<polygon points="1052.93,600.68 1062.32,600.51 1061.84,571.97 1052.45,572.19" fill="#dcb2a4"/>
<polygon points="1062.32,600.51 1071.72,600.34 1071.23,571.76 1061.84,571.97" fill="#ac2c25"/>
<polygon points="1071.72,600.34 1081.11,600.17 1080.63,571.54 1071.23,571.76" fill="#0c67bd"/>
<polygon points="1081.11,600.17 1090.51,600.00 1090.02,571.33 1080.63,571.54" fill="#610c1f"/>
<polygon points="1090.51,600.00 1099.90,599.83 1099.41,571.12 1090.02,571.33" fill="#1a204d"/>
<polygon points="1099.90,599.83 1109.30,599.66 1108.81,570.90 1099.41,571.12" fill="#293a8e"/>
<polygon points="1109.30,599.66 1118.69,599.50 1118.20,570.69 1108.81,570.90" fill="#c25f44"/>
<polygon points="1118.69,599.50 1128.09,599.33 1127.59,570.48 1118.20,570.69" fill="#610c1f"/>
<polygon points="1128.09,599.33 1137.48,599.16 1136.99,570.26 1127.59,570.48" fill="#6ea5be"/>
<polygon points="1137.48,599.16 1146.88,598.99 1146.38,570.05 1136.99,570.26" fill="#418db9"/>
<polygon points="1146.88,598.99 1156.27,598.82 1155.77,569.83 1146.38,570.05" fill="#610c1f"/>
<polygon points="1156.27,598.82 1165.66,598.65 1165.17,569.62 1155.77,569.83" fill="#6ea5be"/>
<polygon points="1165.66,598.65 1175.06,598.48 1174.56,569.40 1165.17,569.62" fill="#418db9"/>
<polygon points="1175.06,598.48 1184.45,598.31 1183.95,569.19 1174.56,569.40" fill="#a4c0ca"/>
<polygon points="1184.45,598.31 1193.85,598.14 1193.35,568.97 1183.95,569.19" fill="#93b7c4"/>
<polygon points="1193.85,598.14 1203.24,597.97 1202.74,568.76 1193.35,568.97" fill="#400913"/>
<polygon points="1203.24,597.97 1212.64,597.80 1212.13,568.54 1202.74,568.76" fill="#ac2c25"/>
<polygon points="1212.64,597.80 1222.03,597.63 1221.53,568.33 1212.13,568.54" fill="#293a8e"/>
<polygon points="1222.03,597.63 1231.43,597.46 1230.92,568.11 1221.53,568.33" fill="#ede2e0"/>
<polygon points="1231.43,597.46 1240.82,597.28 1240.31,567.90 1230.92,568.11" fill="#93b7c4"/>
<polygon points="1240.82,597.28 1250.21,597.11 1249.71,567.68 1240.31,567.90" fill="#ede2e0"/>
<polygon points="1250.21,597.11 1259.61,596.94 1259.10,567.46 1249.71,567.68" fill="#c25f44"/>
<polygon points="1259.61,596.94 1269.00,596.77 1268.49,567.25 1259.10,567.46" fill="#400913"/>
<polygon points="1269.00,596.77 1278.40,596.60 1277.89,567.03 1268.49,567.25" fill="#610c1f"/>
<polygon points="1278.40,596.60 1287.79,596.43 1287.28,566.82 1277.89,567.03" fill="#d1907a"/>
<polygon points="1287.79,596.43 1297.19,596.26 1296.67,566.60 1287.28,566.82" fill="#6ea5be"/>
<polygon points="1297.19,596.26 1306.58,596.09 1306.07,566.38 1296.67,566.60" fill="#293a8e"/>
<polygon points="1306.58,596.09 1315.98,595.91 1315.46,566.17 1306.07,566.38" fill="#0c67bd"/>
<polygon points="1315.98,595.91 1325.37,595.74 1324.85,565.95 1315.46,566.17" fill="#dfe0e2"/>
<polygon points="1325.37,595.74 1334.76,595.57 1334.25,565.73 1324.85,565.95" fill="#293a8e"/>
<polygon points="1334.76,595.57 1344.16,595.40 1353.55,595.23 1353.03,565.30 1343.64,565.52 1334.25,565.73" fill="#610c1f"/>
<polygon points="1353.55,595.23 1362.95,595.05 1362.43,565.08 1353.03,565.30" fill="#400913"/>
<polygon points="1362.95,595.05 1372.34,594.88 1371.82,564.87 1362.43,565.08" fill="#d1907a"/>
<polygon points="1372.34,594.88 1381.74,594.71 1381.21,564.65 1371.82,564.87" fill="#e3cac1"/>
<polygon points="1381.74,594.71 1391.13,594.54 1390.61,564.43 1381.21,564.65" fill="#293a8e"/>
<polygon points="1391.13,594.54 1400.52,594.36 1400.00,564.21 1390.61,564.43" fill="#ac2c25"/>
<polygon points="1400.52,594.36 1409.92,594.19 1409.39,564.00 1400.00,564.21" fill="#ede2e0"/>
<polygon points="1409.92,594.19 1419.31,594.02 1418.79,563.78 1409.39,564.00" fill="#400913"/>
<polygon points="1419.31,594.02 1428.71,593.84 1428.18,563.56 1418.79,563.78" fill="#cad4d8"/>
<polygon points="1428.71,593.84 1438.10,593.67 1437.57,563.34 1428.18,563.56" fill="#c25f44"/>
<polygon points="1438.10,593.67 1447.50,593.50 1446.97,563.12 1437.57,563.34" fill="#dcb2a4"/>
<polygon points="1447.50,593.50 1456.89,593.32 1456.36,562.90 1446.97,563.12" fill="#293a8e"/>
<polygon points="1456.89,593.32 1466.29,593.15 1465.75,562.69 1456.36,562.90" fill="#f1eceb"/>
<polygon points="1466.29,593.15 1475.68,592.98 1485.07,592.80 1494.47,592.63 1503.86,592.45 1513.26,592.28 1512.72,561.59 1503.33,561.81 1493.93,562.03 1484.54,562.25 1475.15,562.47 1465.75,562.69" fill="#1a204d"/>
<polygon points="902.15,575.58 911.54,575.37 910.96,547.55 901.57,547.81" fill="#293a8e"/>
<polygon points="911.54,575.37 920.94,575.16 920.36,547.30 910.96,547.55" fill="#c25f44"/>
<polygon points="920.94,575.16 930.33,574.95 929.75,547.04 920.36,547.30" fill="#93b7c4"/>
<polygon points="930.33,574.95 939.72,574.74 939.14,546.78 929.75,547.04" fill="#dcb2a4"/>
<polygon points="939.72,574.74 949.12,574.52 948.53,546.53 939.14,546.78" fill="#e3cac1"/>
<polygon points="949.12,574.52 958.51,574.31 957.92,546.27 948.53,546.53" fill="#d1907a"/>
<polygon points="958.51,574.31 967.90,574.10 967.32,546.01 957.92,546.27" fill="#c25f44"/>
<polygon points="967.90,574.10 977.30,573.89 986.69,573.67 986.10,545.50 976.71,545.76 967.32,546.01" fill="#cad4d8"/>
<polygon points="986.69,573.67 996.08,573.46 995.49,545.24 986.10,545.50" fill="#6ea5be"/>
<polygon points="996.08,573.46 1005.48,573.25 1004.89,544.98 995.49,545.24" fill="#1a204d"/>
<polygon points="1005.48,573.25 1014.87,573.04 1014.28,544.73 1004.89,544.98" fill="#400913"/>
<polygon points="1014.87,573.04 1024.26,572.82 1023.67,544.47 1014.28,544.73" fill="#293a8e"/>
<polygon points="1024.26,572.82 1033.66,572.61 1033.06,544.21 1023.67,544.47" fill="#0c67bd"/>
<polygon points="1033.66,572.61 1043.05,572.40 1042.45,543.95 1033.06,544.21" fill="#224eb2"/>
<polygon points="1043.05,572.40 1052.45,572.19 1051.85,543.70 1042.45,543.95" fill="#f1eceb"/>
<polygon points="1052.45,572.19 1061.84,571.97 1061.24,543.44 1051.85,543.70" fill="#6ea5be"/>
<polygon points="1061.84,571.97 1071.23,571.76 1070.63,543.18 1061.24,543.44" fill="#ede2e0"/>
<polygon points="1071.23,571.76 1080.63,571.54 1080.02,542.92 1070.63,543.18" fill="#6ea5be"/>
<polygon points="1080.63,571.54 1090.02,571.33 1089.42,542.66 1080.02,542.92" fill="#dcb2a4"/>
<polygon points="1090.02,571.33 1099.41,571.12 1108.81,570.90 1108.20,542.15 1098.81,542.40 1089.42,542.66" fill="#418db9"/>
<polygon points="1108.81,570.90 1118.20,570.69 1117.59,541.89 1108.20,542.15" fill="#93b7c4"/>
<polygon points="1118.20,570.69 1127.59,570.48 1126.98,541.63 1117.59,541.89" fill="#400913"/>
<polygon points="1127.59,570.48 1136.99,570.26 1136.38,541.37 1126.98,541.63" fill="#224eb2"/>
<polygon points="1136.99,570.26 1146.38,570.05 1145.77,541.11 1136.38,541.37" fill="#293a8e"/>
<polygon points="1146.38,570.05 1155.77,569.83 1155.16,540.85 1145.77,541.11" fill="#c25f44"/>
<polygon points="1155.77,569.83 1165.17,569.62 1164.55,540.59 1155.16,540.85" fill="#f1eceb"/>
<polygon points="1165.17,569.62 1174.56,569.40 1173.94,540.33 1164.55,540.59" fill="#d1907a"/>
<polygon points="1174.56,569.40 1183.95,569.19 1183.34,540.07 1173.94,540.33" fill="#0c67bd"/>
<polygon points="1183.95,569.19 1193.35,568.97 1192.73,539.81 1183.34,540.07" fill="#1a204d"/>
<polygon points="1193.35,568.97 1202.74,568.76 1202.12,539.55 1192.73,539.81" fill="#610c1f"/>
<polygon points="1202.74,568.76 1212.13,568.54 1211.51,539.29 1202.12,539.55" fill="#0c67bd"/>
<polygon points="1212.13,568.54 1221.53,568.33 1220.90,539.03 1211.51,539.29" fill="#c25f44"/>
<polygon points="1221.53,568.33 1230.92,568.11 1230.30,538.77 1220.90,539.03" fill="#dfe0e2"/>
<polygon points="1230.92,568.11 1240.31,567.90 1239.69,538.51 1230.30,538.77" fill="#400913"/>
<polygon points="1240.31,567.90 1249.71,567.68 1249.08,538.25 1239.69,538.51" fill="#cad4d8"/>
<polygon points="1249.71,567.68 1259.10,567.46 1258.47,537.99 1249.08,538.25" fill="#c25f44"/>
<polygon points="1259.10,567.46 1268.49,567.25 1267.87,537.73 1258.47,537.99" fill="#1a204d"/>
<polygon points="1268.49,567.25 1277.89,567.03 1277.26,537.47 1267.87,537.73" fill="#418db9"/>
<polygon points="1277.89,567.03 1287.28,566.82 1286.65,537.21 1277.26,537.47" fill="#400913"/>
<polygon points="1287.28,566.82 1296.67,566.60 1296.04,536.95 1286.65,537.21" fill="#1a204d"/>
<polygon points="1296.67,566.60 1306.07,566.38 1305.43,536.68 1296.04,536.95" fill="#418db9"/>
<polygon points="1306.07,566.38 1315.46,566.17 1314.83,536.42 1305.43,536.68" fill="#610c1f"/>
<polygon points="1315.46,566.17 1324.85,565.95 1324.22,536.16 1314.83,536.42" fill="#f1eceb"/>
<polygon points="1324.85,565.95 1334.25,565.73 1333.61,535.90 1324.22,536.16" fill="#e3cac1"/>
<polygon points="1334.25,565.73 1343.64,565.52 1343.00,535.64 1333.61,535.90" fill="#93b7c4"/>
<polygon points="1343.64,565.52 1353.03,565.30 1352.39,535.38 1343.00,535.64" fill="#1a204d"/>
<polygon points="1353.03,565.30 1362.43,565.08 1361.79,535.11 1352.39,535.38" fill="#293a8e"/>
<polygon points="1362.43,565.08 1371.82,564.87 1371.18,534.85 1361.79,535.11" fill="#6ea5be"/>
<polygon points="1371.82,564.87 1381.21,564.65 1380.57,534.59 1371.18,534.85" fill="#901c26"/>
<polygon points="1381.21,564.65 1390.61,564.43 1389.96,534.33 1380.57,534.59" fill="#610c1f"/>
<polygon points="1390.61,564.43 1400.00,564.21 1399.35,534.07 1389.96,534.33" fill="#ede2e0"/>
<polygon points="1400.00,564.21 1409.39,564.00 1408.75,533.80 1399.35,534.07" fill="#1a204d"/>
<polygon points="1409.39,564.00 1418.79,563.78 1418.14,533.54 1408.75,533.80" fill="#e3cac1"/>
<polygon points="1418.79,563.78 1428.18,563.56 1427.53,533.28 1418.14,533.54" fill="#dcb2a4"/>
<polygon points="1428.18,563.56 1437.57,563.34 1436.92,533.01 1427.53,533.28" fill="#c25f44"/>
<polygon points="1437.57,563.34 1446.97,563.12 1446.31,532.75 1436.92,533.01" fill="#ac2c25"/>
<polygon points="1446.97,563.12 1456.36,562.90 1455.71,532.49 1446.31,532.75" fill="#293a8e"/>
<polygon points="1456.36,562.90 1465.75,562.69 1465.10,532.22 1455.71,532.49" fill="#d1907a"/>
<polygon points="1465.75,562.69 1475.15,562.47 1484.54,562.25 1493.93,562.03 1503.33,561.81 1512.72,561.59 1512.06,530.91 1502.67,531.17 1493.27,531.43 1483.88,531.70 1474.49,531.96 1465.10,532.22" fill="#f1eceb"/>
<polygon points="901.57,547.81 910.96,547.55 920.36,547.30 919.66,519.44 910.27,519.74 900.88,520.04" fill="#e3cac1"/>
<polygon points="920.36,547.30 929.75,547.04 929.05,519.14 919.66,519.44" fill="#dfe0e2"/>
<polygon points="929.75,547.04 939.14,546.78 938.44,518.84 929.05,519.14" fill="#400913"/>
<polygon points="939.14,546.78 948.53,546.53 947.83,518.53 938.44,518.84" fill="#0c67bd"/>
<polygon points="948.53,546.53 957.92,546.27 957.23,518.23 947.83,518.53" fill="#418db9"/>
<polygon points="957.92,546.27 967.32,546.01 966.62,517.93 957.23,518.23" fill="#293a8e"/>
<polygon points="967.32,546.01 976.71,545.76 976.01,517.63 966.62,517.93" fill="#a4c0ca"/>
<polygon points="976.71,545.76 986.10,545.50 985.40,517.33 976.01,517.63" fill="#ede2e0"/>
<polygon points="986.10,545.50 995.49,545.24 994.79,517.03 985.40,517.33" fill="#dcb2a4"/>
<polygon points="995.49,545.24 1004.89,544.98 1004.18,516.72 994.79,517.03" fill="#418db9"/>
<polygon points="1004.89,544.98 1014.28,544.73 1013.57,516.42 1004.18,516.72" fill="#a4c0ca"/>
<polygon points="1014.28,544.73 1023.67,544.47 1022.96,516.12 1013.57,516.42" fill="#400913"/>
<polygon points="1023.67,544.47 1033.06,544.21 1032.35,515.82 1022.96,516.12" fill="#93b7c4"/>
<polygon points="1033.06,544.21 1042.45,543.95 1041.74,515.51 1032.35,515.82" fill="#ac2c25"/>
<polygon points="1042.45,543.95 1051.85,543.70 1051.13,515.21 1041.74,515.51" fill="#d1907a"/>
<polygon points="1051.85,543.70 1061.24,543.44 1060.52,514.91 1051.13,515.21" fill="#93b7c4"/>
<polygon points="1061.24,543.44 1070.63,543.18 1069.92,514.60 1060.52,514.91" fill="#a4c0ca"/>
<polygon points="1070.63,543.18 1080.02,542.92 1089.42,542.66 1088.70,514.00 1079.31,514.30 1069.92,514.60" fill="#cad4d8"/>
<polygon points="1089.42,542.66 1098.81,542.40 1098.09,513.69 1088.70,514.00" fill="#a4c0ca"/>
<polygon points="1098.81,542.40 1108.20,542.15 1107.48,513.39 1098.09,513.69" fill="#cad4d8"/>
<polygon points="1108.20,542.15 1117.59,541.89 1116.87,513.09 1107.48,513.39" fill="#6ea5be"/>
<polygon points="1117.59,541.89 1126.98,541.63 1126.26,512.78 1116.87,513.09" fill="#93b7c4"/>
<polygon points="1126.98,541.63 1136.38,541.37 1135.65,512.48 1126.26,512.78" fill="#ac2c25"/>
<polygon points="1136.38,541.37 1145.77,541.11 1145.04,512.18 1135.65,512.48" fill="#293a8e"/>
<polygon points="1145.77,541.11 1155.16,540.85 1154.43,511.87 1145.04,512.18" fill="#6ea5be"/>
<polygon points="1155.16,540.85 1164.55,540.59 1163.82,511.57 1154.43,511.87" fill="#1a204d"/>
<polygon points="1164.55,540.59 1173.94,540.33 1183.34,540.07 1182.60,510.96 1173.21,511.26 1163.82,511.57" fill="#a4c0ca"/>
<polygon points="1183.34,540.07 1192.73,539.81 1191.99,510.65 1182.60,510.96" fill="#e3cac1"/>
<polygon points="1192.73,539.81 1202.12,539.55 1201.38,510.35 1191.99,510.65" fill="#cad4d8"/>
<polygon points="1202.12,539.55 1211.51,539.29 1210.78,510.04 1201.38,510.35" fill="#93b7c4"/>
<polygon points="1211.51,539.29 1220.90,539.03 1220.17,509.74 1210.78,510.04" fill="#7d1128"/>
<polygon points="1220.90,539.03 1230.30,538.77 1229.56,509.43 1220.17,509.74" fill="#c25f44"/>
<polygon points="1230.30,538.77 1239.69,538.51 1238.95,509.13 1229.56,509.43" fill="#610c1f"/>
<polygon points="1239.69,538.51 1249.08,538.25 1248.34,508.82 1238.95,509.13" fill="#dfe0e2"/>
<polygon points="1249.08,538.25 1258.47,537.99 1257.73,508.52 1248.34,508.82" fill="#d1907a"/>
<polygon points="1258.47,537.99 1267.87,537.73 1267.12,508.21 1257.73,508.52" fill="#93b7c4"/>
<polygon points="1267.87,537.73 1277.26,537.47 1276.51,507.91 1267.12,508.21" fill="#1a204d"/>
<polygon points="1277.26,537.47 1286.65,537.21 1285.90,507.60 1276.51,507.91" fill="#293a8e"/>
<polygon points="1286.65,537.21 1296.04,536.95 1295.29,507.29 1285.90,507.60" fill="#d1907a"/>
<polygon points="1296.04,536.95 1305.43,536.68 1304.68,506.99 1295.29,507.29" fill="#7d1128"/>
<polygon points="1305.43,536.68 1314.83,536.42 1314.07,506.68 1304.68,506.99" fill="#c25f44"/>
<polygon points="1314.83,536.42 1324.22,536.16 1323.46,506.38 1314.07,506.68" fill="#0c67bd"/>
<polygon points="1324.22,536.16 1333.61,535.90 1332.85,506.07 1323.46,506.38" fill="#293a8e"/>
<polygon points="1333.61,535.90 1343.00,535.64 1342.24,505.76 1332.85,506.07" fill="#400913"/>
<polygon points="1343.00,535.64 1352.39,535.38 1351.63,505.46 1342.24,505.76" fill="#0c67bd"/>
<polygon points="1352.39,535.38 1361.79,535.11 1361.03,505.15 1351.63,505.46" fill="#f1eceb"/>
<polygon points="1361.79,535.11 1371.18,534.85 1370.42,504.84 1361.03,505.15" fill="#cad4d8"/>
<polygon points="1371.18,534.85 1380.57,534.59 1379.81,504.54 1370.42,504.84" fill="#b6c9d1"/>
<polygon points="1380.57,534.59 1389.96,534.33 1389.20,504.23 1379.81,504.54" fill="#dcb2a4"/>
<polygon points="1389.96,534.33 1399.35,534.07 1398.59,503.92 1389.20,504.23" fill="#1a204d"/>
<polygon points="1399.35,534.07 1408.75,533.80 1418.14,533.54 1417.37,503.31 1407.98,503.61 1398.59,503.92" fill="#0c67bd"/>
<polygon points="1418.14,533.54 1427.53,533.28 1426.76,503.00 1417.37,503.31" fill="#c25f44"/>
<polygon points="1427.53,533.28 1436.92,533.01 1436.15,502.69 1426.76,503.00" fill="#6ea5be"/>
<polygon points="1436.92,533.01 1446.31,532.75 1445.54,502.38 1436.15,502.69" fill="#e3cac1"/>
<polygon points="1446.31,532.75 1455.71,532.49 1454.93,502.07 1445.54,502.38" fill="#d1907a"/>
<polygon points="1455.71,532.49 1465.10,532.22 1464.32,501.77 1454.93,502.07" fill="#93b7c4"/>
<polygon points="1465.10,532.22 1474.49,531.96 1483.88,531.70 1493.27,531.43 1502.67,531.17 1512.06,530.91 1511.27,500.22 1501.88,500.53 1492.49,500.84 1483.10,501.15 1473.71,501.46 1464.32,501.77" fill="#0c67bd"/>
<polygon points="900.88,520.04 910.27,519.74 919.66,519.44 918.86,491.58 909.47,491.93 900.08,492.28" fill="#1a204d"/>
<polygon points="919.66,519.44 929.05,519.14 928.25,491.24 918.86,491.58" fill="#f1eceb"/>
<polygon points="929.05,519.14 938.44,518.84 937.64,490.89 928.25,491.24" fill="#400913"/>
<polygon points="938.44,518.84 947.83,518.53 947.03,490.54 937.64,490.89" fill="#c25f44"/>
<polygon points="947.83,518.53 957.23,518.23 956.41,490.20 947.03,490.54" fill="#dfe0e2"/>
<polygon points="957.23,518.23 966.62,517.93 965.80,489.85 956.41,490.20" fill="#cad4d8"/>
<polygon points="966.62,517.93 976.01,517.63 975.19,489.51 965.80,489.85" fill="#b6c9d1"/>
<polygon points="976.01,517.63 985.40,517.33 984.58,489.16 975.19,489.51" fill="#93b7c4"/>
<polygon points="985.40,517.33 994.79,517.03 1004.18,516.72 1003.36,488.46 993.97,488.81 984.58,489.16" fill="#a4c0ca"/>
<polygon points="1004.18,516.72 1013.57,516.42 1012.75,488.12 1003.36,488.46" fill="#6ea5be"/>
<polygon points="1013.57,516.42 1022.96,516.12 1032.35,515.82 1041.74,515.51 1051.13,515.21 1050.31,486.73 1040.92,487.08 1031.53,487.42 1022.14,487.77 1012.75,488.12" fill="#a4c0ca"/>
<polygon points="1051.13,515.21 1060.52,514.91 1059.70,486.38 1050.31,486.73" fill="#93b7c4"/>
<polygon points="1060.52,514.91 1069.92,514.60 1079.31,514.30 1088.70,514.00 1098.09,513.69 1107.48,513.39 1106.64,484.64 1097.25,484.99 1087.86,485.34 1078.47,485.68 1069.09,486.03 1059.70,486.38" fill="#a4c0ca"/>
<polygon points="1107.48,513.39 1116.87,513.09 1116.03,484.29 1106.64,484.64" fill="#b6c9d1"/>
<polygon points="1116.87,513.09 1126.26,512.78 1125.42,483.94 1116.03,484.29" fill="#a4c0ca"/>
<polygon points="1126.26,512.78 1135.65,512.48 1134.81,483.59 1125.42,483.94" fill="#b6c9d1"/>
<polygon points="1135.65,512.48 1145.04,512.18 1144.20,483.24 1134.81,483.59" fill="#93b7c4"/>
<polygon points="1145.04,512.18 1154.43,511.87 1153.59,482.90 1144.20,483.24" fill="#a4c0ca"/>
<polygon points="1154.43,511.87 1163.82,511.57 1162.98,482.55 1153.59,482.90" fill="#1a204d"/>
<polygon points="1163.82,511.57 1173.21,511.26 1172.37,482.20 1162.98,482.55" fill="#a4c0ca"/>
<polygon points="1173.21,511.26 1182.60,510.96 1181.75,481.85 1172.37,482.20" fill="#cad4d8"/>
<polygon points="1182.60,510.96 1191.99,510.65 1191.14,481.50 1181.75,481.85" fill="#418db9"/>
<polygon points="1191.99,510.65 1201.38,510.35 1200.53,481.15 1191.14,481.50" fill="#cad4d8"/>
<polygon points="1201.38,510.35 1210.78,510.04 1209.92,480.80 1200.53,481.15" fill="#a4c0ca"/>
<polygon points="1210.78,510.04 1220.17,509.74 1219.31,480.45 1209.92,480.80" fill="#6ea5be"/>
<polygon points="1220.17,509.74 1229.56,509.43 1228.70,480.10 1219.31,480.45" fill="#d1907a"/>
<polygon points="1229.56,509.43 1238.95,509.13 1238.09,479.75 1228.70,480.10" fill="#1a204d"/>
<polygon points="1238.95,509.13 1248.34,508.82 1247.48,479.40 1238.09,479.75" fill="#293a8e"/>
<polygon points="1248.34,508.82 1257.73,508.52 1256.87,479.05 1247.48,479.40" fill="#400913"/>
<polygon points="1257.73,508.52 1267.12,508.21 1266.26,478.70 1256.87,479.05" fill="#d1907a"/>
<polygon points="1267.12,508.21 1276.51,507.91 1275.64,478.35 1266.26,478.70" fill="#1a204d"/>
<polygon points="1276.51,507.91 1285.90,507.60 1285.03,478.00 1275.64,478.35" fill="#c25f44"/>
<polygon points="1285.90,507.60 1295.29,507.29 1294.42,477.65 1285.03,478.00" fill="#ac2c25"/>
<polygon points="1295.29,507.29 1304.68,506.99 1303.81,477.30 1294.42,477.65" fill="#93b7c4"/>
<polygon points="1304.68,506.99 1314.07,506.68 1313.20,476.95 1303.81,477.30" fill="#d1907a"/>
<polygon points="1314.07,506.68 1323.46,506.38 1322.59,476.59 1313.20,476.95" fill="#610c1f"/>
<polygon points="1323.46,506.38 1332.85,506.07 1331.98,476.24 1322.59,476.59" fill="#418db9"/>
<polygon points="1332.85,506.07 1342.24,505.76 1341.37,475.89 1331.98,476.24" fill="#7d1128"/>
<polygon points="1342.24,505.76 1351.63,505.46 1350.76,475.54 1341.37,475.89" fill="#dcb2a4"/>
<polygon points="1351.63,505.46 1361.03,505.15 1360.14,475.19 1350.76,475.54" fill="#0c67bd"/>
<polygon points="1361.03,505.15 1370.42,504.84 1369.53,474.84 1360.14,475.19" fill="#293a8e"/>
<polygon points="1370.42,504.84 1379.81,504.54 1378.92,474.48 1369.53,474.84" fill="#dcb2a4"/>
<polygon points="1379.81,504.54 1389.20,504.23 1398.59,503.92 1397.70,473.78 1388.31,474.13 1378.92,474.48" fill="#1a204d"/>
<polygon points="1398.59,503.92 1407.98,503.61 1407.09,473.43 1397.70,473.78" fill="#7d1128"/>
<polygon points="1407.98,503.61 1417.37,503.31 1416.48,473.08 1407.09,473.43" fill="#cad4d8"/>
<polygon points="1417.37,503.31 1426.76,503.00 1436.15,502.69 1445.54,502.38 1444.64,472.02 1435.26,472.37 1425.87,472.72 1416.48,473.08" fill="#0c67bd"/>
<polygon points="1445.54,502.38 1454.93,502.07 1454.03,471.67 1444.64,472.02" fill="#c25f44"/>
<polygon points="1454.93,502.07 1464.32,501.77 1463.42,471.31 1454.03,471.67" fill="#1a204d"/>
<polygon points="1464.32,501.77 1473.71,501.46 1483.10,501.15 1492.49,500.84 1501.88,500.53 1511.27,500.22 1510.37,469.55 1500.98,469.90 1491.59,470.25 1482.20,470.61 1472.81,470.96 1463.42,471.31" fill="#418db9"/>
<polygon points="900.08,492.28 909.47,491.93 918.86,491.58 928.25,491.24 927.33,463.34 917.94,463.73 908.55,464.12 899.17,464.51" fill="#418db9"/>
<polygon points="928.25,491.24 937.64,490.89 936.72,462.95 927.33,463.34" fill="#224eb2"/>
<polygon points="937.64,490.89 947.03,490.54 946.10,462.56 936.72,462.95" fill="#6ea5be"/>
<polygon points="947.03,490.54 956.41,490.20 965.80,489.85 964.88,461.78 955.49,462.17 946.10,462.56" fill="#b6c9d1"/>
<polygon points="965.80,489.85 975.19,489.51 984.58,489.16 983.65,460.99 974.27,461.39 964.88,461.78" fill="#a4c0ca"/>
<polygon points="984.58,489.16 993.97,488.81 993.04,460.60 983.65,460.99" fill="#93b7c4"/>
<polygon points="993.97,488.81 1003.36,488.46 1002.43,460.21 993.04,460.60" fill="#a4c0ca"/>
<polygon points="1003.36,488.46 1012.75,488.12 1011.82,459.82 1002.43,460.21" fill="#6ea5be"/>
<polygon points="1012.75,488.12 1022.14,487.77 1021.20,459.43 1011.82,459.82" fill="#ede2e0"/>
<polygon points="1022.14,487.77 1031.53,487.42 1030.59,459.03 1021.20,459.43" fill="#cad4d8"/>
<polygon points="1031.53,487.42 1040.92,487.08 1050.31,486.73 1059.70,486.38 1058.75,457.86 1049.37,458.25 1039.98,458.64 1030.59,459.03" fill="#a4c0ca"/>
<polygon points="1059.70,486.38 1069.09,486.03 1078.47,485.68 1077.53,457.07 1068.14,457.46 1058.75,457.86" fill="#93b7c4"/>
<polygon points="1078.47,485.68 1087.86,485.34 1097.25,484.99 1106.64,484.64 1116.03,484.29 1125.42,483.94 1124.46,455.11 1115.08,455.50 1105.69,455.89 1096.30,456.29 1086.92,456.68 1077.53,457.07" fill="#a4c0ca"/>
<polygon points="1125.42,483.94 1134.81,483.59 1133.85,454.71 1124.46,455.11" fill="#93b7c4"/>
<polygon points="1134.81,483.59 1144.20,483.24 1153.59,482.90 1152.63,453.92 1143.24,454.32 1133.85,454.71" fill="#a4c0ca"/>
<polygon points="1153.59,482.90 1162.98,482.55 1162.01,453.53 1152.63,453.92" fill="#cad4d8"/>
<polygon points="1162.98,482.55 1172.37,482.20 1181.75,481.85 1180.79,452.74 1171.40,453.14 1162.01,453.53" fill="#a4c0ca"/>
<polygon points="1181.75,481.85 1191.14,481.50 1190.18,452.35 1180.79,452.74" fill="#b6c9d1"/>
<polygon points="1191.14,481.50 1200.53,481.15 1199.56,451.95 1190.18,452.35" fill="#cad4d8"/>
<polygon points="1200.53,481.15 1209.92,480.80 1208.95,451.56 1199.56,451.95" fill="#6ea5be"/>
<polygon points="1209.92,480.80 1219.31,480.45 1218.34,451.17 1208.95,451.56" fill="#a4c0ca"/>
<polygon points="1219.31,480.45 1228.70,480.10 1227.72,450.77 1218.34,451.17" fill="#418db9"/>
<polygon points="1228.70,480.10 1238.09,479.75 1247.48,479.40 1246.50,449.98 1237.11,450.38 1227.72,450.77" fill="#0c67bd"/>
<polygon points="1247.48,479.40 1256.87,479.05 1255.89,449.59 1246.50,449.98" fill="#ac2c25"/>
<polygon points="1256.87,479.05 1266.26,478.70 1265.27,449.19 1255.89,449.59" fill="#c25f44"/>
<polygon points="1266.26,478.70 1275.64,478.35 1285.03,478.00 1284.05,448.40 1274.66,448.79 1265.27,449.19" fill="#d1907a"/>
<polygon points="1285.03,478.00 1294.42,477.65 1293.43,448.00 1284.05,448.40" fill="#f1eceb"/>
<polygon points="1294.42,477.65 1303.81,477.30 1302.82,447.61 1293.43,448.00" fill="#293a8e"/>
<polygon points="1303.81,477.30 1313.20,476.95 1312.21,447.21 1302.82,447.61" fill="#ede2e0"/>
<polygon points="1313.20,476.95 1322.59,476.59 1321.60,446.82 1312.21,447.21" fill="#d1907a"/>
<polygon points="1322.59,476.59 1331.98,476.24 1330.98,446.42 1321.60,446.82" fill="#293a8e"/>
<polygon points="1331.98,476.24 1341.37,475.89 1340.37,446.02 1330.98,446.42" fill="#b6c9d1"/>
<polygon points="1341.37,475.89 1350.76,475.54 1349.76,445.63 1340.37,446.02" fill="#ede2e0"/>
<polygon points="1350.76,475.54 1360.14,475.19 1359.14,445.23 1349.76,445.63" fill="#610c1f"/>
<polygon points="1360.14,475.19 1369.53,474.84 1368.53,444.84 1359.14,445.23" fill="#dcb2a4"/>
<polygon points="1369.53,474.84 1378.92,474.48 1377.92,444.44 1368.53,444.84" fill="#901c26"/>
<polygon points="1378.92,474.48 1388.31,474.13 1387.31,444.04 1377.92,444.44" fill="#dcb2a4"/>
<polygon points="1388.31,474.13 1397.70,473.78 1396.69,443.64 1387.31,444.04" fill="#c25f44"/>
<polygon points="1397.70,473.78 1407.09,473.43 1406.08,443.25 1396.69,443.64" fill="#1a204d"/>
<polygon points="1407.09,473.43 1416.48,473.08 1415.47,442.85 1406.08,443.25" fill="#c25f44"/>
<polygon points="1416.48,473.08 1425.87,472.72 1424.85,442.45 1415.47,442.85" fill="#cad4d8"/>
<polygon points="1425.87,472.72 1435.26,472.37 1434.24,442.06 1424.85,442.45" fill="#e3cac1"/>
<polygon points="1435.26,472.37 1444.64,472.02 1443.63,441.66 1434.24,442.06" fill="#1a204d"/>
<polygon points="1444.64,472.02 1454.03,471.67 1453.02,441.26 1443.63,441.66" fill="#ede2e0"/>
<polygon points="1454.03,471.67 1463.42,471.31 1462.40,440.86 1453.02,441.26" fill="#1a204d"/>
<polygon points="1463.42,471.31 1472.81,470.96 1482.20,470.61 1491.59,470.25 1500.98,469.90 1510.37,469.55 1509.34,438.87 1499.95,439.27 1490.56,439.67 1481.18,440.07 1471.79,440.47 1462.40,440.86" fill="#e3cac1"/>
<polygon points="899.17,464.51 908.55,464.12 917.94,463.73 916.92,435.89 907.53,436.32 898.14,436.76" fill="#cad4d8"/>
<polygon points="917.94,463.73 927.33,463.34 926.30,435.45 916.92,435.89" fill="#0c67bd"/>
<polygon points="927.33,463.34 936.72,462.95 946.10,462.56 945.07,434.58 935.69,435.01 926.30,435.45" fill="#418db9"/>
<polygon points="946.10,462.56 955.49,462.17 964.88,461.78 974.27,461.39 973.23,433.27 963.84,433.71 954.46,434.14 945.07,434.58" fill="#b6c9d1"/>
<polygon points="974.27,461.39 983.65,460.99 982.61,432.83 973.23,433.27" fill="#a4c0ca"/>
<polygon points="983.65,460.99 993.04,460.60 992.00,432.40 982.61,432.83" fill="#b6c9d1"/>
<polygon points="993.04,460.60 1002.43,460.21 1001.38,431.96 992.00,432.40" fill="#a4c0ca"/>
<polygon points="1002.43,460.21 1011.82,459.82 1010.77,431.52 1001.38,431.96" fill="#b6c9d1"/>
<polygon points="1011.82,459.82 1021.20,459.43 1020.16,431.09 1010.77,431.52" fill="#a4c0ca"/>
<polygon points="1021.20,459.43 1030.59,459.03 1039.98,458.64 1038.93,430.21 1029.54,430.65 1020.16,431.09" fill="#b6c9d1"/>
<polygon points="1039.98,458.64 1049.37,458.25 1058.75,457.86 1057.70,429.34 1048.31,429.78 1038.93,430.21" fill="#a4c0ca"/>
<polygon points="1058.75,457.86 1068.14,457.46 1067.08,428.90 1057.70,429.34" fill="#93b7c4"/>
<polygon points="1068.14,457.46 1077.53,457.07 1086.92,456.68 1085.85,428.03 1076.47,428.46 1067.08,428.90" fill="#a4c0ca"/>
<polygon points="1086.92,456.68 1096.30,456.29 1095.24,427.59 1085.85,428.03" fill="#b6c9d1"/>
<polygon points="1096.30,456.29 1105.69,455.89 1115.08,455.50 1124.46,455.11 1133.85,454.71 1143.24,454.32 1152.63,453.92 1151.55,424.96 1142.17,425.40 1132.78,425.84 1123.39,426.27 1114.01,426.71 1104.62,427.15 1095.24,427.59" fill="#a4c0ca"/>
<polygon points="1152.63,453.92 1162.01,453.53 1160.94,424.52 1151.55,424.96" fill="#b6c9d1"/>
<polygon points="1162.01,453.53 1171.40,453.14 1170.32,424.08 1160.94,424.52" fill="#a4c0ca"/>
<polygon points="1171.40,453.14 1180.79,452.74 1179.71,423.64 1170.32,424.08" fill="#b6c9d1"/>
<polygon points="1180.79,452.74 1190.18,452.35 1189.09,423.20 1179.71,423.64" fill="#a4c0ca"/>
<polygon points="1190.18,452.35 1199.56,451.95 1198.48,422.76 1189.09,423.20" fill="#cad4d8"/>
<polygon points="1199.56,451.95 1208.95,451.56 1218.34,451.17 1227.72,450.77 1226.63,421.45 1217.25,421.89 1207.86,422.32 1198.48,422.76" fill="#b6c9d1"/>
<polygon points="1227.72,450.77 1237.11,450.38 1236.02,421.01 1226.63,421.45" fill="#c25f44"/>
<polygon points="1237.11,450.38 1246.50,449.98 1245.40,420.57 1236.02,421.01" fill="#ede2e0"/>
<polygon points="1246.50,449.98 1255.89,449.59 1254.79,420.13 1245.40,420.57" fill="#d1907a"/>
<polygon points="1255.89,449.59 1265.27,449.19 1264.17,419.69 1254.79,420.13" fill="#6ea5be"/>
<polygon points="1265.27,449.19 1274.66,448.79 1273.56,419.25 1264.17,419.69" fill="#d1907a"/>
<polygon points="1274.66,448.79 1284.05,448.40 1282.94,418.81 1273.56,419.25" fill="#e3cac1"/>
<polygon points="1284.05,448.40 1293.43,448.00 1292.33,418.37 1282.94,418.81" fill="#d1907a"/>
<polygon points="1293.43,448.00 1302.82,447.61 1301.71,417.93 1292.33,418.37" fill="#418db9"/>
<polygon points="1302.82,447.61 1312.21,447.21 1321.60,446.82 1320.48,417.04 1311.10,417.48 1301.71,417.93" fill="#f1eceb"/>
<polygon points="1321.60,446.82 1330.98,446.42 1329.87,416.60 1320.48,417.04" fill="#418db9"/>
<polygon points="1330.98,446.42 1340.37,446.02 1339.25,416.16 1329.87,416.60" fill="#0c67bd"/>
<polygon points="1340.37,446.02 1349.76,445.63 1348.64,415.72 1339.25,416.16" fill="#400913"/>
<polygon points="1349.76,445.63 1359.14,445.23 1358.03,415.28 1348.64,415.72" fill="#224eb2"/>
<polygon points="1359.14,445.23 1368.53,444.84 1367.41,414.84 1358.03,415.28" fill="#c25f44"/>
<polygon points="1368.53,444.84 1377.92,444.44 1376.80,414.40 1367.41,414.84" fill="#6ea5be"/>
<polygon points="1377.92,444.44 1387.31,444.04 1386.18,413.96 1376.80,414.40" fill="#400913"/>
<polygon points="1387.31,444.04 1396.69,443.64 1395.57,413.51 1386.18,413.96" fill="#1a204d"/>
<polygon points="1396.69,443.64 1406.08,443.25 1404.95,413.07 1395.57,413.51" fill="#418db9"/>
<polygon points="1406.08,443.25 1415.47,442.85 1414.34,412.63 1404.95,413.07" fill="#e3cac1"/>
<polygon points="1415.47,442.85 1424.85,442.45 1423.72,412.19 1414.34,412.63" fill="#cad4d8"/>
<polygon points="1424.85,442.45 1434.24,442.06 1433.11,411.75 1423.72,412.19" fill="#dfe0e2"/>
<polygon points="1434.24,442.06 1443.63,441.66 1442.49,411.30 1433.11,411.75" fill="#e3cac1"/>
<polygon points="1443.63,441.66 1453.02,441.26 1462.40,440.86 1461.26,410.42 1451.88,410.86 1442.49,411.30" fill="#d1907a"/>
<polygon points="1462.40,440.86 1471.79,440.47 1470.65,409.98 1461.26,410.42" fill="#400913"/>
<polygon points="1471.79,440.47 1481.18,440.07 1490.56,439.67 1499.95,439.27 1509.34,438.87 1508.19,408.20 1498.80,408.65 1489.42,409.09 1480.03,409.53 1470.65,409.98" fill="#e3cac1"/>
<polygon points="898.14,436.76 907.53,436.32 916.92,435.89 915.78,408.05 906.39,408.53 897.01,409.01" fill="#93b7c4"/>
<polygon points="916.92,435.89 926.30,435.45 925.16,407.56 915.78,408.05" fill="#0c67bd"/>
<polygon points="926.30,435.45 935.69,435.01 934.54,407.08 925.16,407.56" fill="#7d1128"/>
<polygon points="935.69,435.01 945.07,434.58 943.93,406.60 934.54,407.08" fill="#c25f44"/>
<polygon points="945.07,434.58 954.46,434.14 953.31,406.12 943.93,406.60" fill="#a4c0ca"/>
<polygon points="954.46,434.14 963.84,433.71 973.23,433.27 972.08,405.16 962.69,405.64 953.31,406.12" fill="#93b7c4"/>
<polygon points="973.23,433.27 982.61,432.83 992.00,432.40 1001.38,431.96 1010.77,431.52 1009.61,403.24 1000.23,403.72 990.84,404.20 981.46,404.68 972.08,405.16" fill="#a4c0ca"/>
<polygon points="1010.77,431.52 1020.16,431.09 1029.54,430.65 1038.93,430.21 1037.76,401.79 1028.38,402.27 1018.99,402.75 1009.61,403.24" fill="#b6c9d1"/>
<polygon points="1038.93,430.21 1048.31,429.78 1047.14,401.31 1037.76,401.79" fill="#cad4d8"/>
<polygon points="1048.31,429.78 1057.70,429.34 1056.53,400.83 1047.14,401.31" fill="#dfe0e2"/>
<polygon points="1057.70,429.34 1067.08,428.90 1076.47,428.46 1075.29,399.86 1065.91,400.34 1056.53,400.83" fill="#cad4d8"/>
<polygon points="1076.47,428.46 1085.85,428.03 1084.68,399.38 1075.29,399.86" fill="#b6c9d1"/>
<polygon points="1085.85,428.03 1095.24,427.59 1094.06,398.90 1084.68,399.38" fill="#a4c0ca"/>
<polygon points="1095.24,427.59 1104.62,427.15 1103.44,398.41 1094.06,398.90" fill="#b6c9d1"/>
<polygon points="1104.62,427.15 1114.01,426.71 1112.83,397.93 1103.44,398.41" fill="#a4c0ca"/>
<polygon points="1114.01,426.71 1123.39,426.27 1122.21,397.45 1112.83,397.93" fill="#b6c9d1"/>
<polygon points="1123.39,426.27 1132.78,425.84 1131.59,396.96 1122.21,397.45" fill="#a4c0ca"/>
<polygon points="1132.78,425.84 1142.17,425.40 1151.55,424.96 1150.36,396.00 1140.98,396.48 1131.59,396.96" fill="#b6c9d1"/>
<polygon points="1151.55,424.96 1160.94,424.52 1159.74,395.51 1150.36,396.00" fill="#a4c0ca"/>
<polygon points="1160.94,424.52 1170.32,424.08 1169.13,395.03 1159.74,395.51" fill="#cad4d8"/>
<polygon points="1170.32,424.08 1179.71,423.64 1189.09,423.20 1198.48,422.76 1207.86,422.32 1206.66,393.10 1197.27,393.58 1187.89,394.06 1178.51,394.55 1169.13,395.03" fill="#b6c9d1"/>
<polygon points="1207.86,422.32 1217.25,421.89 1216.04,392.61 1206.66,393.10" fill="#a4c0ca"/>
<polygon points="1217.25,421.89 1226.63,421.45 1225.42,392.13 1216.04,392.61" fill="#b6c9d1"/>
<polygon points="1226.63,421.45 1236.02,421.01 1234.81,391.64 1225.42,392.13" fill="#a4c0ca"/>
<polygon points="1236.02,421.01 1245.40,420.57 1254.79,420.13 1253.57,390.67 1244.19,391.16 1234.81,391.64" fill="#b6c9d1"/>
<polygon points="1254.79,420.13 1264.17,419.69 1262.96,390.19 1253.57,390.67" fill="#a4c0ca"/>
<polygon points="1264.17,419.69 1273.56,419.25 1272.34,389.70 1262.96,390.19" fill="#b6c9d1"/>
<polygon points="1273.56,419.25 1282.94,418.81 1281.72,389.22 1272.34,389.70" fill="#dcb2a4"/>
<polygon points="1282.94,418.81 1292.33,418.37 1291.10,388.73 1281.72,389.22" fill="#400913"/>
<polygon points="1292.33,418.37 1301.71,417.93 1300.49,388.25 1291.10,388.73" fill="#dfe0e2"/>
<polygon points="1301.71,417.93 1311.10,417.48 1309.87,387.76 1300.49,388.25" fill="#c25f44"/>
<polygon points="1311.10,417.48 1320.48,417.04 1319.25,387.28 1309.87,387.76" fill="#dcb2a4"/>
<polygon points="1320.48,417.04 1329.87,416.60 1328.64,386.79 1319.25,387.28" fill="#cad4d8"/>
<polygon points="1329.87,416.60 1339.25,416.16 1338.02,386.31 1328.64,386.79" fill="#c25f44"/>
<polygon points="1339.25,416.16 1348.64,415.72 1347.40,385.82 1338.02,386.31" fill="#dcb2a4"/>
<polygon points="1348.64,415.72 1358.03,415.28 1356.79,385.33 1347.40,385.82" fill="#d1907a"/>
<polygon points="1358.03,415.28 1367.41,414.84 1366.17,384.85 1356.79,385.33" fill="#c25f44"/>
<polygon points="1367.41,414.84 1376.80,414.40 1375.55,384.36 1366.17,384.85" fill="#400913"/>
<polygon points="1376.80,414.40 1386.18,413.96 1384.93,383.88 1375.55,384.36" fill="#f1eceb"/>
<polygon points="1386.18,413.96 1395.57,413.51 1394.32,383.39 1384.93,383.88" fill="#ede2e0"/>
<polygon points="1395.57,413.51 1404.95,413.07 1403.70,382.90 1394.32,383.39" fill="#e3cac1"/>
<polygon points="1404.95,413.07 1414.34,412.63 1423.72,412.19 1422.47,381.93 1413.08,382.42 1403.70,382.90" fill="#cad4d8"/>
<polygon points="1423.72,412.19 1433.11,411.75 1431.85,381.44 1422.47,381.93" fill="#224eb2"/>
<polygon points="1433.11,411.75 1442.49,411.30 1451.88,410.86 1450.61,380.47 1441.23,380.95 1431.85,381.44" fill="#a4c0ca"/>
<polygon points="1451.88,410.86 1461.26,410.42 1460.00,379.98 1450.61,380.47" fill="#901c26"/>
<polygon points="1461.26,410.42 1470.65,409.98 1469.38,379.49 1460.00,379.98" fill="#a4c0ca"/>
<polygon points="1470.65,409.98 1480.03,409.53 1489.42,409.09 1498.80,408.65 1508.19,408.20 1506.91,377.54 1497.53,378.03 1488.15,378.52 1478.76,379.01 1469.38,379.49" fill="#f1eceb"/>
<polygon points="897.01,409.01 906.39,408.53 915.78,408.05 914.53,380.21 905.15,380.73 895.77,381.26" fill="#dfe0e2"/>
<polygon points="915.78,408.05 925.16,407.56 923.91,379.68 914.53,380.21" fill="#c25f44"/>
<polygon points="925.16,407.56 934.54,407.08 933.29,379.16 923.91,379.68" fill="#ac2c25"/>
<polygon points="934.54,407.08 943.93,406.60 942.67,378.63 933.29,379.16" fill="#e3cac1"/>
<polygon points="943.93,406.60 953.31,406.12 952.05,378.11 942.67,378.63" fill="#6ea5be"/>
<polygon points="953.31,406.12 962.69,405.64 961.43,377.58 952.05,378.11" fill="#dfe0e2"/>
<polygon points="962.69,405.64 972.08,405.16 970.81,377.06 961.43,377.58" fill="#93b7c4"/>
<polygon points="972.08,405.16 981.46,404.68 990.84,404.20 1000.23,403.72 1009.61,403.24 1008.34,374.95 998.96,375.48 989.58,376.00 980.19,376.53 970.81,377.06" fill="#b6c9d1"/>
<polygon points="1009.61,403.24 1018.99,402.75 1028.38,402.27 1027.10,373.90 1017.72,374.43 1008.34,374.95" fill="#cad4d8"/>
<polygon points="1028.38,402.27 1037.76,401.79 1036.48,373.37 1027.10,373.90" fill="#418db9"/>
<polygon points="1037.76,401.79 1047.14,401.31 1045.86,372.85 1036.48,373.37" fill="#cad4d8"/>
<polygon points="1047.14,401.31 1056.53,400.83 1055.24,372.32 1045.86,372.85" fill="#e3cac1"/>
<polygon points="1056.53,400.83 1065.91,400.34 1064.62,371.79 1055.24,372.32" fill="#a4c0ca"/>
<polygon points="1065.91,400.34 1075.29,399.86 1084.68,399.38 1083.39,370.74 1074.00,371.26 1064.62,371.79" fill="#b6c9d1"/>
<polygon points="1084.68,399.38 1094.06,398.90 1092.77,370.21 1083.39,370.74" fill="#cad4d8"/>
<polygon points="1094.06,398.90 1103.44,398.41 1112.83,397.93 1122.21,397.45 1120.91,368.63 1111.53,369.15 1102.15,369.68 1092.77,370.21" fill="#b6c9d1"/>
<polygon points="1122.21,397.45 1131.59,396.96 1140.98,396.48 1150.36,396.00 1159.74,395.51 1169.13,395.03 1178.51,394.55 1187.89,394.06 1197.27,393.58 1206.66,393.10 1205.34,363.87 1195.96,364.40 1186.57,364.93 1177.19,365.46 1167.81,365.99 1158.43,366.51 1149.05,367.04 1139.67,367.57 1130.29,368.10 1120.91,368.63" fill="#cad4d8"/>
<polygon points="1206.66,393.10 1216.04,392.61 1214.72,363.34 1205.34,363.87" fill="#b6c9d1"/>
<polygon points="1216.04,392.61 1225.42,392.13 1234.81,391.64 1244.19,391.16 1253.57,390.67 1252.24,361.23 1242.86,361.76 1233.48,362.28 1224.10,362.81 1214.72,363.34" fill="#cad4d8"/>
<polygon points="1253.57,390.67 1262.96,390.19 1261.62,360.70 1252.24,361.23" fill="#ede2e0"/>
<polygon points="1262.96,390.19 1272.34,389.70 1271.00,360.17 1261.62,360.70" fill="#400913"/>
<polygon points="1272.34,389.70 1281.72,389.22 1280.38,359.64 1271.00,360.17" fill="#cad4d8"/>
<polygon points="1281.72,389.22 1291.10,388.73 1289.76,359.11 1280.38,359.64" fill="#dcb2a4"/>
<polygon points="1291.10,388.73 1300.49,388.25 1299.14,358.58 1289.76,359.11" fill="#418db9"/>
<polygon points="1300.49,388.25 1309.87,387.76 1308.52,358.05 1299.14,358.58" fill="#7d1128"/>
<polygon points="1309.87,387.76 1319.25,387.28 1317.90,357.52 1308.52,358.05" fill="#400913"/>
<polygon points="1319.25,387.28 1328.64,386.79 1327.28,356.99 1317.90,357.52" fill="#e3cac1"/>
<polygon points="1328.64,386.79 1338.02,386.31 1336.67,356.46 1327.28,356.99" fill="#610c1f"/>
<polygon points="1338.02,386.31 1347.40,385.82 1346.05,355.93 1336.67,356.46" fill="#418db9"/>
<polygon points="1347.40,385.82 1356.79,385.33 1355.43,355.39 1346.05,355.93" fill="#1a204d"/>
<polygon points="1356.79,385.33 1366.17,384.85 1364.81,354.86 1355.43,355.39" fill="#e3cac1"/>
<polygon points="1366.17,384.85 1375.55,384.36 1374.19,354.33 1364.81,354.86" fill="#d1907a"/>
<polygon points="1375.55,384.36 1384.93,383.88 1383.57,353.80 1374.19,354.33" fill="#418db9"/>
<polygon points="1384.93,383.88 1394.32,383.39 1392.95,353.27 1383.57,353.80" fill="#a4c0ca"/>
<polygon points="1394.32,383.39 1403.70,382.90 1402.33,352.74 1392.95,353.27" fill="#c25f44"/>
<polygon points="1403.70,382.90 1413.08,382.42 1411.71,352.21 1402.33,352.74" fill="#f1eceb"/>
<polygon points="1413.08,382.42 1422.47,381.93 1421.09,351.68 1411.71,352.21" fill="#dfe0e2"/>
<polygon points="1422.47,381.93 1431.85,381.44 1430.47,351.14 1421.09,351.68" fill="#c25f44"/>
<polygon points="1431.85,381.44 1441.23,380.95 1439.85,350.61 1430.47,351.14" fill="#dcb2a4"/>
<polygon points="1441.23,380.95 1450.61,380.47 1449.23,350.08 1439.85,350.61" fill="#93b7c4"/>
<polygon points="1450.61,380.47 1460.00,379.98 1458.61,349.55 1449.23,350.08" fill="#f1eceb"/>
<polygon points="1460.00,379.98 1469.38,379.49 1467.99,349.02 1458.61,349.55" fill="#e3cac1"/>
<polygon points="1469.38,379.49 1478.76,379.01 1488.15,378.52 1497.53,378.03 1506.91,377.54 1505.51,346.89 1496.13,347.42 1486.75,347.95 1477.37,348.48 1467.99,349.02" fill="#418db9"/>
<polygon points="895.77,381.26 905.15,380.73 914.53,380.21 913.17,352.38 903.79,352.95 894.41,353.52" fill="#ede2e0"/>
<polygon points="914.53,380.21 923.91,379.68 922.55,351.81 913.17,352.38" fill="#ac2c25"/>
<polygon points="923.91,379.68 933.29,379.16 931.92,351.24 922.55,351.81" fill="#400913"/>
<polygon points="933.29,379.16 942.67,378.63 941.30,350.67 931.92,351.24" fill="#ede2e0"/>
<polygon points="942.67,378.63 952.05,378.11 950.68,350.10 941.30,350.67" fill="#e3cac1"/>
<polygon points="952.05,378.11 961.43,377.58 960.06,349.53 950.68,350.10" fill="#cad4d8"/>
<polygon points="961.43,377.58 970.81,377.06 969.44,348.96 960.06,349.53" fill="#dfe0e2"/>
<polygon points="970.81,377.06 980.19,376.53 978.82,348.39 969.44,348.96" fill="#6ea5be"/>
<polygon points="980.19,376.53 989.58,376.00 988.20,347.82 978.82,348.39" fill="#b6c9d1"/>
<polygon points="989.58,376.00 998.96,375.48 997.57,347.25 988.20,347.82" fill="#f1eceb"/>
<polygon points="998.96,375.48 1008.34,374.95 1017.72,374.43 1016.33,346.10 1006.95,346.68 997.57,347.25" fill="#93b7c4"/>
<polygon points="1017.72,374.43 1027.10,373.90 1025.71,345.53 1016.33,346.10" fill="#6ea5be"/>
<polygon points="1027.10,373.90 1036.48,373.37 1035.09,344.96 1025.71,345.53" fill="#ede2e0"/>
<polygon points="1036.48,373.37 1045.86,372.85 1044.47,344.39 1035.09,344.96" fill="#dfe0e2"/>
<polygon points="1045.86,372.85 1055.24,372.32 1053.84,343.82 1044.47,344.39" fill="#cad4d8"/>
<polygon points="1055.24,372.32 1064.62,371.79 1063.22,343.25 1053.84,343.82" fill="#e3cac1"/>
<polygon points="1064.62,371.79 1074.00,371.26 1072.60,342.67 1063.22,343.25" fill="#cad4d8"/>
<polygon points="1074.00,371.26 1083.39,370.74 1081.98,342.10 1072.60,342.67" fill="#6ea5be"/>
<polygon points="1083.39,370.74 1092.77,370.21 1091.36,341.53 1081.98,342.10" fill="#93b7c4"/>
<polygon points="1092.77,370.21 1102.15,369.68 1100.74,340.96 1091.36,341.53" fill="#dfe0e2"/>
<polygon points="1102.15,369.68 1111.53,369.15 1120.91,368.63 1130.29,368.10 1128.87,339.24 1119.49,339.81 1110.11,340.39 1100.74,340.96" fill="#b6c9d1"/>
<polygon points="1130.29,368.10 1139.67,367.57 1149.05,367.04 1147.63,338.09 1138.25,338.67 1128.87,339.24" fill="#cad4d8"/>
<polygon points="1149.05,367.04 1158.43,366.51 1167.81,365.99 1177.19,365.46 1175.76,336.38 1166.38,336.95 1157.01,337.52 1147.63,338.09" fill="#dfe0e2"/>
<polygon points="1177.19,365.46 1186.57,364.93 1185.14,335.80 1175.76,336.38" fill="#cad4d8"/>
<polygon points="1186.57,364.93 1195.96,364.40 1194.52,335.23 1185.14,335.80" fill="#f1eceb"/>
<polygon points="1195.96,364.40 1205.34,363.87 1203.90,334.66 1194.52,335.23" fill="#cad4d8"/>
<polygon points="1205.34,363.87 1214.72,363.34 1213.28,334.08 1203.90,334.66" fill="#dfe0e2"/>
<polygon points="1214.72,363.34 1224.10,362.81 1222.65,333.51 1213.28,334.08" fill="#cad4d8"/>
<polygon points="1224.10,362.81 1233.48,362.28 1232.03,332.93 1222.65,333.51" fill="#b6c9d1"/>
<polygon points="1233.48,362.28 1242.86,361.76 1241.41,332.36 1232.03,332.93" fill="#dfe0e2"/>
<polygon points="1242.86,361.76 1252.24,361.23 1250.79,331.79 1241.41,332.36" fill="#ede2e0"/>
<polygon points="1252.24,361.23 1261.62,360.70 1260.17,331.21 1250.79,331.79" fill="#cad4d8"/>
<polygon points="1261.62,360.70 1271.00,360.17 1269.54,330.64 1260.17,331.21" fill="#224eb2"/>
<polygon points="1271.00,360.17 1280.38,359.64 1289.76,359.11 1288.30,329.49 1278.92,330.06 1269.54,330.64" fill="#d1907a"/>
<polygon points="1289.76,359.11 1299.14,358.58 1297.68,328.91 1288.30,329.49" fill="#dcb2a4"/>
<polygon points="1299.14,358.58 1308.52,358.05 1307.06,328.34 1297.68,328.91" fill="#f1eceb"/>
<polygon points="1308.52,358.05 1317.90,357.52 1316.44,327.76 1307.06,328.34" fill="#ede2e0"/>
<polygon points="1317.90,357.52 1327.28,356.99 1325.81,327.19 1316.44,327.76" fill="#610c1f"/>
<polygon points="1327.28,356.99 1336.67,356.46 1335.19,326.61 1325.81,327.19" fill="#418db9"/>
<polygon points="1336.67,356.46 1346.05,355.93 1344.57,326.04 1335.19,326.61" fill="#ede2e0"/>
<polygon points="1346.05,355.93 1355.43,355.39 1353.95,325.46 1344.57,326.04" fill="#224eb2"/>
<polygon points="1355.43,355.39 1364.81,354.86 1363.33,324.89 1353.95,325.46" fill="#c25f44"/>
<polygon points="1364.81,354.86 1374.19,354.33 1372.70,324.31 1363.33,324.89" fill="#901c26"/>
<polygon points="1374.19,354.33 1383.57,353.80 1382.08,323.73 1372.70,324.31" fill="#ac2c25"/>
<polygon points="1383.57,353.80 1392.95,353.27 1391.46,323.16 1382.08,323.73" fill="#e3cac1"/>
<polygon points="1392.95,353.27 1402.33,352.74 1400.84,322.58 1391.46,323.16" fill="#418db9"/>
<polygon points="1402.33,352.74 1411.71,352.21 1410.22,322.01 1400.84,322.58" fill="#d1907a"/>
<polygon points="1411.71,352.21 1421.09,351.68 1419.59,321.43 1410.22,322.01" fill="#93b7c4"/>
<polygon points="1421.09,351.68 1430.47,351.14 1428.97,320.85 1419.59,321.43" fill="#0c67bd"/>
<polygon points="1430.47,351.14 1439.85,350.61 1449.23,350.08 1447.73,319.70 1438.35,320.28 1428.97,320.85" fill="#d1907a"/>
<polygon points="1449.23,350.08 1458.61,349.55 1467.99,349.02 1466.48,318.55 1457.11,319.12 1447.73,319.70" fill="#ede2e0"/>
<polygon points="1467.99,349.02 1477.37,348.48 1486.75,347.95 1496.13,347.42 1505.51,346.89 1503.99,316.24 1494.62,316.81 1485.24,317.39 1475.86,317.97 1466.48,318.55" fill="#e3cac1"/>
<polygon points="894.41,353.52 903.79,352.95 913.17,352.38 911.69,324.56 902.32,325.17 892.94,325.79" fill="#ede2e0"/>
<polygon points="913.17,352.38 922.55,351.81 921.07,323.94 911.69,324.56" fill="#f1eceb"/>
<polygon points="922.55,351.81 931.92,351.24 930.45,323.33 921.07,323.94" fill="#0c67bd"/>
<polygon points="931.92,351.24 941.30,350.67 939.82,322.71 930.45,323.33" fill="#b6c9d1"/>
<polygon points="941.30,350.67 950.68,350.10 960.06,349.53 958.57,321.48 949.20,322.10 939.82,322.71" fill="#c25f44"/>
<polygon points="960.06,349.53 969.44,348.96 967.95,320.87 958.57,321.48" fill="#d1907a"/>
<polygon points="969.44,348.96 978.82,348.39 977.33,320.25 967.95,320.87" fill="#1a204d"/>
<polygon points="978.82,348.39 988.20,347.82 986.70,319.64 977.33,320.25" fill="#c25f44"/>
<polygon points="988.20,347.82 997.57,347.25 996.08,319.02 986.70,319.64" fill="#b6c9d1"/>
<polygon points="997.57,347.25 1006.95,346.68 1005.45,318.41 996.08,319.02" fill="#cad4d8"/>
<polygon points="1006.95,346.68 1016.33,346.10 1014.83,317.79 1005.45,318.41" fill="#ede2e0"/>
<polygon points="1016.33,346.10 1025.71,345.53 1024.21,317.17 1014.83,317.79" fill="#1a204d"/>
<polygon points="1025.71,345.53 1035.09,344.96 1044.47,344.39 1042.96,315.94 1033.58,316.56 1024.21,317.17" fill="#dcb2a4"/>
<polygon points="1044.47,344.39 1053.84,343.82 1052.33,315.32 1042.96,315.94" fill="#418db9"/>
<polygon points="1053.84,343.82 1063.22,343.25 1061.71,314.71 1052.33,315.32" fill="#6ea5be"/>
<polygon points="1063.22,343.25 1072.60,342.67 1071.08,314.09 1061.71,314.71" fill="#e3cac1"/>
<polygon points="1072.60,342.67 1081.98,342.10 1080.46,313.47 1071.08,314.09" fill="#c25f44"/>
<polygon points="1081.98,342.10 1091.36,341.53 1089.84,312.86 1080.46,313.47" fill="#b6c9d1"/>
<polygon points="1091.36,341.53 1100.74,340.96 1099.21,312.24 1089.84,312.86" fill="#418db9"/>
<polygon points="1100.74,340.96 1110.11,340.39 1108.59,311.62 1099.21,312.24" fill="#f1eceb"/>
<polygon points="1110.11,340.39 1119.49,339.81 1128.87,339.24 1127.34,310.39 1117.96,311.01 1108.59,311.62" fill="#b6c9d1"/>
<polygon points="1128.87,339.24 1138.25,338.67 1147.63,338.09 1146.09,309.15 1136.71,309.77 1127.34,310.39" fill="#cad4d8"/>
<polygon points="1147.63,338.09 1157.01,337.52 1166.38,336.95 1164.84,307.92 1155.46,308.54 1146.09,309.15" fill="#f1eceb"/>
<polygon points="1166.38,336.95 1175.76,336.38 1174.22,307.30 1164.84,307.92" fill="#dfe0e2"/>
<polygon points="1175.76,336.38 1185.14,335.80 1183.59,306.68 1174.22,307.30" fill="#cad4d8"/>
<polygon points="1185.14,335.80 1194.52,335.23 1192.97,306.06 1183.59,306.68" fill="#f1eceb"/>
<polygon points="1194.52,335.23 1203.90,334.66 1202.34,305.45 1192.97,306.06" fill="#dfe0e2"/>
<polygon points="1203.90,334.66 1213.28,334.08 1211.72,304.83 1202.34,305.45" fill="#ede2e0"/>
<polygon points="1213.28,334.08 1222.65,333.51 1221.09,304.21 1211.72,304.83" fill="#cad4d8"/>
<polygon points="1222.65,333.51 1232.03,332.93 1230.47,303.59 1221.09,304.21" fill="#93b7c4"/>
<polygon points="1232.03,332.93 1241.41,332.36 1239.84,302.97 1230.47,303.59" fill="#dfe0e2"/>
<polygon points="1241.41,332.36 1250.79,331.79 1260.17,331.21 1258.60,301.73 1249.22,302.35 1239.84,302.97" fill="#ede2e0"/>
<polygon points="1260.17,331.21 1269.54,330.64 1267.97,301.11 1258.60,301.73" fill="#dcb2a4"/>
<polygon points="1269.54,330.64 1278.92,330.06 1277.35,300.49 1267.97,301.11" fill="#f1eceb"/>
<polygon points="1278.92,330.06 1288.30,329.49 1286.72,299.87 1277.35,300.49" fill="#dcb2a4"/>
<polygon points="1288.30,329.49 1297.68,328.91 1296.10,299.26 1286.72,299.87" fill="#cad4d8"/>
<polygon points="1297.68,328.91 1307.06,328.34 1316.44,327.76 1314.85,298.02 1305.47,298.64 1296.10,299.26" fill="#f1eceb"/>
<polygon points="1316.44,327.76 1325.81,327.19 1324.22,297.40 1314.85,298.02" fill="#dfe0e2"/>
<polygon points="1325.81,327.19 1335.19,326.61 1333.60,296.78 1324.22,297.40" fill="#d1907a"/>
<polygon points="1335.19,326.61 1344.57,326.04 1342.97,296.16 1333.60,296.78" fill="#dcb2a4"/>
<polygon points="1344.57,326.04 1353.95,325.46 1352.35,295.54 1342.97,296.16" fill="#f1eceb"/>
<polygon points="1353.95,325.46 1363.33,324.89 1361.72,294.92 1352.35,295.54" fill="#ede2e0"/>
<polygon points="1363.33,324.89 1372.70,324.31 1371.10,294.29 1361.72,294.92" fill="#f1eceb"/>
<polygon points="1372.70,324.31 1382.08,323.73 1380.48,293.67 1371.10,294.29" fill="#cad4d8"/>
<polygon points="1382.08,323.73 1391.46,323.16 1389.85,293.05 1380.48,293.67" fill="#f1eceb"/>
<polygon points="1391.46,323.16 1400.84,322.58 1399.23,292.43 1389.85,293.05" fill="#418db9"/>
<polygon points="1400.84,322.58 1410.22,322.01 1419.59,321.43 1428.97,320.85 1427.35,290.57 1417.98,291.19 1408.60,291.81 1399.23,292.43" fill="#e3cac1"/>
<polygon points="1428.97,320.85 1438.35,320.28 1436.73,289.95 1427.35,290.57" fill="#400913"/>
<polygon points="1438.35,320.28 1447.73,319.70 1446.10,289.33 1436.73,289.95" fill="#7d1128"/>
<polygon points="1447.73,319.70 1457.11,319.12 1455.48,288.70 1446.10,289.33" fill="#dcb2a4"/>
<polygon points="1457.11,319.12 1466.48,318.55 1464.85,288.08 1455.48,288.70" fill="#f1eceb"/>
<polygon points="1466.48,318.55 1475.86,317.97 1485.24,317.39 1494.62,316.81 1503.99,316.24 1502.35,285.59 1492.98,286.22 1483.60,286.84 1474.23,287.46 1464.85,288.08" fill="#dcb2a4"/>
<polygon points="892.94,325.79 902.32,325.17 911.69,324.56 910.11,296.74 900.74,297.40 891.37,298.06" fill="#e3cac1"/>
<polygon points="911.69,324.56 921.07,323.94 919.48,296.08 910.11,296.74" fill="#d1907a"/>
<polygon points="921.07,323.94 930.45,323.33 928.86,295.42 919.48,296.08" fill="#7d1128"/>
<polygon points="930.45,323.33 939.82,322.71 949.20,322.10 947.60,294.10 938.23,294.76 928.86,295.42" fill="#f1eceb"/>
<polygon points="949.20,322.10 958.57,321.48 956.98,293.44 947.60,294.10" fill="#ac2c25"/>
<polygon points="958.57,321.48 967.95,320.87 966.35,292.78 956.98,293.44" fill="#6ea5be"/>
<polygon points="967.95,320.87 977.33,320.25 975.72,292.12 966.35,292.78" fill="#400913"/>
<polygon points="977.33,320.25 986.70,319.64 985.10,291.46 975.72,292.12" fill="#6ea5be"/>
<polygon points="986.70,319.64 996.08,319.02 994.47,290.80 985.10,291.46" fill="#d1907a"/>
<polygon points="996.08,319.02 1005.45,318.41 1003.84,290.14 994.47,290.80" fill="#c25f44"/>
<polygon points="1005.45,318.41 1014.83,317.79 1013.21,289.48 1003.84,290.14" fill="#cad4d8"/>
<polygon points="1014.83,317.79 1024.21,317.17 1022.59,288.82 1013.21,289.48" fill="#418db9"/>
<polygon points="1024.21,317.17 1033.58,316.56 1031.96,288.16 1022.59,288.82" fill="#dcb2a4"/>
<polygon points="1033.58,316.56 1042.96,315.94 1041.33,287.50 1031.96,288.16" fill="#dfe0e2"/>
<polygon points="1042.96,315.94 1052.33,315.32 1050.71,286.84 1041.33,287.50" fill="#d1907a"/>
<polygon points="1052.33,315.32 1061.71,314.71 1060.08,286.18 1050.71,286.84" fill="#ede2e0"/>
<polygon points="1061.71,314.71 1071.08,314.09 1069.45,285.52 1060.08,286.18" fill="#e3cac1"/>
<polygon points="1071.08,314.09 1080.46,313.47 1078.83,284.85 1069.45,285.52" fill="#93b7c4"/>
<polygon points="1080.46,313.47 1089.84,312.86 1088.20,284.19 1078.83,284.85" fill="#c25f44"/>
<polygon points="1089.84,312.86 1099.21,312.24 1097.57,283.53 1088.20,284.19" fill="#93b7c4"/>
<polygon points="1099.21,312.24 1108.59,311.62 1106.94,282.87 1097.57,283.53" fill="#e3cac1"/>
<polygon points="1108.59,311.62 1117.96,311.01 1116.32,282.21 1106.94,282.87" fill="#dfe0e2"/>
<polygon points="1117.96,311.01 1127.34,310.39 1136.71,309.77 1135.06,280.88 1125.69,281.54 1116.32,282.21" fill="#cad4d8"/>
<polygon points="1136.71,309.77 1146.09,309.15 1155.46,308.54 1153.81,279.56 1144.43,280.22 1135.06,280.88" fill="#ede2e0"/>
<polygon points="1155.46,308.54 1164.84,307.92 1174.22,307.30 1183.59,306.68 1192.97,306.06 1191.30,276.91 1181.93,277.57 1172.55,278.23 1163.18,278.90 1153.81,279.56" fill="#f1eceb"/>
<polygon points="1192.97,306.06 1202.34,305.45 1200.67,276.24 1191.30,276.91" fill="#b6c9d1"/>
<polygon points="1202.34,305.45 1211.72,304.83 1210.04,275.58 1200.67,276.24" fill="#e3cac1"/>
<polygon points="1211.72,304.83 1221.09,304.21 1219.42,274.92 1210.04,275.58" fill="#dfe0e2"/>
<polygon points="1221.09,304.21 1230.47,303.59 1228.79,274.25 1219.42,274.92" fill="#f1eceb"/>
<polygon points="1230.47,303.59 1239.84,302.97 1238.16,273.59 1228.79,274.25" fill="#dcb2a4"/>
<polygon points="1239.84,302.97 1249.22,302.35 1247.53,272.93 1238.16,273.59" fill="#f1eceb"/>
<polygon points="1249.22,302.35 1258.60,301.73 1256.91,272.26 1247.53,272.93" fill="#ede2e0"/>
<polygon points="1258.60,301.73 1267.97,301.11 1266.28,271.60 1256.91,272.26" fill="#cad4d8"/>
<polygon points="1267.97,301.11 1277.35,300.49 1275.65,270.93 1266.28,271.60" fill="#418db9"/>
<polygon points="1277.35,300.49 1286.72,299.87 1285.02,270.27 1275.65,270.93" fill="#ede2e0"/>
<polygon points="1286.72,299.87 1296.10,299.26 1294.40,269.61 1285.02,270.27" fill="#dcb2a4"/>
<polygon points="1296.10,299.26 1305.47,298.64 1303.77,268.94 1294.40,269.61" fill="#0c67bd"/>
<polygon points="1305.47,298.64 1314.85,298.02 1313.14,268.28 1303.77,268.94" fill="#dcb2a4"/>
<polygon points="1314.85,298.02 1324.22,297.40 1322.51,267.61 1313.14,268.28" fill="#d1907a"/>
<polygon points="1324.22,297.40 1333.60,296.78 1331.89,266.95 1322.51,267.61" fill="#93b7c4"/>
<polygon points="1333.60,296.78 1342.97,296.16 1341.26,266.28 1331.89,266.95" fill="#c25f44"/>
<polygon points="1342.97,296.16 1352.35,295.54 1350.63,265.62 1341.26,266.28" fill="#418db9"/>
<polygon points="1352.35,295.54 1361.72,294.92 1360.00,264.95 1350.63,265.62" fill="#ede2e0"/>
<polygon points="1361.72,294.92 1371.10,294.29 1369.38,264.29 1360.00,264.95" fill="#dfe0e2"/>
<polygon points="1371.10,294.29 1380.48,293.67 1378.75,263.62 1369.38,264.29" fill="#d1907a"/>
<polygon points="1380.48,293.67 1389.85,293.05 1388.12,262.96 1378.75,263.62" fill="#dcb2a4"/>
<polygon points="1389.85,293.05 1399.23,292.43 1397.49,262.29 1388.12,262.96" fill="#6ea5be"/>
<polygon points="1399.23,292.43 1408.60,291.81 1417.98,291.19 1416.24,260.96 1406.87,261.63 1397.49,262.29" fill="#d1907a"/>
<polygon points="1417.98,291.19 1427.35,290.57 1425.61,260.29 1416.24,260.96" fill="#610c1f"/>
<polygon points="1427.35,290.57 1436.73,289.95 1434.98,259.63 1425.61,260.29" fill="#d1907a"/>
<polygon points="1436.73,289.95 1446.10,289.33 1444.36,258.96 1434.98,259.63" fill="#6ea5be"/>
<polygon points="1446.10,289.33 1455.48,288.70 1453.73,258.29 1444.36,258.96" fill="#dcb2a4"/>
<polygon points="1455.48,288.70 1464.85,288.08 1463.10,257.63 1453.73,258.29" fill="#1a204d"/>
<polygon points="1464.85,288.08 1474.23,287.46 1483.60,286.84 1492.98,286.22 1502.35,285.59 1500.59,254.96 1491.22,255.63 1481.84,256.30 1472.47,256.96 1463.10,257.63" fill="#ac2c25"/>
<polygon points="891.37,298.06 900.74,297.40 910.11,296.74 919.48,296.08 917.79,268.23 908.42,268.94 899.05,269.64 889.68,270.34" fill="#dfe0e2"/>
<polygon points="919.48,296.08 928.86,295.42 927.16,267.53 917.79,268.23" fill="#dcb2a4"/>
<polygon points="928.86,295.42 938.23,294.76 936.53,266.82 927.16,267.53" fill="#6ea5be"/>
<polygon points="938.23,294.76 947.60,294.10 945.90,266.12 936.53,266.82" fill="#e3cac1"/>
<polygon points="947.60,294.10 956.98,293.44 955.27,265.41 945.90,266.12" fill="#224eb2"/>
<polygon points="956.98,293.44 966.35,292.78 964.64,264.71 955.27,265.41" fill="#ac2c25"/>
<polygon points="966.35,292.78 975.72,292.12 974.01,264.00 964.64,264.71" fill="#c25f44"/>
<polygon points="975.72,292.12 985.10,291.46 983.38,263.30 974.01,264.00" fill="#d1907a"/>
<polygon points="985.10,291.46 994.47,290.80 992.75,262.59 983.38,263.30" fill="#b6c9d1"/>
<polygon points="994.47,290.80 1003.84,290.14 1002.12,261.89 992.75,262.59" fill="#d1907a"/>
<polygon points="1003.84,290.14 1013.21,289.48 1011.49,261.18 1002.12,261.89" fill="#1a204d"/>
<polygon points="1013.21,289.48 1022.59,288.82 1031.96,288.16 1030.23,259.77 1020.86,260.48 1011.49,261.18" fill="#7d1128"/>
<polygon points="1031.96,288.16 1041.33,287.50 1039.60,259.07 1030.23,259.77" fill="#ac2c25"/>
<polygon points="1041.33,287.50 1050.71,286.84 1048.97,258.36 1039.60,259.07" fill="#293a8e"/>
<polygon points="1050.71,286.84 1060.08,286.18 1058.34,257.65 1048.97,258.36" fill="#ede2e0"/>
<polygon points="1060.08,286.18 1069.45,285.52 1067.71,256.95 1058.34,257.65" fill="#93b7c4"/>
<polygon points="1069.45,285.52 1078.83,284.85 1077.08,256.24 1067.71,256.95" fill="#0c67bd"/>
<polygon points="1078.83,284.85 1088.20,284.19 1086.45,255.54 1077.08,256.24" fill="#d1907a"/>
<polygon points="1088.20,284.19 1097.57,283.53 1095.82,254.83 1086.45,255.54" fill="#c25f44"/>
<polygon points="1097.57,283.53 1106.94,282.87 1105.19,254.12 1095.82,254.83" fill="#d1907a"/>
<polygon points="1106.94,282.87 1116.32,282.21 1114.56,253.42 1105.19,254.12" fill="#1a204d"/>
<polygon points="1116.32,282.21 1125.69,281.54 1123.93,252.71 1114.56,253.42" fill="#418db9"/>
<polygon points="1125.69,281.54 1135.06,280.88 1133.29,252.00 1123.93,252.71" fill="#c25f44"/>
<polygon points="1135.06,280.88 1144.43,280.22 1142.66,251.29 1133.29,252.00" fill="#6ea5be"/>
<polygon points="1144.43,280.22 1153.81,279.56 1152.03,250.59 1142.66,251.29" fill="#f1eceb"/>
<polygon points="1153.81,279.56 1163.18,278.90 1172.55,278.23 1170.77,249.17 1161.40,249.88 1152.03,250.59" fill="#e3cac1"/>
<polygon points="1172.55,278.23 1181.93,277.57 1180.14,248.47 1170.77,249.17" fill="#dcb2a4"/>
<polygon points="1181.93,277.57 1191.30,276.91 1189.51,247.76 1180.14,248.47" fill="#dfe0e2"/>
<polygon points="1191.30,276.91 1200.67,276.24 1198.88,247.05 1189.51,247.76" fill="#f1eceb"/>
<polygon points="1200.67,276.24 1210.04,275.58 1208.25,246.34 1198.88,247.05" fill="#ede2e0"/>
<polygon points="1210.04,275.58 1219.42,274.92 1217.62,245.63 1208.25,246.34" fill="#1a204d"/>
<polygon points="1219.42,274.92 1228.79,274.25 1226.99,244.93 1217.62,245.63" fill="#418db9"/>
<polygon points="1228.79,274.25 1238.16,273.59 1247.53,272.93 1245.73,243.51 1236.36,244.22 1226.99,244.93" fill="#f1eceb"/>
<polygon points="1247.53,272.93 1256.91,272.26 1255.10,242.80 1245.73,243.51" fill="#d1907a"/>
<polygon points="1256.91,272.26 1266.28,271.60 1264.47,242.09 1255.10,242.80" fill="#418db9"/>
<polygon points="1266.28,271.60 1275.65,270.93 1273.84,241.38 1264.47,242.09" fill="#d1907a"/>
<polygon points="1275.65,270.93 1285.02,270.27 1283.21,240.67 1273.84,241.38" fill="#e3cac1"/>
<polygon points="1285.02,270.27 1294.40,269.61 1292.58,239.97 1283.21,240.67" fill="#ac2c25"/>
<polygon points="1294.40,269.61 1303.77,268.94 1301.95,239.26 1292.58,239.97" fill="#e3cac1"/>
<polygon points="1303.77,268.94 1313.14,268.28 1311.32,238.55 1301.95,239.26" fill="#f1eceb"/>
<polygon points="1313.14,268.28 1322.51,267.61 1320.69,237.84 1311.32,238.55" fill="#d1907a"/>
<polygon points="1322.51,267.61 1331.89,266.95 1330.06,237.13 1320.69,237.84" fill="#c25f44"/>
<polygon points="1331.89,266.95 1341.26,266.28 1339.42,236.42 1330.06,237.13" fill="#400913"/>
<polygon points="1341.26,266.28 1350.63,265.62 1348.79,235.71 1339.42,236.42" fill="#dfe0e2"/>
<polygon points="1350.63,265.62 1360.00,264.95 1369.38,264.29 1378.75,263.62 1376.90,233.58 1367.53,234.29 1358.16,235.00 1348.79,235.71" fill="#f1eceb"/>
<polygon points="1378.75,263.62 1388.12,262.96 1386.27,232.87 1376.90,233.58" fill="#dfe0e2"/>
<polygon points="1388.12,262.96 1397.49,262.29 1395.64,232.16 1386.27,232.87" fill="#c25f44"/>
<polygon points="1397.49,262.29 1406.87,261.63 1416.24,260.96 1414.38,230.74 1405.01,231.45 1395.64,232.16" fill="#d1907a"/>
<polygon points="1416.24,260.96 1425.61,260.29 1423.75,230.03 1414.38,230.74" fill="#dfe0e2"/>
<polygon points="1425.61,260.29 1434.98,259.63 1433.12,229.32 1423.75,230.03" fill="#6ea5be"/>
<polygon points="1434.98,259.63 1444.36,258.96 1442.49,228.60 1433.12,229.32" fill="#dcb2a4"/>
<polygon points="1444.36,258.96 1453.73,258.29 1451.86,227.89 1442.49,228.60" fill="#e3cac1"/>
<polygon points="1453.73,258.29 1463.10,257.63 1461.23,227.18 1451.86,227.89" fill="#ac2c25"/>
<polygon points="1463.10,257.63 1472.47,256.96 1481.84,256.30 1491.22,255.63 1500.59,254.96 1498.70,224.34 1489.33,225.05 1479.96,225.76 1470.59,226.47 1461.23,227.18" fill="#293a8e"/>
<polygon points="889.68,270.34 899.05,269.64 908.42,268.94 917.79,268.23 915.98,240.39 906.61,241.14 897.25,241.89 887.88,242.63" fill="#418db9"/>
<polygon points="917.79,268.23 927.16,267.53 925.35,239.64 915.98,240.39" fill="#c25f44"/>
<polygon points="927.16,267.53 936.53,266.82 934.71,238.89 925.35,239.64" fill="#610c1f"/>
<polygon points="936.53,266.82 945.90,266.12 944.08,238.14 934.71,238.89" fill="#c25f44"/>
<polygon points="945.90,266.12 955.27,265.41 953.45,237.39 944.08,238.14" fill="#400913"/>
<polygon points="955.27,265.41 964.64,264.71 962.81,236.64 953.45,237.39" fill="#93b7c4"/>
<polygon points="964.64,264.71 974.01,264.00 972.18,235.89 962.81,236.64" fill="#0c67bd"/>
<polygon points="974.01,264.00 983.38,263.30 981.55,235.14 972.18,235.89" fill="#610c1f"/>
<polygon points="983.38,263.30 992.75,262.59 990.91,234.39 981.55,235.14" fill="#293a8e"/>
<polygon points="992.75,262.59 1002.12,261.89 1011.49,261.18 1009.65,232.89 1000.28,233.64 990.91,234.39" fill="#400913"/>
<polygon points="1011.49,261.18 1020.86,260.48 1019.01,232.14 1009.65,232.89" fill="#d1907a"/>
<polygon points="1020.86,260.48 1030.23,259.77 1028.38,231.39 1019.01,232.14" fill="#cad4d8"/>
<polygon points="1030.23,259.77 1039.60,259.07 1037.75,230.64 1028.38,231.39" fill="#400913"/>
<polygon points="1039.60,259.07 1048.97,258.36 1047.11,229.89 1037.75,230.64" fill="#0c67bd"/>
<polygon points="1048.97,258.36 1058.34,257.65 1056.48,229.14 1047.11,229.89" fill="#1a204d"/>
<polygon points="1058.34,257.65 1067.71,256.95 1065.85,228.39 1056.48,229.14" fill="#293a8e"/>
<polygon points="1067.71,256.95 1077.08,256.24 1075.21,227.64 1065.85,228.39" fill="#418db9"/>
<polygon points="1077.08,256.24 1086.45,255.54 1095.82,254.83 1093.95,226.14 1084.58,226.89 1075.21,227.64" fill="#ac2c25"/>
<polygon points="1095.82,254.83 1105.19,254.12 1114.56,253.42 1112.68,224.63 1103.31,225.38 1093.95,226.14" fill="#1a204d"/>
<polygon points="1114.56,253.42 1123.93,252.71 1122.05,223.88 1112.68,224.63" fill="#ac2c25"/>
<polygon points="1123.93,252.71 1133.29,252.00 1131.41,223.13 1122.05,223.88" fill="#1a204d"/>
<polygon points="1133.29,252.00 1142.66,251.29 1140.78,222.38 1131.41,223.13" fill="#e3cac1"/>
<polygon points="1142.66,251.29 1152.03,250.59 1150.15,221.63 1140.78,222.38" fill="#ac2c25"/>
<polygon points="1152.03,250.59 1161.40,249.88 1159.51,220.87 1150.15,221.63" fill="#e3cac1"/>
<polygon points="1161.40,249.88 1170.77,249.17 1168.88,220.12 1159.51,220.87" fill="#cad4d8"/>
<polygon points="1170.77,249.17 1180.14,248.47 1189.51,247.76 1198.88,247.05 1196.98,217.86 1187.61,218.62 1178.24,219.37 1168.88,220.12" fill="#d1907a"/>
<polygon points="1198.88,247.05 1208.25,246.34 1206.34,217.11 1196.98,217.86" fill="#cad4d8"/>
<polygon points="1208.25,246.34 1217.62,245.63 1215.71,216.36 1206.34,217.11" fill="#0c67bd"/>
<polygon points="1217.62,245.63 1226.99,244.93 1225.08,215.61 1215.71,216.36" fill="#418db9"/>
<polygon points="1226.99,244.93 1236.36,244.22 1245.73,243.51 1243.81,214.10 1234.44,214.85 1225.08,215.61" fill="#f1eceb"/>
<polygon points="1245.73,243.51 1255.10,242.80 1253.18,213.35 1243.81,214.10" fill="#c25f44"/>
<polygon points="1255.10,242.80 1264.47,242.09 1262.54,212.59 1253.18,213.35" fill="#224eb2"/>
<polygon points="1264.47,242.09 1273.84,241.38 1283.21,240.67 1281.27,211.09 1271.91,211.84 1262.54,212.59" fill="#d1907a"/>
<polygon points="1283.21,240.67 1292.58,239.97 1290.64,210.33 1281.27,211.09" fill="#ac2c25"/>
<polygon points="1292.58,239.97 1301.95,239.26 1300.01,209.58 1290.64,210.33" fill="#e3cac1"/>
<polygon points="1301.95,239.26 1311.32,238.55 1309.37,208.83 1300.01,209.58" fill="#ac2c25"/>
<polygon points="1311.32,238.55 1320.69,237.84 1318.74,208.07 1309.37,208.83" fill="#93b7c4"/>
<polygon points="1320.69,237.84 1330.06,237.13 1328.11,207.32 1318.74,208.07" fill="#1a204d"/>
<polygon points="1330.06,237.13 1339.42,236.42 1348.79,235.71 1346.84,205.81 1337.47,206.56 1328.11,207.32" fill="#293a8e"/>
<polygon points="1348.79,235.71 1358.16,235.00 1356.20,205.05 1346.84,205.81" fill="#ac2c25"/>
<polygon points="1358.16,235.00 1367.53,234.29 1365.57,204.30 1356.20,205.05" fill="#c25f44"/>
<polygon points="1367.53,234.29 1376.90,233.58 1374.94,203.54 1365.57,204.30" fill="#0c67bd"/>
<polygon points="1376.90,233.58 1386.27,232.87 1384.30,202.79 1374.94,203.54" fill="#293a8e"/>
<polygon points="1386.27,232.87 1395.64,232.16 1393.67,202.03 1384.30,202.79" fill="#f1eceb"/>
<polygon points="1395.64,232.16 1405.01,231.45 1414.38,230.74 1412.40,200.52 1403.03,201.28 1393.67,202.03" fill="#93b7c4"/>
<polygon points="1414.38,230.74 1423.75,230.03 1421.77,199.77 1412.40,200.52" fill="#e3cac1"/>
<polygon points="1423.75,230.03 1433.12,229.32 1431.13,199.01 1421.77,199.77" fill="#c25f44"/>
<polygon points="1433.12,229.32 1442.49,228.60 1440.50,198.26 1431.13,199.01" fill="#f1eceb"/>
<polygon points="1442.49,228.60 1451.86,227.89 1461.23,227.18 1459.23,196.75 1449.86,197.50 1440.50,198.26" fill="#418db9"/>
<polygon points="1461.23,227.18 1470.59,226.47 1468.60,195.99 1459.23,196.75" fill="#e3cac1"/>
<polygon points="1470.59,226.47 1479.96,225.76 1489.33,225.05 1498.70,224.34 1496.69,193.72 1487.33,194.48 1477.96,195.23 1468.60,195.99" fill="#d1907a"/>
<polygon points="887.88,242.63 897.25,241.89 906.61,241.14 915.98,240.39 914.06,212.55 904.70,213.35 895.33,214.14 885.97,214.93" fill="#418db9"/>
<polygon points="915.98,240.39 925.35,239.64 923.42,211.76 914.06,212.55" fill="#1a204d"/>
<polygon points="925.35,239.64 934.71,238.89 932.79,210.97 923.42,211.76" fill="#93b7c4"/>
<polygon points="934.71,238.89 944.08,238.14 942.15,210.17 932.79,210.97" fill="#293a8e"/>
<polygon points="944.08,238.14 953.45,237.39 951.51,209.38 942.15,210.17" fill="#0c67bd"/>
<polygon points="953.45,237.39 962.81,236.64 960.88,208.58 951.51,209.38" fill="#1a204d"/>
<polygon points="962.81,236.64 972.18,235.89 970.24,207.79 960.88,208.58" fill="#0c67bd"/>
<polygon points="972.18,235.89 981.55,235.14 979.60,206.99 970.24,207.79" fill="#1a204d"/>
<polygon points="981.55,235.14 990.91,234.39 988.97,206.20 979.60,206.99" fill="#93b7c4"/>
<polygon points="990.91,234.39 1000.28,233.64 998.33,205.41 988.97,206.20" fill="#d1907a"/>
<polygon points="1000.28,233.64 1009.65,232.89 1007.69,204.61 998.33,205.41" fill="#c25f44"/>
<polygon points="1009.65,232.89 1019.01,232.14 1017.06,203.82 1007.69,204.61" fill="#e3cac1"/>
<polygon points="1019.01,232.14 1028.38,231.39 1026.42,203.02 1017.06,203.82" fill="#cad4d8"/>
<polygon points="1028.38,231.39 1037.75,230.64 1035.78,202.23 1026.42,203.02" fill="#418db9"/>
<polygon points="1037.75,230.64 1047.11,229.89 1056.48,229.14 1054.51,200.63 1045.15,201.43 1035.78,202.23" fill="#e3cac1"/>
<polygon points="1056.48,229.14 1065.85,228.39 1063.87,199.84 1054.51,200.63" fill="#293a8e"/>
<polygon points="1065.85,228.39 1075.21,227.64 1073.24,199.04 1063.87,199.84" fill="#d1907a"/>
<polygon points="1075.21,227.64 1084.58,226.89 1082.60,198.25 1073.24,199.04" fill="#7d1128"/>
<polygon points="1084.58,226.89 1093.95,226.14 1091.96,197.45 1082.60,198.25" fill="#ac2c25"/>
<polygon points="1093.95,226.14 1103.31,225.38 1101.33,196.66 1091.96,197.45" fill="#cad4d8"/>
<polygon points="1103.31,225.38 1112.68,224.63 1110.69,195.86 1101.33,196.66" fill="#ac2c25"/>
<polygon points="1112.68,224.63 1122.05,223.88 1120.05,195.06 1110.69,195.86" fill="#d1907a"/>
<polygon points="1122.05,223.88 1131.41,223.13 1129.41,194.27 1120.05,195.06" fill="#610c1f"/>
<polygon points="1131.41,223.13 1140.78,222.38 1138.78,193.47 1129.41,194.27" fill="#7d1128"/>
<polygon points="1140.78,222.38 1150.15,221.63 1148.14,192.67 1138.78,193.47" fill="#0c67bd"/>
<polygon points="1150.15,221.63 1159.51,220.87 1157.50,191.88 1148.14,192.67" fill="#ac2c25"/>
<polygon points="1159.51,220.87 1168.88,220.12 1166.87,191.08 1157.50,191.88" fill="#0c67bd"/>
<polygon points="1168.88,220.12 1178.24,219.37 1176.23,190.28 1166.87,191.08" fill="#d1907a"/>
<polygon points="1178.24,219.37 1187.61,218.62 1185.59,189.49 1176.23,190.28" fill="#418db9"/>
<polygon points="1187.61,218.62 1196.98,217.86 1194.96,188.69 1185.59,189.49" fill="#93b7c4"/>
<polygon points="1196.98,217.86 1206.34,217.11 1215.71,216.36 1213.68,187.09 1204.32,187.89 1194.96,188.69" fill="#418db9"/>
<polygon points="1215.71,216.36 1225.08,215.61 1234.44,214.85 1232.41,185.50 1223.04,186.30 1213.68,187.09" fill="#93b7c4"/>
<polygon points="1234.44,214.85 1243.81,214.10 1253.18,213.35 1262.54,212.59 1260.50,183.11 1251.13,183.90 1241.77,184.70 1232.41,185.50" fill="#c25f44"/>
<polygon points="1262.54,212.59 1271.91,211.84 1269.86,182.31 1260.50,183.11" fill="#400913"/>
<polygon points="1271.91,211.84 1281.27,211.09 1279.22,181.51 1269.86,182.31" fill="#cad4d8"/>
<polygon points="1281.27,211.09 1290.64,210.33 1288.58,180.71 1279.22,181.51" fill="#400913"/>
<polygon points="1290.64,210.33 1300.01,209.58 1297.95,179.91 1288.58,180.71" fill="#ac2c25"/>
<polygon points="1300.01,209.58 1309.37,208.83 1307.31,179.11 1297.95,179.91" fill="#d1907a"/>
<polygon points="1309.37,208.83 1318.74,208.07 1316.67,178.31 1307.31,179.11" fill="#93b7c4"/>
<polygon points="1318.74,208.07 1328.11,207.32 1326.04,177.52 1316.67,178.31" fill="#400913"/>
<polygon points="1328.11,207.32 1337.47,206.56 1346.84,205.81 1344.76,175.92 1335.40,176.72 1326.04,177.52" fill="#c25f44"/>
<polygon points="1346.84,205.81 1356.20,205.05 1354.12,175.12 1344.76,175.92" fill="#7d1128"/>
<polygon points="1356.20,205.05 1365.57,204.30 1363.49,174.32 1354.12,175.12" fill="#c25f44"/>
<polygon points="1365.57,204.30 1374.94,203.54 1372.85,173.52 1363.49,174.32" fill="#93b7c4"/>
<polygon points="1374.94,203.54 1384.30,202.79 1382.21,172.72 1372.85,173.52" fill="#1a204d"/>
<polygon points="1384.30,202.79 1393.67,202.03 1391.57,171.92 1382.21,172.72" fill="#400913"/>
<polygon points="1393.67,202.03 1403.03,201.28 1400.94,171.12 1391.57,171.92" fill="#93b7c4"/>
<polygon points="1403.03,201.28 1412.40,200.52 1410.30,170.32 1400.94,171.12" fill="#c25f44"/>
<polygon points="1412.40,200.52 1421.77,199.77 1419.66,169.52 1410.30,170.32" fill="#1a204d"/>
<polygon points="1421.77,199.77 1431.13,199.01 1440.50,198.26 1438.39,167.92 1429.02,168.72 1419.66,169.52" fill="#e3cac1"/>
<polygon points="1440.50,198.26 1449.86,197.50 1447.75,167.12 1438.39,167.92" fill="#1a204d"/>
<polygon points="1449.86,197.50 1459.23,196.75 1457.11,166.32 1447.75,167.12" fill="#418db9"/>
<polygon points="1459.23,196.75 1468.60,195.99 1466.47,165.52 1457.11,166.32" fill="#7d1128"/>
<polygon points="1468.60,195.99 1477.96,195.23 1487.33,194.48 1496.69,193.72 1494.56,163.12 1485.20,163.92 1475.84,164.72 1466.47,165.52" fill="#93b7c4"/>
<polygon points="885.97,214.93 895.33,214.14 904.70,213.35 914.06,212.55 912.03,184.73 902.67,185.57 893.31,186.40 883.95,187.24" fill="#93b7c4"/>
<polygon points="914.06,212.55 923.42,211.76 921.39,183.89 912.03,184.73" fill="#7d1128"/>
<polygon points="923.42,211.76 932.79,210.97 930.75,183.05 921.39,183.89" fill="#93b7c4"/>
<polygon points="932.79,210.97 942.15,210.17 940.11,182.21 930.75,183.05" fill="#1a204d"/>
<polygon points="942.15,210.17 951.51,209.38 949.47,181.37 940.11,182.21" fill="#418db9"/>
<polygon points="951.51,209.38 960.88,208.58 958.83,180.53 949.47,181.37" fill="#1a204d"/>
<polygon points="960.88,208.58 970.24,207.79 968.19,179.70 958.83,180.53" fill="#93b7c4"/>
<polygon points="970.24,207.79 979.60,206.99 977.55,178.86 968.19,179.70" fill="#0c67bd"/>
<polygon points="979.60,206.99 988.97,206.20 986.91,178.02 977.55,178.86" fill="#418db9"/>
<polygon points="988.97,206.20 998.33,205.41 996.27,177.18 986.91,178.02" fill="#ac2c25"/>
<polygon points="998.33,205.41 1007.69,204.61 1005.63,176.34 996.27,177.18" fill="#f1eceb"/>
<polygon points="1007.69,204.61 1017.06,203.82 1014.99,175.50 1005.63,176.34" fill="#0c67bd"/>
<polygon points="1017.06,203.82 1026.42,203.02 1024.35,174.66 1014.99,175.50" fill="#7d1128"/>
<polygon points="1026.42,203.02 1035.78,202.23 1033.71,173.82 1024.35,174.66" fill="#610c1f"/>
<polygon points="1035.78,202.23 1045.15,201.43 1043.07,172.98 1033.71,173.82" fill="#d1907a"/>
<polygon points="1045.15,201.43 1054.51,200.63 1052.43,172.14 1043.07,172.98" fill="#1a204d"/>
<polygon points="1054.51,200.63 1063.87,199.84 1061.79,171.30 1052.43,172.14" fill="#400913"/>
<polygon points="1063.87,199.84 1073.24,199.04 1082.60,198.25 1080.50,169.62 1071.14,170.46 1061.79,171.30" fill="#c25f44"/>
<polygon points="1082.60,198.25 1091.96,197.45 1089.86,168.78 1080.50,169.62" fill="#93b7c4"/>
<polygon points="1091.96,197.45 1101.33,196.66 1099.22,167.94 1089.86,168.78" fill="#c25f44"/>
<polygon points="1101.33,196.66 1110.69,195.86 1108.58,167.10 1099.22,167.94" fill="#cad4d8"/>
<polygon points="1110.69,195.86 1120.05,195.06 1117.94,166.26 1108.58,167.10" fill="#418db9"/>
<polygon points="1120.05,195.06 1129.41,194.27 1127.30,165.41 1117.94,166.26" fill="#d1907a"/>
<polygon points="1129.41,194.27 1138.78,193.47 1136.66,164.57 1127.30,165.41" fill="#400913"/>
<polygon points="1138.78,193.47 1148.14,192.67 1146.02,163.73 1136.66,164.57" fill="#cad4d8"/>
<polygon points="1148.14,192.67 1157.50,191.88 1155.38,162.89 1146.02,163.73" fill="#c25f44"/>
<polygon points="1157.50,191.88 1166.87,191.08 1164.74,162.05 1155.38,162.89" fill="#224eb2"/>
<polygon points="1166.87,191.08 1176.23,190.28 1174.10,161.21 1164.74,162.05" fill="#cad4d8"/>
<polygon points="1176.23,190.28 1185.59,189.49 1183.46,160.37 1174.10,161.21" fill="#93b7c4"/>
<polygon points="1185.59,189.49 1194.96,188.69 1192.82,159.52 1183.46,160.37" fill="#1a204d"/>
<polygon points="1194.96,188.69 1204.32,187.89 1202.18,158.68 1192.82,159.52" fill="#418db9"/>
<polygon points="1204.32,187.89 1213.68,187.09 1211.54,157.84 1202.18,158.68" fill="#d1907a"/>
<polygon points="1213.68,187.09 1223.04,186.30 1220.90,157.00 1211.54,157.84" fill="#cad4d8"/>
<polygon points="1223.04,186.30 1232.41,185.50 1230.26,156.16 1220.90,157.00" fill="#f1eceb"/>
<polygon points="1232.41,185.50 1241.77,184.70 1251.13,183.90 1248.97,154.47 1239.61,155.31 1230.26,156.16" fill="#1a204d"/>
<polygon points="1251.13,183.90 1260.50,183.11 1258.33,153.63 1248.97,154.47" fill="#400913"/>
<polygon points="1260.50,183.11 1269.86,182.31 1267.69,152.78 1258.33,153.63" fill="#0c67bd"/>
<polygon points="1269.86,182.31 1279.22,181.51 1277.05,151.94 1267.69,152.78" fill="#7d1128"/>
<polygon points="1279.22,181.51 1288.58,180.71 1286.41,151.10 1277.05,151.94" fill="#93b7c4"/>
<polygon points="1288.58,180.71 1297.95,179.91 1295.77,150.26 1286.41,151.10" fill="#ac2c25"/>
<polygon points="1297.95,179.91 1307.31,179.11 1305.13,149.41 1295.77,150.26" fill="#93b7c4"/>
<polygon points="1307.31,179.11 1316.67,178.31 1314.49,148.57 1305.13,149.41" fill="#224eb2"/>
<polygon points="1316.67,178.31 1326.04,177.52 1323.85,147.72 1314.49,148.57" fill="#c25f44"/>
<polygon points="1326.04,177.52 1335.40,176.72 1333.21,146.88 1323.85,147.72" fill="#0c67bd"/>
<polygon points="1335.40,176.72 1344.76,175.92 1342.57,146.04 1333.21,146.88" fill="#c25f44"/>
<polygon points="1344.76,175.92 1354.12,175.12 1351.92,145.19 1342.57,146.04" fill="#418db9"/>
<polygon points="1354.12,175.12 1363.49,174.32 1361.28,144.35 1351.92,145.19" fill="#93b7c4"/>
<polygon points="1363.49,174.32 1372.85,173.52 1370.64,143.51 1361.28,144.35" fill="#f1eceb"/>
<polygon points="1372.85,173.52 1382.21,172.72 1380.00,142.66 1370.64,143.51" fill="#400913"/>
<polygon points="1382.21,172.72 1391.57,171.92 1389.36,141.82 1380.00,142.66" fill="#1a204d"/>
<polygon points="1391.57,171.92 1400.94,171.12 1398.72,140.97 1389.36,141.82" fill="#c25f44"/>
<polygon points="1400.94,171.12 1410.30,170.32 1408.08,140.13 1398.72,140.97" fill="#cad4d8"/>
<polygon points="1410.30,170.32 1419.66,169.52 1417.44,139.28 1408.08,140.13" fill="#7d1128"/>
<polygon points="1419.66,169.52 1429.02,168.72 1426.80,138.44 1417.44,139.28" fill="#293a8e"/>
<polygon points="1429.02,168.72 1438.39,167.92 1436.16,137.59 1426.80,138.44" fill="#c25f44"/>
<polygon points="1438.39,167.92 1447.75,167.12 1445.51,136.75 1436.16,137.59" fill="#224eb2"/>
<polygon points="1447.75,167.12 1457.11,166.32 1454.87,135.90 1445.51,136.75" fill="#cad4d8"/>
<polygon points="1457.11,166.32 1466.47,165.52 1464.23,135.06 1454.87,135.90" fill="#0c67bd"/>
<polygon points="1466.47,165.52 1475.84,164.72 1485.20,163.92 1494.56,163.12 1492.31,132.52 1482.95,133.37 1473.59,134.21 1464.23,135.06" fill="#1a204d"/>
<polygon points="883.95,187.24 893.31,186.40 902.67,185.57 912.03,184.73 909.89,156.91 900.53,157.80 891.17,158.68 881.82,159.56" fill="#224eb2"/>
<polygon points="912.03,184.73 921.39,183.89 919.24,156.03 909.89,156.91" fill="#610c1f"/>
<polygon points="921.39,183.89 930.75,183.05 928.60,155.15 919.24,156.03" fill="#0c67bd"/>
<polygon points="930.75,183.05 940.11,182.21 937.96,154.26 928.60,155.15" fill="#f1eceb"/>
<polygon points="940.11,182.21 949.47,181.37 947.31,153.38 937.96,154.26" fill="#224eb2"/>
<polygon points="949.47,181.37 958.83,180.53 956.67,152.50 947.31,153.38" fill="#ac2c25"/>
<polygon points="958.83,180.53 968.19,179.70 966.02,151.61 956.67,152.50" fill="#c25f44"/>
<polygon points="968.19,179.70 977.55,178.86 975.38,150.73 966.02,151.61" fill="#7d1128"/>
<polygon points="977.55,178.86 986.91,178.02 984.74,149.84 975.38,150.73" fill="#d1907a"/>
<polygon points="986.91,178.02 996.27,177.18 994.09,148.96 984.74,149.84" fill="#cad4d8"/>
<polygon points="996.27,177.18 1005.63,176.34 1003.45,148.08 994.09,148.96" fill="#610c1f"/>
<polygon points="1005.63,176.34 1014.99,175.50 1012.80,147.19 1003.45,148.08" fill="#93b7c4"/>
<polygon points="1014.99,175.50 1024.35,174.66 1022.16,146.31 1012.80,147.19" fill="#1a204d"/>
<polygon points="1024.35,174.66 1033.71,173.82 1031.52,145.42 1022.16,146.31" fill="#e3cac1"/>
<polygon points="1033.71,173.82 1043.07,172.98 1040.87,144.54 1031.52,145.42" fill="#418db9"/>
<polygon points="1043.07,172.98 1052.43,172.14 1050.23,143.65 1040.87,144.54" fill="#e3cac1"/>
<polygon points="1052.43,172.14 1061.79,171.30 1059.58,142.77 1050.23,143.65" fill="#1a204d"/>
<polygon points="1061.79,171.30 1071.14,170.46 1068.94,141.88 1059.58,142.77" fill="#93b7c4"/>
<polygon points="1071.14,170.46 1080.50,169.62 1078.29,141.00 1068.94,141.88" fill="#c25f44"/>
<polygon points="1080.50,169.62 1089.86,168.78 1087.65,140.11 1078.29,141.00" fill="#d1907a"/>
<polygon points="1089.86,168.78 1099.22,167.94 1097.01,139.23 1087.65,140.11" fill="#610c1f"/>
<polygon points="1099.22,167.94 1108.58,167.10 1106.36,138.34 1097.01,139.23" fill="#1a204d"/>
<polygon points="1108.58,167.10 1117.94,166.26 1115.72,137.46 1106.36,138.34" fill="#610c1f"/>
<polygon points="1117.94,166.26 1127.30,165.41 1125.07,136.57 1115.72,137.46" fill="#e3cac1"/>
<polygon points="1127.30,165.41 1136.66,164.57 1134.43,135.69 1125.07,136.57" fill="#f1eceb"/>
<polygon points="1136.66,164.57 1146.02,163.73 1143.79,134.80 1134.43,135.69" fill="#7d1128"/>
<polygon points="1146.02,163.73 1155.38,162.89 1153.14,133.91 1143.79,134.80" fill="#293a8e"/>
<polygon points="1155.38,162.89 1164.74,162.05 1162.50,133.03 1153.14,133.91" fill="#224eb2"/>
<polygon points="1164.74,162.05 1174.10,161.21 1171.85,132.14 1162.50,133.03" fill="#d1907a"/>
<polygon points="1174.10,161.21 1183.46,160.37 1181.21,131.26 1171.85,132.14" fill="#400913"/>
<polygon points="1183.46,160.37 1192.82,159.52 1190.56,130.37 1181.21,131.26" fill="#418db9"/>
<polygon points="1192.82,159.52 1202.18,158.68 1199.92,129.48 1190.56,130.37" fill="#1a204d"/>
<polygon points="1202.18,158.68 1211.54,157.84 1209.27,128.60 1199.92,129.48" fill="#7d1128"/>
<polygon points="1211.54,157.84 1220.90,157.00 1218.63,127.71 1209.27,128.60" fill="#93b7c4"/>
<polygon points="1220.90,157.00 1230.26,156.16 1227.99,126.82 1218.63,127.71" fill="#d1907a"/>
<polygon points="1230.26,156.16 1239.61,155.31 1237.34,125.93 1227.99,126.82" fill="#0c67bd"/>
<polygon points="1239.61,155.31 1248.97,154.47 1246.70,125.05 1237.34,125.93" fill="#400913"/>
<polygon points="1248.97,154.47 1258.33,153.63 1256.05,124.16 1246.70,125.05" fill="#1a204d"/>
<polygon points="1258.33,153.63 1267.69,152.78 1265.41,123.27 1256.05,124.16" fill="#c25f44"/>
<polygon points="1267.69,152.78 1277.05,151.94 1274.76,122.38 1265.41,123.27" fill="#e3cac1"/>
<polygon points="1277.05,151.94 1286.41,151.10 1284.12,121.50 1274.76,122.38" fill="#7d1128"/>
<polygon points="1286.41,151.10 1295.77,150.26 1293.47,120.61 1284.12,121.50" fill="#1a204d"/>
<polygon points="1295.77,150.26 1305.13,149.41 1302.83,119.72 1293.47,120.61" fill="#610c1f"/>
<polygon points="1305.13,149.41 1314.49,148.57 1312.18,118.83 1302.83,119.72" fill="#d1907a"/>
<polygon points="1314.49,148.57 1323.85,147.72 1321.54,117.94 1312.18,118.83" fill="#1a204d"/>
<polygon points="1323.85,147.72 1333.21,146.88 1330.90,117.06 1321.54,117.94" fill="#610c1f"/>
<polygon points="1333.21,146.88 1342.57,146.04 1340.25,116.17 1330.90,117.06" fill="#93b7c4"/>
<polygon points="1342.57,146.04 1351.92,145.19 1349.61,115.28 1340.25,116.17" fill="#f1eceb"/>
<polygon points="1351.92,145.19 1361.28,144.35 1358.96,114.39 1349.61,115.28" fill="#93b7c4"/>
<polygon points="1361.28,144.35 1370.64,143.51 1368.32,113.50 1358.96,114.39" fill="#c25f44"/>
<polygon points="1370.64,143.51 1380.00,142.66 1377.67,112.61 1368.32,113.50" fill="#cad4d8"/>
<polygon points="1380.00,142.66 1389.36,141.82 1387.03,111.72 1377.67,112.61" fill="#610c1f"/>
<polygon points="1389.36,141.82 1398.72,140.97 1396.38,110.83 1387.03,111.72" fill="#e3cac1"/>
<polygon points="1398.72,140.97 1408.08,140.13 1405.74,109.95 1396.38,110.83" fill="#1a204d"/>
<polygon points="1408.08,140.13 1417.44,139.28 1415.09,109.06 1405.74,109.95" fill="#f1eceb"/>
<polygon points="1417.44,139.28 1426.80,138.44 1424.45,108.17 1415.09,109.06" fill="#c25f44"/>
<polygon points="1426.80,138.44 1436.16,137.59 1433.80,107.28 1424.45,108.17" fill="#610c1f"/>
<polygon points="1436.16,137.59 1445.51,136.75 1443.16,106.39 1433.80,107.28" fill="#c25f44"/>
<polygon points="1445.51,136.75 1454.87,135.90 1452.51,105.50 1443.16,106.39" fill="#7d1128"/>
<polygon points="1454.87,135.90 1464.23,135.06 1461.87,104.61 1452.51,105.50" fill="#cad4d8"/>
<polygon points="1464.23,135.06 1473.59,134.21 1471.22,103.72 1461.87,104.61" fill="#93b7c4"/>
<polygon points="1473.59,134.21 1482.95,133.37 1492.31,132.52 1489.93,101.94 1480.58,102.83 1471.22,103.72" fill="#1a204d"/></g>
<rect x="908.50" y="67.50" width="563.80" height="615.80" fill="none" stroke="#000" stroke-width="1.11"/>
<line x1="908.50" y1="683.30" x2="908.50" y2="688.16" stroke="#000" stroke-width="1.11"/>
<text class="tk" x="908.50" y="710.10" text-anchor="middle">62</text>
<line x1="903.64" y1="683.50" x2="908.50" y2="683.50" stroke="#000" stroke-width="1.11"/>
<text class="tk" x="898.60" y="691.70" text-anchor="end">0</text>
<line x1="1002.50" y1="683.30" x2="1002.50" y2="688.16" stroke="#000" stroke-width="1.11"/>
<text class="tk" x="1002.50" y="710.10" text-anchor="middle">63</text>
<line x1="903.64" y1="580.50" x2="908.50" y2="580.50" stroke="#000" stroke-width="1.11"/>
<text class="tk" x="898.60" y="588.70" text-anchor="end">1</text>
<line x1="1096.50" y1="683.30" x2="1096.50" y2="688.16" stroke="#000" stroke-width="1.11"/>
<text class="tk" x="1096.50" y="710.10" text-anchor="middle">64</text>
<line x1="903.64" y1="478.50" x2="908.50" y2="478.50" stroke="#000" stroke-width="1.11"/>
<text class="tk" x="898.60" y="486.70" text-anchor="end">2</text>
<line x1="1190.50" y1="683.30" x2="1190.50" y2="688.16" stroke="#000" stroke-width="1.11"/>
<text class="tk" x="1190.50" y="710.10" text-anchor="middle">65</text>
<line x1="903.64" y1="375.50" x2="908.50" y2="375.50" stroke="#000" stroke-width="1.11"/>
<text class="tk" x="898.60" y="383.70" text-anchor="end">3</text>
<line x1="1284.50" y1="683.30" x2="1284.50" y2="688.16" stroke="#000" stroke-width="1.11"/>
<text class="tk" x="1284.50" y="710.10" text-anchor="middle">66</text>
<line x1="903.64" y1="272.50" x2="908.50" y2="272.50" stroke="#000" stroke-width="1.11"/>
<text class="tk" x="898.60" y="280.70" text-anchor="end">4</text>
<line x1="1378.50" y1="683.30" x2="1378.50" y2="688.16" stroke="#000" stroke-width="1.11"/>
<text class="tk" x="1378.50" y="710.10" text-anchor="middle">67</text>
<line x1="903.64" y1="170.50" x2="908.50" y2="170.50" stroke="#000" stroke-width="1.11"/>
<text class="tk" x="898.60" y="178.70" text-anchor="end">5</text>
<line x1="1472.50" y1="683.30" x2="1472.50" y2="688.16" stroke="#000" stroke-width="1.11"/>
<text class="tk" x="1472.50" y="710.10" text-anchor="middle">68</text>
<line x1="903.64" y1="67.50" x2="908.50" y2="67.50" stroke="#000" stroke-width="1.11"/>
<text class="tk" x="898.60" y="75.70" text-anchor="end">6</text>
<text class="ti" x="1185.20" y="29.90" text-anchor="middle">CSAPR2 134.5 Deg. 2022-06-02T11:34:15Z</text>
<text class="ti" x="1190.40" y="59.20" text-anchor="middle">Radial velocity of scatterers away from instrument</text>
<text class="lb" x="1190.40" y="738.00" text-anchor="middle">Distance from radar (km)</text>
<text class="lb" transform="translate(871.00,375.40) rotate(-90)" text-anchor="middle" xml:space="preserve">Distance Above radar  (km)</text>
<rect x="1507.60" y="67.50" width="30.90" height="615.80" fill="url(#gb)" stroke="#000" stroke-width="1.11"/>
<line x1="1538.50" y1="683.50" x2="1543.70" y2="683.50" stroke="#000" stroke-width="1.11"/>
<text class="tk" x="1548.30" y="691.70">−15</text>
<line x1="1538.50" y1="580.50" x2="1543.70" y2="580.50" stroke="#000" stroke-width="1.11"/>
<text class="tk" x="1548.30" y="588.70">−10</text>
<line x1="1538.50" y1="478.50" x2="1543.70" y2="478.50" stroke="#000" stroke-width="1.11"/>
<text class="tk" x="1548.30" y="486.70">−5</text>
<line x1="1538.50" y1="375.50" x2="1543.70" y2="375.50" stroke="#000" stroke-width="1.11"/>
<text class="tk" x="1548.30" y="383.70">0</text>
<line x1="1538.50" y1="272.50" x2="1543.70" y2="272.50" stroke="#000" stroke-width="1.11"/>
<text class="tk" x="1548.30" y="280.70">5</text>
<line x1="1538.50" y1="170.50" x2="1543.70" y2="170.50" stroke="#000" stroke-width="1.11"/>
<text class="tk" x="1548.30" y="178.70">10</text>
<line x1="1538.50" y1="67.50" x2="1543.70" y2="67.50" stroke="#000" stroke-width="1.11"/>
<text class="tk" x="1548.30" y="75.70">15</text>
<text class="lb" transform="translate(1618.00,375.40) rotate(-90)" text-anchor="middle">radial velocity of scatterers away from instrument (m/s)</text>
</svg>
</body></html>
